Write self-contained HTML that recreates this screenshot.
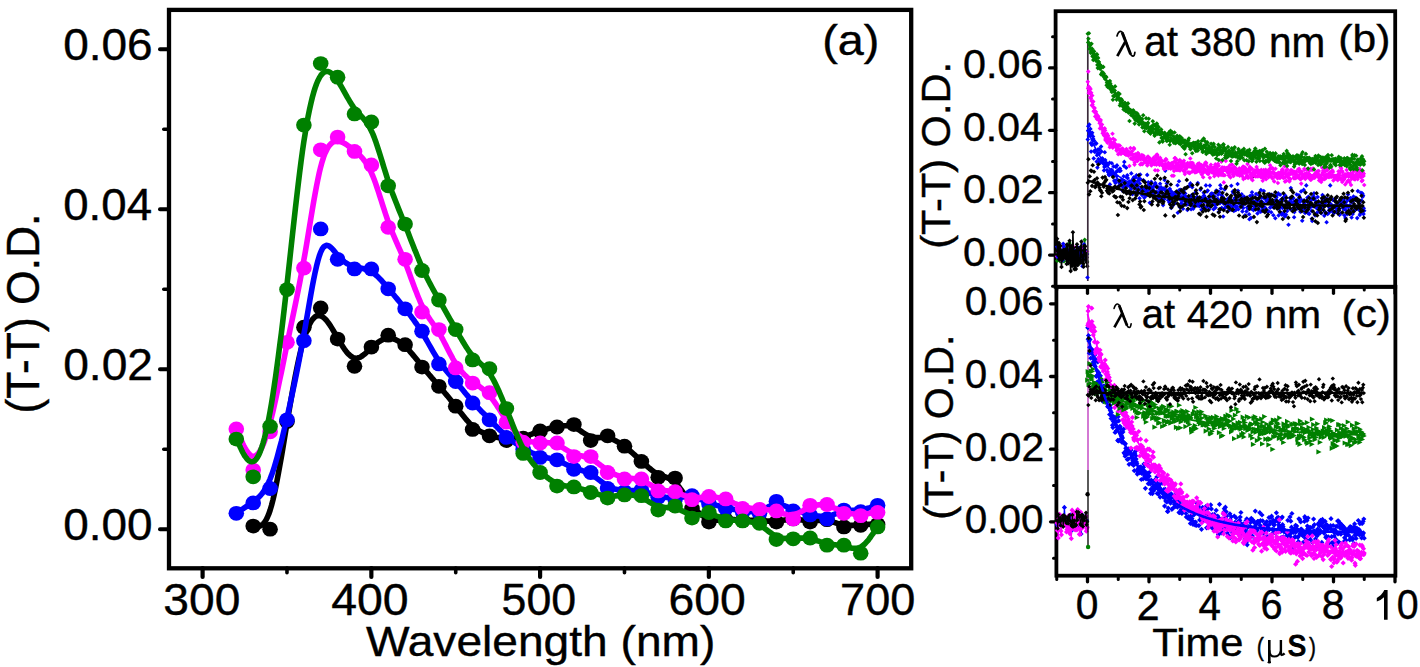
<!DOCTYPE html>
<html><head><meta charset="utf-8"><style>
html,body{margin:0;padding:0;background:#fff;overflow:hidden;width:1420px;height:667px;}
svg{display:block;}
</style></head><body>
<svg width="1420" height="667" viewBox="0 0 1420 667" font-family="Liberation Sans">
<defs><marker id="bk" markerUnits="userSpaceOnUse" viewBox="-5 -5 10 10" markerWidth="10" markerHeight="10" refX="0" refY="0" overflow="visible"><path d="M0 -2.30 L2.30 0 0 2.30 -2.30 0Z" fill="#000000"/></marker>
<marker id="bb" markerUnits="userSpaceOnUse" viewBox="-5 -5 10 10" markerWidth="10" markerHeight="10" refX="0" refY="0" overflow="visible"><path d="M0 -2.30 L2.30 0 0 2.30 -2.30 0Z" fill="#0000ff"/></marker>
<marker id="bm" markerUnits="userSpaceOnUse" viewBox="-5 -5 10 10" markerWidth="10" markerHeight="10" refX="0" refY="0" overflow="visible"><path d="M0 -2.30 L2.30 0 0 2.30 -2.30 0Z" fill="#ff00ff"/></marker>
<marker id="bg" markerUnits="userSpaceOnUse" viewBox="-5 -5 10 10" markerWidth="10" markerHeight="10" refX="0" refY="0" overflow="visible"><path d="M0 -2.30 L2.30 0 0 2.30 -2.30 0Z" fill="#008000"/></marker>
<marker id="ck" markerUnits="userSpaceOnUse" viewBox="-5 -5 10 10" markerWidth="10" markerHeight="10" refX="0" refY="0" overflow="visible"><path d="M0 -2.20 L2.20 0 0 2.20 -2.20 0Z" fill="#000000"/></marker>
<marker id="cb" markerUnits="userSpaceOnUse" viewBox="-5 -5 10 10" markerWidth="10" markerHeight="10" refX="0" refY="0" overflow="visible"><path d="M0 -2.60 L2.60 0 0 2.60 -2.60 0Z" fill="#0000ff"/></marker>
<marker id="cm" markerUnits="userSpaceOnUse" viewBox="-5 -5 10 10" markerWidth="10" markerHeight="10" refX="0" refY="0" overflow="visible"><path d="M0 -2.60 L2.60 0 0 2.60 -2.60 0Z" fill="#ff00ff"/></marker>
<marker id="cg" markerUnits="userSpaceOnUse" viewBox="-5 -5 10 10" markerWidth="10" markerHeight="10" refX="0" refY="0" overflow="visible"><path d="M-2.60 -2.60 L2.60 0 -2.60 2.60Z" fill="#008000"/></marker>
<marker id="dotk" markerUnits="userSpaceOnUse" viewBox="-5 -5 10 10" markerWidth="10" markerHeight="10" refX="0" refY="0" overflow="visible"><path d="M-2.20 0 A2.20 2.20 0 1 0 2.20 0 A2.20 2.20 0 1 0 -2.20 0Z" fill="#000000"/></marker>
<marker id="dotg" markerUnits="userSpaceOnUse" viewBox="-5 -5 10 10" markerWidth="10" markerHeight="10" refX="0" refY="0" overflow="visible"><path d="M-2.20 0 A2.20 2.20 0 1 0 2.20 0 A2.20 2.20 0 1 0 -2.20 0Z" fill="#008000"/></marker></defs>
<rect width="1420" height="667" fill="#fff"/>
<rect x="169" y="9.9" width="742.2" height="558.4" fill="none" stroke="#000" stroke-width="4.3"/>
<line x1="160.00" y1="529.20" x2="169.00" y2="529.20" stroke="#000" stroke-width="4.00" stroke-linecap="round"/>
<line x1="160.00" y1="369.20" x2="169.00" y2="369.20" stroke="#000" stroke-width="4.00" stroke-linecap="round"/>
<line x1="160.00" y1="209.20" x2="169.00" y2="209.20" stroke="#000" stroke-width="4.00" stroke-linecap="round"/>
<line x1="160.00" y1="49.20" x2="169.00" y2="49.20" stroke="#000" stroke-width="4.00" stroke-linecap="round"/>
<line x1="163.80" y1="449.20" x2="169.00" y2="449.20" stroke="#000" stroke-width="3.60" stroke-linecap="round"/>
<line x1="163.80" y1="289.20" x2="169.00" y2="289.20" stroke="#000" stroke-width="3.60" stroke-linecap="round"/>
<line x1="163.80" y1="129.20" x2="169.00" y2="129.20" stroke="#000" stroke-width="3.60" stroke-linecap="round"/>
<line x1="202.60" y1="568.00" x2="202.60" y2="576.90" stroke="#000" stroke-width="4.20" stroke-linecap="round"/>
<line x1="371.35" y1="568.00" x2="371.35" y2="576.90" stroke="#000" stroke-width="4.20" stroke-linecap="round"/>
<line x1="540.10" y1="568.00" x2="540.10" y2="576.90" stroke="#000" stroke-width="4.20" stroke-linecap="round"/>
<line x1="708.85" y1="568.00" x2="708.85" y2="576.90" stroke="#000" stroke-width="4.20" stroke-linecap="round"/>
<line x1="877.60" y1="568.00" x2="877.60" y2="576.90" stroke="#000" stroke-width="4.20" stroke-linecap="round"/>
<line x1="286.98" y1="568.00" x2="286.98" y2="572.70" stroke="#000" stroke-width="3.60" stroke-linecap="round"/>
<line x1="455.73" y1="568.00" x2="455.73" y2="572.70" stroke="#000" stroke-width="3.60" stroke-linecap="round"/>
<line x1="624.48" y1="568.00" x2="624.48" y2="572.70" stroke="#000" stroke-width="3.60" stroke-linecap="round"/>
<line x1="793.23" y1="568.00" x2="793.23" y2="572.70" stroke="#000" stroke-width="3.60" stroke-linecap="round"/>
<text transform="matrix(0.458739 0.000000 0.000000 0.446323 63.208050 540.464138)" font-family="Liberation Sans" font-size="100" fill="#000" stroke="#000" stroke-width="0.40" vector-effect="non-scaling-stroke">0.00</text>
<text transform="matrix(0.461514 0.000000 0.000000 0.446323 63.197213 380.464138)" font-family="Liberation Sans" font-size="100" fill="#000" stroke="#000" stroke-width="0.40" vector-effect="non-scaling-stroke">0.02</text>
<text transform="matrix(0.456354 0.000000 0.000000 0.446323 63.217369 220.464138)" font-family="Liberation Sans" font-size="100" fill="#000" stroke="#000" stroke-width="0.40" vector-effect="non-scaling-stroke">0.04</text>
<text transform="matrix(0.459941 0.000000 0.000000 0.446323 63.203354 60.464138)" font-family="Liberation Sans" font-size="100" fill="#000" stroke="#000" stroke-width="0.40" vector-effect="non-scaling-stroke">0.06</text>
<text transform="matrix(0.461256 0.000000 0.000000 0.435023 163.343265 615.475172)" font-family="Liberation Sans" font-size="100" fill="#000" stroke="#000" stroke-width="0.40" vector-effect="non-scaling-stroke">300</text>
<text transform="matrix(0.464379 0.000000 0.000000 0.435023 331.134286 615.475172)" font-family="Liberation Sans" font-size="100" fill="#000" stroke="#000" stroke-width="0.40" vector-effect="non-scaling-stroke">400</text>
<text transform="matrix(0.447351 0.000000 0.000000 0.435023 501.608848 615.475172)" font-family="Liberation Sans" font-size="100" fill="#000" stroke="#000" stroke-width="0.40" vector-effect="non-scaling-stroke">500</text>
<text transform="matrix(0.463065 0.000000 0.000000 0.435023 668.548500 615.475172)" font-family="Liberation Sans" font-size="100" fill="#000" stroke="#000" stroke-width="0.40" vector-effect="non-scaling-stroke">600</text>
<text transform="matrix(0.450535 0.000000 0.000000 0.435023 840.090130 615.475172)" font-family="Liberation Sans" font-size="100" fill="#000" stroke="#000" stroke-width="0.40" vector-effect="non-scaling-stroke">700</text>
<text transform="matrix(0.461221 0.000000 0.000000 0.419470 365.897315 655.595181)" font-family="Liberation Sans" font-size="100" fill="#000" stroke="#000" stroke-width="0.40" vector-effect="non-scaling-stroke">Wavelength (nm)</text>
<text transform="matrix(0.000000 -0.444684 0.470138 0.000000 38.566667 413.557561)" font-family="Liberation Sans" font-size="100" fill="#000" stroke="#000" stroke-width="0.40" vector-effect="non-scaling-stroke">(T-T) O.D.</text>
<text transform="matrix(0.467607 0.000000 0.000000 0.428277 822.150289 55.233333)" font-family="Liberation Sans" font-size="100" fill="#000" stroke="#000" stroke-width="0.40" vector-effect="non-scaling-stroke">(a)</text>
<g>
<path d="M253.2 525.6 L253.2 525.6 L253.2 525.6 L253.3 525.6 L253.3 525.6 L253.4 525.6 L253.6 525.6 L253.8 525.7 L254.1 525.7 L254.4 525.8 L254.9 525.9 L255.4 526.0 L256.0 526.1 L256.8 526.2 L257.7 526.3 L258.6 526.3 L259.7 526.1 L260.8 525.7 L262.0 524.9 L263.3 523.8 L264.6 522.2 L265.9 520.2 L267.3 517.5 L268.7 514.2 L270.1 510.2 L271.5 505.5 L272.9 500.1 L274.3 494.0 L275.7 487.4 L277.1 480.3 L278.5 472.8 L279.9 465.0 L281.4 456.8 L282.8 448.5 L284.2 440.1 L285.6 431.6 L287.0 423.2 L288.4 414.8 L289.8 406.6 L291.2 398.5 L292.6 390.6 L294.0 383.0 L295.4 375.6 L296.8 368.6 L298.2 361.9 L299.6 355.5 L301.0 349.6 L302.4 344.2 L303.8 339.2 L305.3 334.7 L306.7 330.8 L308.1 327.3 L309.5 324.3 L310.9 321.8 L312.3 319.7 L313.7 318.1 L315.1 316.8 L316.5 316.0 L317.9 315.6 L319.3 315.6 L320.7 315.9 L322.1 316.6 L323.5 317.5 L324.9 318.8 L326.4 320.3 L327.8 322.1 L329.2 324.0 L330.6 326.1 L332.0 328.4 L333.4 330.7 L334.8 333.1 L336.2 335.5 L337.6 338.0 L339.0 340.4 L340.4 342.8 L341.8 345.0 L343.2 347.2 L344.6 349.3 L346.0 351.2 L347.4 352.9 L348.9 354.4 L350.3 355.7 L351.7 356.8 L353.1 357.6 L354.5 358.1 L355.9 358.3 L357.3 358.1 L358.7 357.8 L360.1 357.2 L361.5 356.4 L362.9 355.4 L364.3 354.3 L365.7 353.1 L367.1 351.8 L368.5 350.5 L369.9 349.2 L371.3 347.8 L372.8 346.6 L374.2 345.3 L375.6 344.2 L377.0 343.1 L378.4 342.1 L379.8 341.2 L381.2 340.4 L382.6 339.8 L384.0 339.2 L385.4 338.7 L386.8 338.4 L388.2 338.2 L389.6 338.2 L391.0 338.3 L392.4 338.6 L393.9 339.0 L395.3 339.5 L396.7 340.2 L398.1 340.9 L399.5 341.8 L400.9 342.8 L402.3 343.9 L403.7 345.1 L405.1 346.4 L406.5 347.7 L407.9 349.2 L409.3 350.7 L410.7 352.3 L412.1 353.9 L413.5 355.6 L414.9 357.3 L416.4 359.1 L417.8 360.8 L419.2 362.6 L420.6 364.3 L422.0 366.1 L423.4 367.8 L424.8 369.5 L426.2 371.2 L427.6 372.8 L429.0 374.5 L430.4 376.1 L431.8 377.8 L433.2 379.4 L434.6 381.0 L436.0 382.7 L437.4 384.3 L438.8 385.9 L440.3 387.5 L441.7 389.2 L443.1 390.8 L444.5 392.5 L445.9 394.2 L447.3 395.8 L448.7 397.5 L450.1 399.2 L451.5 401.0 L452.9 402.7 L454.3 404.5 L455.7 406.3 L457.1 408.1 L458.5 409.9 L459.9 411.7 L461.4 413.5 L462.8 415.3 L464.2 417.0 L465.6 418.7 L467.0 420.4 L468.4 421.9 L469.8 423.4 L471.2 424.8 L472.6 426.1 L474.0 427.3 L475.4 428.4 L476.8 429.3 L478.2 430.2 L479.6 431.0 L481.0 431.7 L482.4 432.4 L483.9 433.0 L485.3 433.5 L486.7 434.1 L488.1 434.6 L489.5 435.0 L490.9 435.5 L492.3 435.9 L493.7 436.4 L495.1 436.8 L496.5 437.2 L497.9 437.5 L499.3 437.8 L500.7 438.1 L502.1 438.4 L503.5 438.6 L504.9 438.8 L506.3 438.9 L507.8 439.0 L509.2 439.0 L510.6 439.0 L512.0 438.9 L513.4 438.8 L514.8 438.6 L516.2 438.4 L517.6 438.2 L519.0 437.9 L520.4 437.6 L521.8 437.3 L523.2 436.9 L524.6 436.5 L526.0 436.0 L527.4 435.6 L528.9 435.1 L530.3 434.6 L531.7 434.1 L533.1 433.5 L534.5 433.0 L535.9 432.5 L537.3 432.0 L538.7 431.5 L540.1 431.0 L541.5 430.6 L542.9 430.1 L544.3 429.7 L545.7 429.3 L547.1 429.0 L548.5 428.6 L549.9 428.3 L551.4 427.9 L552.8 427.6 L554.2 427.3 L555.6 427.0 L557.0 426.8 L558.4 426.5 L559.8 426.3 L561.2 426.1 L562.6 425.9 L564.0 425.8 L565.4 425.7 L566.8 425.7 L568.2 425.8 L569.6 426.0 L571.0 426.3 L572.4 426.7 L573.9 427.2 L575.3 427.8 L576.7 428.5 L578.1 429.3 L579.5 430.2 L580.9 431.1 L582.3 432.1 L583.7 433.0 L585.1 433.9 L586.5 434.7 L587.9 435.4 L589.3 436.1 L590.7 436.6 L592.1 437.0 L593.5 437.3 L594.9 437.5 L596.4 437.6 L597.8 437.6 L599.2 437.6 L600.6 437.5 L602.0 437.5 L603.4 437.5 L604.8 437.5 L606.2 437.6 L607.6 437.8 L609.0 438.1 L610.4 438.5 L611.8 439.0 L613.2 439.5 L614.6 440.2 L616.0 440.9 L617.4 441.7 L618.9 442.5 L620.3 443.5 L621.7 444.4 L623.1 445.4 L624.5 446.5 L625.9 447.6 L627.3 448.7 L628.7 449.8 L630.1 451.0 L631.5 452.2 L632.9 453.4 L634.3 454.6 L635.7 455.9 L637.1 457.1 L638.5 458.4 L639.9 459.7 L641.4 461.0 L642.8 462.3 L644.2 463.6 L645.6 464.9 L647.0 466.1 L648.4 467.4 L649.8 468.5 L651.2 469.7 L652.6 470.8 L654.0 471.8 L655.4 472.7 L656.8 473.6 L658.2 474.3 L659.6 475.0 L661.0 475.5 L662.4 476.0 L663.9 476.5 L665.3 477.0 L666.7 477.5 L668.1 478.1 L669.5 478.7 L670.9 479.5 L672.3 480.3 L673.7 481.4 L675.1 482.6 L676.5 484.0 L677.9 485.5 L679.3 487.3 L680.7 489.1 L682.1 491.1 L683.5 493.1 L684.9 495.1 L686.4 497.2 L687.8 499.3 L689.2 501.3 L690.6 503.3 L692.0 505.2 L693.4 507.0 L694.8 508.6 L696.2 510.2 L697.6 511.6 L699.0 512.9 L700.4 514.1 L701.8 515.2 L703.2 516.1 L704.6 517.0 L706.0 517.7 L707.4 518.4 L708.9 518.9 L710.3 519.3 L711.7 519.6 L713.1 519.8 L714.5 520.0 L715.9 520.1 L717.3 520.1 L718.7 520.1 L720.1 520.0 L721.5 519.9 L722.9 519.9 L724.3 519.8 L725.7 519.7 L727.1 519.6 L728.5 519.6 L729.9 519.6 L731.4 519.6 L732.8 519.6 L734.2 519.6 L735.6 519.7 L737.0 519.7 L738.4 519.8 L739.8 519.8 L741.2 519.9 L742.6 520.0 L744.0 520.0 L745.4 520.1 L746.8 520.2 L748.2 520.2 L749.6 520.3 L751.0 520.4 L752.4 520.4 L753.9 520.5 L755.3 520.6 L756.7 520.6 L758.1 520.7 L759.5 520.8 L760.9 520.8 L762.3 520.9 L763.7 521.0 L765.1 521.0 L766.5 521.0 L767.9 521.1 L769.3 521.1 L770.7 521.1 L772.1 521.1 L773.5 521.0 L774.9 521.0 L776.3 520.9 L777.8 520.8 L779.2 520.6 L780.6 520.5 L782.0 520.3 L783.4 520.2 L784.8 520.0 L786.2 519.9 L787.6 519.7 L789.0 519.6 L790.4 519.5 L791.8 519.5 L793.2 519.4 L794.6 519.5 L796.0 519.5 L797.4 519.6 L798.9 519.7 L800.3 519.8 L801.7 520.0 L803.1 520.1 L804.5 520.3 L805.9 520.4 L807.3 520.5 L808.7 520.6 L810.1 520.6 L811.5 520.6 L812.9 520.6 L814.3 520.6 L815.7 520.5 L817.1 520.5 L818.5 520.4 L819.9 520.4 L821.4 520.4 L822.8 520.4 L824.2 520.5 L825.6 520.6 L827.0 520.8 L828.4 521.0 L829.8 521.3 L831.2 521.6 L832.6 522.0 L834.0 522.4 L835.4 522.8 L836.8 523.2 L838.2 523.6 L839.6 524.0 L841.0 524.3 L842.4 524.6 L843.8 524.9 L845.3 525.1 L846.7 525.2 L848.1 525.3 L849.5 525.4 L850.9 525.4 L852.3 525.4 L853.7 525.3 L855.1 525.3 L856.5 525.2 L857.9 525.1 L859.3 525.0 L860.7 524.9 L862.1 524.8 L863.5 524.7 L864.9 524.6 L866.2 524.5 L867.6 524.5 L868.8 524.4 L870.0 524.3 L871.1 524.3 L872.2 524.2 L873.2 524.2 L874.0 524.1 L874.8 524.1 L875.4 524.1 L876.0 524.0 L876.4 524.0 L876.8 524.0 L877.0 524.0 L877.2 524.0 L877.4 524.0 L877.5 524.0 L877.6 524.0 L877.6 524.0 L877.6 524.0 L877.6 524.0" fill="none" stroke="#000000" stroke-width="5.6" stroke-linejoin="round" stroke-linecap="round"/>
<ellipse cx="253.2" cy="526.1" rx="7.8" ry="7.4" fill="#000000"/>
<ellipse cx="270.1" cy="529.2" rx="7.8" ry="7.4" fill="#000000"/>
<ellipse cx="287.0" cy="421.4" rx="7.8" ry="7.4" fill="#000000"/>
<ellipse cx="303.9" cy="327.2" rx="7.8" ry="7.4" fill="#000000"/>
<ellipse cx="320.7" cy="308.0" rx="7.8" ry="7.4" fill="#000000"/>
<ellipse cx="337.6" cy="339.1" rx="7.8" ry="7.4" fill="#000000"/>
<ellipse cx="354.5" cy="366.3" rx="7.8" ry="7.4" fill="#000000"/>
<ellipse cx="371.4" cy="347.1" rx="7.8" ry="7.4" fill="#000000"/>
<ellipse cx="388.2" cy="335.2" rx="7.8" ry="7.4" fill="#000000"/>
<ellipse cx="405.1" cy="344.7" rx="7.8" ry="7.4" fill="#000000"/>
<ellipse cx="422.0" cy="367.1" rx="7.8" ry="7.4" fill="#000000"/>
<ellipse cx="438.9" cy="386.3" rx="7.8" ry="7.4" fill="#000000"/>
<ellipse cx="455.7" cy="406.2" rx="7.8" ry="7.4" fill="#000000"/>
<ellipse cx="472.6" cy="429.4" rx="7.8" ry="7.4" fill="#000000"/>
<ellipse cx="489.5" cy="435.8" rx="7.8" ry="7.4" fill="#000000"/>
<ellipse cx="506.4" cy="440.6" rx="7.8" ry="7.4" fill="#000000"/>
<ellipse cx="523.2" cy="438.2" rx="7.8" ry="7.4" fill="#000000"/>
<ellipse cx="540.1" cy="431.0" rx="7.8" ry="7.4" fill="#000000"/>
<ellipse cx="557.0" cy="427.0" rx="7.8" ry="7.4" fill="#000000"/>
<ellipse cx="573.9" cy="424.6" rx="7.8" ry="7.4" fill="#000000"/>
<ellipse cx="590.7" cy="440.6" rx="7.8" ry="7.4" fill="#000000"/>
<ellipse cx="607.6" cy="435.8" rx="7.8" ry="7.4" fill="#000000"/>
<ellipse cx="624.5" cy="446.2" rx="7.8" ry="7.4" fill="#000000"/>
<ellipse cx="641.4" cy="461.4" rx="7.8" ry="7.4" fill="#000000"/>
<ellipse cx="658.2" cy="477.3" rx="7.8" ry="7.4" fill="#000000"/>
<ellipse cx="675.1" cy="478.1" rx="7.8" ry="7.4" fill="#000000"/>
<ellipse cx="692.0" cy="508.5" rx="7.8" ry="7.4" fill="#000000"/>
<ellipse cx="708.9" cy="522.1" rx="7.8" ry="7.4" fill="#000000"/>
<ellipse cx="725.7" cy="519.7" rx="7.8" ry="7.4" fill="#000000"/>
<ellipse cx="742.6" cy="520.5" rx="7.8" ry="7.4" fill="#000000"/>
<ellipse cx="759.5" cy="521.3" rx="7.8" ry="7.4" fill="#000000"/>
<ellipse cx="776.4" cy="522.1" rx="7.8" ry="7.4" fill="#000000"/>
<ellipse cx="793.2" cy="518.9" rx="7.8" ry="7.4" fill="#000000"/>
<ellipse cx="810.1" cy="522.1" rx="7.8" ry="7.4" fill="#000000"/>
<ellipse cx="827.0" cy="519.7" rx="7.8" ry="7.4" fill="#000000"/>
<ellipse cx="843.9" cy="526.9" rx="7.8" ry="7.4" fill="#000000"/>
<ellipse cx="860.7" cy="525.3" rx="7.8" ry="7.4" fill="#000000"/>
<ellipse cx="877.6" cy="524.5" rx="7.8" ry="7.4" fill="#000000"/>
<path d="M236.3 512.8 L236.4 512.8 L236.4 512.8 L236.4 512.7 L236.5 512.7 L236.6 512.6 L236.7 512.6 L236.9 512.4 L237.2 512.3 L237.5 512.0 L238.0 511.8 L238.5 511.4 L239.2 511.0 L239.9 510.6 L240.8 510.0 L241.8 509.4 L242.8 508.8 L243.9 508.1 L245.1 507.3 L246.4 506.5 L247.7 505.6 L249.1 504.7 L250.4 503.7 L251.8 502.7 L253.2 501.7 L254.6 500.7 L256.0 499.6 L257.4 498.4 L258.9 497.1 L260.3 495.6 L261.7 494.0 L263.1 492.2 L264.5 490.1 L265.9 487.8 L267.3 485.2 L268.7 482.2 L270.1 479.0 L271.5 475.3 L272.9 471.3 L274.3 467.0 L275.7 462.4 L277.1 457.5 L278.5 452.3 L279.9 446.9 L281.4 441.4 L282.8 435.6 L284.2 429.7 L285.6 423.7 L287.0 417.6 L288.4 411.4 L289.8 405.1 L291.2 398.7 L292.6 392.2 L294.0 385.6 L295.4 378.9 L296.8 372.0 L298.2 364.9 L299.6 357.7 L301.0 350.3 L302.4 342.6 L303.8 334.8 L305.3 326.7 L306.7 318.6 L308.1 310.4 L309.5 302.2 L310.9 294.3 L312.3 286.6 L313.7 279.3 L315.1 272.5 L316.5 266.3 L317.9 260.7 L319.3 256.0 L320.7 252.1 L322.1 249.2 L323.5 247.2 L324.9 246.0 L326.4 245.4 L327.8 245.5 L329.2 246.1 L330.6 247.2 L332.0 248.5 L333.4 250.1 L334.8 251.8 L336.2 253.6 L337.6 255.3 L339.0 256.9 L340.4 258.4 L341.8 259.7 L343.2 260.9 L344.6 262.0 L346.0 262.9 L347.4 263.8 L348.9 264.6 L350.3 265.2 L351.7 265.8 L353.1 266.3 L354.5 266.8 L355.9 267.1 L357.3 267.4 L358.7 267.7 L360.1 268.0 L361.5 268.3 L362.9 268.6 L364.3 268.9 L365.7 269.3 L367.1 269.7 L368.5 270.3 L369.9 270.9 L371.3 271.7 L372.8 272.6 L374.2 273.6 L375.6 274.8 L377.0 276.0 L378.4 277.3 L379.8 278.8 L381.2 280.2 L382.6 281.8 L384.0 283.4 L385.4 285.0 L386.8 286.7 L388.2 288.3 L389.6 290.0 L391.0 291.7 L392.4 293.3 L393.9 295.0 L395.3 296.7 L396.7 298.4 L398.1 300.1 L399.5 301.8 L400.9 303.5 L402.3 305.2 L403.7 306.9 L405.1 308.7 L406.5 310.5 L407.9 312.3 L409.3 314.1 L410.7 315.9 L412.1 317.8 L413.5 319.7 L414.9 321.7 L416.4 323.7 L417.8 325.8 L419.2 327.9 L420.6 330.1 L422.0 332.4 L423.4 334.7 L424.8 337.1 L426.2 339.5 L427.6 342.0 L429.0 344.5 L430.4 346.9 L431.8 349.4 L433.2 351.8 L434.6 354.2 L436.0 356.5 L437.4 358.7 L438.8 360.9 L440.3 362.9 L441.7 364.9 L443.1 366.7 L444.5 368.5 L445.9 370.3 L447.3 372.0 L448.7 373.6 L450.1 375.2 L451.5 376.8 L452.9 378.4 L454.3 380.0 L455.7 381.6 L457.1 383.3 L458.5 385.0 L459.9 386.6 L461.4 388.3 L462.8 390.0 L464.2 391.7 L465.6 393.5 L467.0 395.1 L468.4 396.8 L469.8 398.5 L471.2 400.1 L472.6 401.7 L474.0 403.3 L475.4 404.9 L476.8 406.4 L478.2 407.9 L479.6 409.4 L481.0 410.9 L482.4 412.3 L483.9 413.7 L485.3 415.2 L486.7 416.6 L488.1 418.0 L489.5 419.5 L490.9 420.9 L492.3 422.3 L493.7 423.8 L495.1 425.2 L496.5 426.6 L497.9 428.0 L499.3 429.4 L500.7 430.8 L502.1 432.1 L503.5 433.4 L504.9 434.7 L506.3 436.0 L507.8 437.2 L509.2 438.3 L510.6 439.5 L512.0 440.6 L513.4 441.7 L514.8 442.7 L516.2 443.7 L517.6 444.6 L519.0 445.6 L520.4 446.5 L521.8 447.4 L523.2 448.2 L524.6 449.0 L526.0 449.8 L527.4 450.6 L528.9 451.3 L530.3 452.0 L531.7 452.7 L533.1 453.3 L534.5 453.9 L535.9 454.5 L537.3 455.0 L538.7 455.5 L540.1 455.9 L541.5 456.3 L542.9 456.7 L544.3 457.1 L545.7 457.4 L547.1 457.8 L548.5 458.1 L549.9 458.4 L551.4 458.8 L552.8 459.2 L554.2 459.5 L555.6 460.0 L557.0 460.5 L558.4 461.0 L559.8 461.5 L561.2 462.1 L562.6 462.8 L564.0 463.4 L565.4 464.1 L566.8 464.7 L568.2 465.4 L569.6 466.0 L571.0 466.6 L572.4 467.2 L573.9 467.8 L575.3 468.3 L576.7 468.8 L578.1 469.2 L579.5 469.7 L580.9 470.1 L582.3 470.6 L583.7 471.1 L585.1 471.6 L586.5 472.1 L587.9 472.7 L589.3 473.4 L590.7 474.2 L592.1 475.0 L593.5 475.9 L594.9 476.9 L596.4 477.9 L597.8 479.0 L599.2 480.0 L600.6 481.1 L602.0 482.1 L603.4 483.2 L604.8 484.1 L606.2 485.0 L607.6 485.9 L609.0 486.6 L610.4 487.3 L611.8 487.9 L613.2 488.4 L614.6 488.9 L616.0 489.2 L617.4 489.6 L618.9 489.8 L620.3 490.0 L621.7 490.2 L623.1 490.3 L624.5 490.4 L625.9 490.5 L627.3 490.5 L628.7 490.5 L630.1 490.5 L631.5 490.5 L632.9 490.5 L634.3 490.5 L635.7 490.5 L637.1 490.6 L638.5 490.7 L639.9 490.9 L641.4 491.1 L642.8 491.3 L644.2 491.7 L645.6 492.0 L647.0 492.4 L648.4 492.8 L649.8 493.3 L651.2 493.7 L652.6 494.2 L654.0 494.6 L655.4 495.1 L656.8 495.5 L658.2 495.9 L659.6 496.2 L661.0 496.5 L662.4 496.8 L663.9 497.0 L665.3 497.2 L666.7 497.4 L668.1 497.5 L669.5 497.6 L670.9 497.6 L672.3 497.7 L673.7 497.6 L675.1 497.6 L676.5 497.5 L677.9 497.4 L679.3 497.3 L680.7 497.2 L682.1 497.0 L683.5 496.9 L684.9 496.8 L686.4 496.8 L687.8 496.8 L689.2 496.8 L690.6 496.9 L692.0 497.1 L693.4 497.3 L694.8 497.6 L696.2 498.0 L697.6 498.4 L699.0 498.9 L700.4 499.4 L701.8 499.9 L703.2 500.4 L704.6 501.0 L706.0 501.6 L707.4 502.1 L708.9 502.7 L710.3 503.2 L711.7 503.7 L713.1 504.2 L714.5 504.6 L715.9 505.1 L717.3 505.5 L718.7 505.9 L720.1 506.3 L721.5 506.7 L722.9 507.0 L724.3 507.4 L725.7 507.7 L727.1 508.0 L728.5 508.4 L729.9 508.7 L731.4 509.0 L732.8 509.2 L734.2 509.5 L735.6 509.8 L737.0 510.0 L738.4 510.3 L739.8 510.5 L741.2 510.7 L742.6 510.9 L744.0 511.1 L745.4 511.3 L746.8 511.4 L748.2 511.5 L749.6 511.6 L751.0 511.7 L752.4 511.6 L753.9 511.6 L755.3 511.4 L756.7 511.2 L758.1 510.9 L759.5 510.5 L760.9 510.0 L762.3 509.5 L763.7 508.9 L765.1 508.2 L766.5 507.6 L767.9 507.0 L769.3 506.3 L770.7 505.8 L772.1 505.3 L773.5 504.9 L774.9 504.6 L776.3 504.4 L777.8 504.4 L779.2 504.5 L780.6 504.7 L782.0 505.0 L783.4 505.4 L784.8 505.9 L786.2 506.5 L787.6 507.0 L789.0 507.6 L790.4 508.3 L791.8 508.9 L793.2 509.4 L794.6 510.0 L796.0 510.5 L797.4 511.0 L798.9 511.4 L800.3 511.9 L801.7 512.3 L803.1 512.6 L804.5 513.0 L805.9 513.4 L807.3 513.7 L808.7 514.0 L810.1 514.4 L811.5 514.7 L812.9 515.0 L814.3 515.3 L815.7 515.6 L817.1 515.9 L818.5 516.1 L819.9 516.3 L821.4 516.4 L822.8 516.5 L824.2 516.5 L825.6 516.4 L827.0 516.2 L828.4 516.0 L829.8 515.7 L831.2 515.3 L832.6 514.9 L834.0 514.4 L835.4 513.9 L836.8 513.4 L838.2 512.9 L839.6 512.5 L841.0 512.0 L842.4 511.6 L843.8 511.3 L845.3 511.0 L846.7 510.8 L848.1 510.7 L849.5 510.6 L850.9 510.5 L852.3 510.4 L853.7 510.4 L855.1 510.3 L856.5 510.2 L857.9 510.1 L859.3 510.0 L860.7 509.8 L862.1 509.6 L863.5 509.3 L864.9 509.0 L866.2 508.7 L867.6 508.3 L868.8 507.9 L870.0 507.6 L871.1 507.2 L872.2 506.8 L873.2 506.5 L874.0 506.1 L874.8 505.9 L875.4 505.6 L876.0 505.4 L876.4 505.2 L876.8 505.1 L877.0 505.0 L877.2 504.9 L877.4 504.9 L877.5 504.8 L877.6 504.8 L877.6 504.8 L877.6 504.8 L877.6 504.8" fill="none" stroke="#0000ff" stroke-width="5.6" stroke-linejoin="round" stroke-linecap="round"/>
<ellipse cx="236.3" cy="513.3" rx="7.8" ry="7.4" fill="#0000ff"/>
<ellipse cx="253.2" cy="502.9" rx="7.8" ry="7.4" fill="#0000ff"/>
<ellipse cx="270.1" cy="488.5" rx="7.8" ry="7.4" fill="#0000ff"/>
<ellipse cx="287.0" cy="419.8" rx="7.8" ry="7.4" fill="#0000ff"/>
<ellipse cx="303.9" cy="340.7" rx="7.8" ry="7.4" fill="#0000ff"/>
<ellipse cx="320.7" cy="228.9" rx="7.8" ry="7.4" fill="#0000ff"/>
<ellipse cx="337.6" cy="259.3" rx="7.8" ry="7.4" fill="#0000ff"/>
<ellipse cx="354.5" cy="268.9" rx="7.8" ry="7.4" fill="#0000ff"/>
<ellipse cx="371.4" cy="268.9" rx="7.8" ry="7.4" fill="#0000ff"/>
<ellipse cx="388.2" cy="288.8" rx="7.8" ry="7.4" fill="#0000ff"/>
<ellipse cx="405.1" cy="308.8" rx="7.8" ry="7.4" fill="#0000ff"/>
<ellipse cx="422.0" cy="331.2" rx="7.8" ry="7.4" fill="#0000ff"/>
<ellipse cx="438.9" cy="363.9" rx="7.8" ry="7.4" fill="#0000ff"/>
<ellipse cx="455.7" cy="381.5" rx="7.8" ry="7.4" fill="#0000ff"/>
<ellipse cx="472.6" cy="403.0" rx="7.8" ry="7.4" fill="#0000ff"/>
<ellipse cx="489.5" cy="419.8" rx="7.8" ry="7.4" fill="#0000ff"/>
<ellipse cx="506.4" cy="437.4" rx="7.8" ry="7.4" fill="#0000ff"/>
<ellipse cx="523.2" cy="449.4" rx="7.8" ry="7.4" fill="#0000ff"/>
<ellipse cx="540.1" cy="457.4" rx="7.8" ry="7.4" fill="#0000ff"/>
<ellipse cx="557.0" cy="459.8" rx="7.8" ry="7.4" fill="#0000ff"/>
<ellipse cx="573.9" cy="469.3" rx="7.8" ry="7.4" fill="#0000ff"/>
<ellipse cx="590.7" cy="472.5" rx="7.8" ry="7.4" fill="#0000ff"/>
<ellipse cx="607.6" cy="488.5" rx="7.8" ry="7.4" fill="#0000ff"/>
<ellipse cx="624.5" cy="491.7" rx="7.8" ry="7.4" fill="#0000ff"/>
<ellipse cx="641.4" cy="490.1" rx="7.8" ry="7.4" fill="#0000ff"/>
<ellipse cx="658.2" cy="497.3" rx="7.8" ry="7.4" fill="#0000ff"/>
<ellipse cx="675.1" cy="498.9" rx="7.8" ry="7.4" fill="#0000ff"/>
<ellipse cx="692.0" cy="495.7" rx="7.8" ry="7.4" fill="#0000ff"/>
<ellipse cx="708.9" cy="503.7" rx="7.8" ry="7.4" fill="#0000ff"/>
<ellipse cx="725.7" cy="508.5" rx="7.8" ry="7.4" fill="#0000ff"/>
<ellipse cx="742.6" cy="511.7" rx="7.8" ry="7.4" fill="#0000ff"/>
<ellipse cx="759.5" cy="513.3" rx="7.8" ry="7.4" fill="#0000ff"/>
<ellipse cx="776.4" cy="501.3" rx="7.8" ry="7.4" fill="#0000ff"/>
<ellipse cx="793.2" cy="510.9" rx="7.8" ry="7.4" fill="#0000ff"/>
<ellipse cx="810.1" cy="514.9" rx="7.8" ry="7.4" fill="#0000ff"/>
<ellipse cx="827.0" cy="518.9" rx="7.8" ry="7.4" fill="#0000ff"/>
<ellipse cx="843.9" cy="510.1" rx="7.8" ry="7.4" fill="#0000ff"/>
<ellipse cx="860.7" cy="511.7" rx="7.8" ry="7.4" fill="#0000ff"/>
<ellipse cx="877.6" cy="505.3" rx="7.8" ry="7.4" fill="#0000ff"/>
<path d="M236.3 428.4 L236.4 428.4 L236.4 428.5 L236.4 428.5 L236.5 428.7 L236.6 428.9 L236.7 429.3 L236.9 429.8 L237.2 430.5 L237.5 431.3 L238.0 432.4 L238.5 433.7 L239.2 435.3 L239.9 437.1 L240.8 439.2 L241.8 441.4 L242.8 443.7 L243.9 446.0 L245.1 448.2 L246.4 450.3 L247.7 452.2 L249.1 453.9 L250.4 455.1 L251.8 456.0 L253.2 456.4 L254.6 456.2 L256.0 455.5 L257.4 454.3 L258.9 452.6 L260.3 450.4 L261.7 447.8 L263.1 444.6 L264.5 441.1 L265.9 437.1 L267.3 432.7 L268.7 427.9 L270.1 422.8 L271.5 417.3 L272.9 411.5 L274.3 405.4 L275.7 399.1 L277.1 392.5 L278.5 385.8 L279.9 379.0 L281.4 372.1 L282.8 365.1 L284.2 358.2 L285.6 351.2 L287.0 344.4 L288.4 337.6 L289.8 330.9 L291.2 324.2 L292.6 317.6 L294.0 310.9 L295.4 304.1 L296.8 297.2 L298.2 290.2 L299.6 283.1 L301.0 275.7 L302.4 268.1 L303.8 260.2 L305.3 252.1 L306.7 243.7 L308.1 235.2 L309.5 226.6 L310.9 218.1 L312.3 209.7 L313.7 201.6 L315.1 193.7 L316.5 186.2 L317.9 179.2 L319.3 172.7 L320.7 166.9 L322.1 161.8 L323.5 157.4 L324.9 153.6 L326.4 150.5 L327.8 147.8 L329.2 145.7 L330.6 144.1 L332.0 142.8 L333.4 141.9 L334.8 141.4 L336.2 141.1 L337.6 141.1 L339.0 141.2 L340.4 141.6 L341.8 142.1 L343.2 142.7 L344.6 143.4 L346.0 144.3 L347.4 145.3 L348.9 146.3 L350.3 147.4 L351.7 148.5 L353.1 149.6 L354.5 150.8 L355.9 152.0 L357.3 153.2 L358.7 154.4 L360.1 155.7 L361.5 157.2 L362.9 158.7 L364.3 160.5 L365.7 162.4 L367.1 164.5 L368.5 167.0 L369.9 169.6 L371.3 172.6 L372.8 176.0 L374.2 179.6 L375.6 183.4 L377.0 187.5 L378.4 191.7 L379.8 196.1 L381.2 200.4 L382.6 204.9 L384.0 209.2 L385.4 213.5 L386.8 217.7 L388.2 221.8 L389.6 225.6 L391.0 229.2 L392.4 232.7 L393.9 236.1 L395.3 239.4 L396.7 242.6 L398.1 245.8 L399.5 249.0 L400.9 252.2 L402.3 255.4 L403.7 258.8 L405.1 262.2 L406.5 265.8 L407.9 269.5 L409.3 273.3 L410.7 277.2 L412.1 281.0 L413.5 284.8 L414.9 288.6 L416.4 292.3 L417.8 295.9 L419.2 299.3 L420.6 302.6 L422.0 305.6 L423.4 308.4 L424.8 311.0 L426.2 313.5 L427.6 315.7 L429.0 317.9 L430.4 320.0 L431.8 322.0 L433.2 324.0 L434.6 326.0 L436.0 328.1 L437.4 330.3 L438.8 332.5 L440.3 334.9 L441.7 337.4 L443.1 340.0 L444.5 342.7 L445.9 345.4 L447.3 348.2 L448.7 350.9 L450.1 353.6 L451.5 356.2 L452.9 358.8 L454.3 361.2 L455.7 363.5 L457.1 365.7 L458.5 367.7 L459.9 369.6 L461.4 371.3 L462.8 372.9 L464.2 374.4 L465.6 375.8 L467.0 377.1 L468.4 378.3 L469.8 379.5 L471.2 380.6 L472.6 381.6 L474.0 382.7 L475.4 383.7 L476.8 384.6 L478.2 385.6 L479.6 386.6 L481.0 387.7 L482.4 388.8 L483.9 389.9 L485.3 391.2 L486.7 392.5 L488.1 393.9 L489.5 395.5 L490.9 397.2 L492.3 399.0 L493.7 400.9 L495.1 402.9 L496.5 405.0 L497.9 407.2 L499.3 409.3 L500.7 411.5 L502.1 413.7 L503.5 415.9 L504.9 418.0 L506.3 420.1 L507.8 422.1 L509.2 424.1 L510.6 426.0 L512.0 427.8 L513.4 429.5 L514.8 431.1 L516.2 432.6 L517.6 434.0 L519.0 435.3 L520.4 436.5 L521.8 437.6 L523.2 438.5 L524.6 439.3 L526.0 440.0 L527.4 440.5 L528.9 441.0 L530.3 441.4 L531.7 441.7 L533.1 441.9 L534.5 442.1 L535.9 442.2 L537.3 442.3 L538.7 442.3 L540.1 442.4 L541.5 442.4 L542.9 442.4 L544.3 442.5 L545.7 442.5 L547.1 442.6 L548.5 442.8 L549.9 442.9 L551.4 443.2 L552.8 443.4 L554.2 443.8 L555.6 444.2 L557.0 444.7 L558.4 445.4 L559.8 446.0 L561.2 446.8 L562.6 447.6 L564.0 448.4 L565.4 449.3 L566.8 450.1 L568.2 451.0 L569.6 451.7 L571.0 452.5 L572.4 453.2 L573.9 453.8 L575.3 454.3 L576.7 454.8 L578.1 455.2 L579.5 455.5 L580.9 455.8 L582.3 456.1 L583.7 456.4 L585.1 456.8 L586.5 457.2 L587.9 457.6 L589.3 458.1 L590.7 458.7 L592.1 459.4 L593.5 460.3 L594.9 461.2 L596.4 462.1 L597.8 463.1 L599.2 464.2 L600.6 465.3 L602.0 466.3 L603.4 467.4 L604.8 468.5 L606.2 469.5 L607.6 470.4 L609.0 471.3 L610.4 472.2 L611.8 472.9 L613.2 473.7 L614.6 474.3 L616.0 474.9 L617.4 475.4 L618.9 475.9 L620.3 476.4 L621.7 476.7 L623.1 477.1 L624.5 477.4 L625.9 477.6 L627.3 477.8 L628.7 478.0 L630.1 478.2 L631.5 478.4 L632.9 478.5 L634.3 478.7 L635.7 479.0 L637.1 479.3 L638.5 479.6 L639.9 480.0 L641.4 480.4 L642.8 481.0 L644.2 481.6 L645.6 482.2 L647.0 482.9 L648.4 483.7 L649.8 484.4 L651.2 485.2 L652.6 485.9 L654.0 486.7 L655.4 487.3 L656.8 488.0 L658.2 488.5 L659.6 489.0 L661.0 489.5 L662.4 489.8 L663.9 490.2 L665.3 490.5 L666.7 490.7 L668.1 491.0 L669.5 491.2 L670.9 491.5 L672.3 491.8 L673.7 492.1 L675.1 492.4 L676.5 492.8 L677.9 493.2 L679.3 493.7 L680.7 494.2 L682.1 494.6 L683.5 495.1 L684.9 495.6 L686.4 496.0 L687.8 496.4 L689.2 496.8 L690.6 497.1 L692.0 497.3 L693.4 497.5 L694.8 497.6 L696.2 497.6 L697.6 497.6 L699.0 497.6 L700.4 497.5 L701.8 497.4 L703.2 497.3 L704.6 497.2 L706.0 497.1 L707.4 497.0 L708.9 496.9 L710.3 496.9 L711.7 496.9 L713.1 497.0 L714.5 497.1 L715.9 497.3 L717.3 497.5 L718.7 497.7 L720.1 498.0 L721.5 498.3 L722.9 498.7 L724.3 499.1 L725.7 499.6 L727.1 500.1 L728.5 500.7 L729.9 501.3 L731.4 501.9 L732.8 502.5 L734.2 503.2 L735.6 503.8 L737.0 504.4 L738.4 505.0 L739.8 505.5 L741.2 506.1 L742.6 506.5 L744.0 506.9 L745.4 507.3 L746.8 507.6 L748.2 507.8 L749.6 508.0 L751.0 508.2 L752.4 508.4 L753.9 508.5 L755.3 508.6 L756.7 508.7 L758.1 508.8 L759.5 508.9 L760.9 509.0 L762.3 509.1 L763.7 509.3 L765.1 509.4 L766.5 509.6 L767.9 509.7 L769.3 509.9 L770.7 510.2 L772.1 510.4 L773.5 510.7 L774.9 511.1 L776.3 511.4 L777.8 511.9 L779.2 512.3 L780.6 512.8 L782.0 513.2 L783.4 513.7 L784.8 514.1 L786.2 514.4 L787.6 514.7 L789.0 514.9 L790.4 515.0 L791.8 514.9 L793.2 514.8 L794.6 514.5 L796.0 514.0 L797.4 513.5 L798.9 512.9 L800.3 512.1 L801.7 511.4 L803.1 510.6 L804.5 509.8 L805.9 509.0 L807.3 508.3 L808.7 507.6 L810.1 506.9 L811.5 506.4 L812.9 505.9 L814.3 505.5 L815.7 505.2 L817.1 505.0 L818.5 504.9 L819.9 504.8 L821.4 504.8 L822.8 504.9 L824.2 505.1 L825.6 505.3 L827.0 505.6 L828.4 506.0 L829.8 506.4 L831.2 506.8 L832.6 507.4 L834.0 507.9 L835.4 508.4 L836.8 509.0 L838.2 509.6 L839.6 510.2 L841.0 510.7 L842.4 511.2 L843.8 511.7 L845.3 512.2 L846.7 512.6 L848.1 512.9 L849.5 513.2 L850.9 513.5 L852.3 513.7 L853.7 513.9 L855.1 514.1 L856.5 514.2 L857.9 514.2 L859.3 514.3 L860.7 514.2 L862.1 514.2 L863.5 514.1 L864.9 514.0 L866.2 513.8 L867.6 513.7 L868.8 513.5 L870.0 513.3 L871.1 513.2 L872.2 513.0 L873.2 512.8 L874.0 512.7 L874.8 512.5 L875.4 512.4 L876.0 512.3 L876.4 512.2 L876.8 512.1 L877.0 512.1 L877.2 512.0 L877.4 512.0 L877.5 512.0 L877.6 512.0 L877.6 512.0 L877.6 512.0 L877.6 512.0" fill="none" stroke="#ff00ff" stroke-width="5.6" stroke-linejoin="round" stroke-linecap="round"/>
<ellipse cx="236.3" cy="428.9" rx="7.8" ry="7.4" fill="#ff00ff"/>
<ellipse cx="253.2" cy="470.1" rx="7.8" ry="7.4" fill="#ff00ff"/>
<ellipse cx="270.1" cy="431.8" rx="7.8" ry="7.4" fill="#ff00ff"/>
<ellipse cx="287.0" cy="342.3" rx="7.8" ry="7.4" fill="#ff00ff"/>
<ellipse cx="303.9" cy="268.1" rx="7.8" ry="7.4" fill="#ff00ff"/>
<ellipse cx="320.7" cy="149.8" rx="7.8" ry="7.4" fill="#ff00ff"/>
<ellipse cx="337.6" cy="137.1" rx="7.8" ry="7.4" fill="#ff00ff"/>
<ellipse cx="354.5" cy="151.4" rx="7.8" ry="7.4" fill="#ff00ff"/>
<ellipse cx="371.4" cy="165.0" rx="7.8" ry="7.4" fill="#ff00ff"/>
<ellipse cx="388.2" cy="227.3" rx="7.8" ry="7.4" fill="#ff00ff"/>
<ellipse cx="405.1" cy="259.3" rx="7.8" ry="7.4" fill="#ff00ff"/>
<ellipse cx="422.0" cy="312.0" rx="7.8" ry="7.4" fill="#ff00ff"/>
<ellipse cx="438.9" cy="329.6" rx="7.8" ry="7.4" fill="#ff00ff"/>
<ellipse cx="455.7" cy="367.9" rx="7.8" ry="7.4" fill="#ff00ff"/>
<ellipse cx="472.6" cy="383.1" rx="7.8" ry="7.4" fill="#ff00ff"/>
<ellipse cx="489.5" cy="392.7" rx="7.8" ry="7.4" fill="#ff00ff"/>
<ellipse cx="506.4" cy="422.2" rx="7.8" ry="7.4" fill="#ff00ff"/>
<ellipse cx="523.2" cy="442.2" rx="7.8" ry="7.4" fill="#ff00ff"/>
<ellipse cx="540.1" cy="443.0" rx="7.8" ry="7.4" fill="#ff00ff"/>
<ellipse cx="557.0" cy="443.0" rx="7.8" ry="7.4" fill="#ff00ff"/>
<ellipse cx="573.9" cy="456.6" rx="7.8" ry="7.4" fill="#ff00ff"/>
<ellipse cx="590.7" cy="456.6" rx="7.8" ry="7.4" fill="#ff00ff"/>
<ellipse cx="607.6" cy="472.5" rx="7.8" ry="7.4" fill="#ff00ff"/>
<ellipse cx="624.5" cy="478.9" rx="7.8" ry="7.4" fill="#ff00ff"/>
<ellipse cx="641.4" cy="478.9" rx="7.8" ry="7.4" fill="#ff00ff"/>
<ellipse cx="658.2" cy="490.9" rx="7.8" ry="7.4" fill="#ff00ff"/>
<ellipse cx="675.1" cy="491.7" rx="7.8" ry="7.4" fill="#ff00ff"/>
<ellipse cx="692.0" cy="499.7" rx="7.8" ry="7.4" fill="#ff00ff"/>
<ellipse cx="708.9" cy="496.5" rx="7.8" ry="7.4" fill="#ff00ff"/>
<ellipse cx="725.7" cy="498.9" rx="7.8" ry="7.4" fill="#ff00ff"/>
<ellipse cx="742.6" cy="508.5" rx="7.8" ry="7.4" fill="#ff00ff"/>
<ellipse cx="759.5" cy="509.3" rx="7.8" ry="7.4" fill="#ff00ff"/>
<ellipse cx="776.4" cy="510.9" rx="7.8" ry="7.4" fill="#ff00ff"/>
<ellipse cx="793.2" cy="518.9" rx="7.8" ry="7.4" fill="#ff00ff"/>
<ellipse cx="810.1" cy="505.3" rx="7.8" ry="7.4" fill="#ff00ff"/>
<ellipse cx="827.0" cy="504.5" rx="7.8" ry="7.4" fill="#ff00ff"/>
<ellipse cx="843.9" cy="513.3" rx="7.8" ry="7.4" fill="#ff00ff"/>
<ellipse cx="860.7" cy="515.7" rx="7.8" ry="7.4" fill="#ff00ff"/>
<ellipse cx="877.6" cy="512.5" rx="7.8" ry="7.4" fill="#ff00ff"/>
<path d="M236.3 438.6 L236.4 438.6 L236.4 438.6 L236.4 438.7 L236.5 438.8 L236.6 439.0 L236.7 439.4 L236.9 439.8 L237.2 440.4 L237.5 441.2 L238.0 442.2 L238.5 443.4 L239.2 444.9 L239.9 446.5 L240.8 448.4 L241.8 450.4 L242.8 452.5 L243.9 454.5 L245.1 456.4 L246.4 458.1 L247.7 459.6 L249.1 460.8 L250.4 461.5 L251.8 461.8 L253.2 461.6 L254.6 460.8 L256.0 459.3 L257.4 457.3 L258.9 454.6 L260.3 451.3 L261.7 447.4 L263.1 443.0 L264.5 437.9 L265.9 432.2 L267.3 425.9 L268.7 419.0 L270.1 411.5 L271.5 403.4 L272.9 394.7 L274.3 385.5 L275.7 375.9 L277.1 365.7 L278.5 355.1 L279.9 344.1 L281.4 332.8 L282.8 321.1 L284.2 309.2 L285.6 296.9 L287.0 284.5 L288.4 271.9 L289.8 259.1 L291.2 246.3 L292.6 233.5 L294.0 220.9 L295.4 208.4 L296.8 196.2 L298.2 184.3 L299.6 172.9 L301.0 161.9 L302.4 151.5 L303.8 141.8 L305.3 132.7 L306.7 124.3 L308.1 116.6 L309.5 109.6 L310.9 103.3 L312.3 97.5 L313.7 92.4 L315.1 87.9 L316.5 84.0 L317.9 80.7 L319.3 77.9 L320.7 75.6 L322.1 73.9 L323.5 72.6 L324.9 71.8 L326.4 71.5 L327.8 71.5 L329.2 71.9 L330.6 72.7 L332.0 73.7 L333.4 75.1 L334.8 76.7 L336.2 78.5 L337.6 80.5 L339.0 82.7 L340.4 85.0 L341.8 87.4 L343.2 89.9 L344.6 92.4 L346.0 94.9 L347.4 97.4 L348.9 99.9 L350.3 102.3 L351.7 104.5 L353.1 106.6 L354.5 108.6 L355.9 110.4 L357.3 112.0 L358.7 113.5 L360.1 115.0 L361.5 116.5 L362.9 118.0 L364.3 119.6 L365.7 121.3 L367.1 123.2 L368.5 125.4 L369.9 127.9 L371.3 130.7 L372.8 133.9 L374.2 137.4 L375.6 141.2 L377.0 145.3 L378.4 149.6 L379.8 154.0 L381.2 158.5 L382.6 163.1 L384.0 167.7 L385.4 172.2 L386.8 176.7 L388.2 181.0 L389.6 185.2 L391.0 189.2 L392.4 193.1 L393.9 196.9 L395.3 200.5 L396.7 204.1 L398.1 207.6 L399.5 211.1 L400.9 214.5 L402.3 218.0 L403.7 221.5 L405.1 225.0 L406.5 228.5 L407.9 232.1 L409.3 235.7 L410.7 239.4 L412.1 243.0 L413.5 246.6 L414.9 250.2 L416.4 253.7 L417.8 257.2 L419.2 260.6 L420.6 263.9 L422.0 267.2 L423.4 270.3 L424.8 273.3 L426.2 276.2 L427.6 279.0 L429.0 281.7 L430.4 284.4 L431.8 287.0 L433.2 289.6 L434.6 292.1 L436.0 294.6 L437.4 297.0 L438.8 299.5 L440.3 302.0 L441.7 304.4 L443.1 306.9 L444.5 309.4 L445.9 311.8 L447.3 314.3 L448.7 316.8 L450.1 319.3 L451.5 321.7 L452.9 324.2 L454.3 326.7 L455.7 329.2 L457.1 331.7 L458.5 334.2 L459.9 336.7 L461.4 339.1 L462.8 341.5 L464.2 343.8 L465.6 346.1 L467.0 348.2 L468.4 350.3 L469.8 352.3 L471.2 354.1 L472.6 355.8 L474.0 357.4 L475.4 358.8 L476.8 360.2 L478.2 361.5 L479.6 362.7 L481.0 364.0 L482.4 365.3 L483.9 366.7 L485.3 368.1 L486.7 369.7 L488.1 371.5 L489.5 373.4 L490.9 375.5 L492.3 377.9 L493.7 380.4 L495.1 383.1 L496.5 385.9 L497.9 388.9 L499.3 392.0 L500.7 395.3 L502.1 398.6 L503.5 402.0 L504.9 405.4 L506.3 408.9 L507.8 412.5 L509.2 416.0 L510.6 419.6 L512.0 423.1 L513.4 426.6 L514.8 430.1 L516.2 433.4 L517.6 436.7 L519.0 439.9 L520.4 443.0 L521.8 445.9 L523.2 448.6 L524.6 451.2 L526.0 453.6 L527.4 455.8 L528.9 458.0 L530.3 459.9 L531.7 461.8 L533.1 463.6 L534.5 465.2 L535.9 466.8 L537.3 468.3 L538.7 469.7 L540.1 471.1 L541.5 472.5 L542.9 473.8 L544.3 475.0 L545.7 476.2 L547.1 477.4 L548.5 478.4 L549.9 479.5 L551.4 480.4 L552.8 481.3 L554.2 482.1 L555.6 482.8 L557.0 483.5 L558.4 484.0 L559.8 484.5 L561.2 484.9 L562.6 485.3 L564.0 485.6 L565.4 485.9 L566.8 486.1 L568.2 486.3 L569.6 486.5 L571.0 486.7 L572.4 487.0 L573.9 487.2 L575.3 487.5 L576.7 487.8 L578.1 488.2 L579.5 488.5 L580.9 488.9 L582.3 489.3 L583.7 489.7 L585.1 490.2 L586.5 490.6 L587.9 491.1 L589.3 491.5 L590.7 492.0 L592.1 492.5 L593.5 492.9 L594.9 493.4 L596.4 493.8 L597.8 494.2 L599.2 494.6 L600.6 495.0 L602.0 495.3 L603.4 495.6 L604.8 495.8 L606.2 496.0 L607.6 496.1 L609.0 496.2 L610.4 496.2 L611.8 496.2 L613.2 496.1 L614.6 496.0 L616.0 495.9 L617.4 495.8 L618.9 495.6 L620.3 495.5 L621.7 495.3 L623.1 495.2 L624.5 495.1 L625.9 495.0 L627.3 494.9 L628.7 494.9 L630.1 495.0 L631.5 495.0 L632.9 495.2 L634.3 495.4 L635.7 495.6 L637.1 496.0 L638.5 496.4 L639.9 496.9 L641.4 497.5 L642.8 498.1 L644.2 498.9 L645.6 499.7 L647.0 500.6 L648.4 501.4 L649.8 502.3 L651.2 503.1 L652.6 504.0 L654.0 504.7 L655.4 505.4 L656.8 506.0 L658.2 506.5 L659.6 506.9 L661.0 507.2 L662.4 507.3 L663.9 507.4 L665.3 507.5 L666.7 507.5 L668.1 507.6 L669.5 507.6 L670.9 507.7 L672.3 507.8 L673.7 508.0 L675.1 508.2 L676.5 508.6 L677.9 509.1 L679.3 509.7 L680.7 510.3 L682.1 510.9 L683.5 511.5 L684.9 512.2 L686.4 512.8 L687.8 513.4 L689.2 513.9 L690.6 514.3 L692.0 514.6 L693.4 514.8 L694.8 515.0 L696.2 515.0 L697.6 514.9 L699.0 514.8 L700.4 514.7 L701.8 514.6 L703.2 514.4 L704.6 514.3 L706.0 514.2 L707.4 514.2 L708.9 514.3 L710.3 514.5 L711.7 514.7 L713.1 515.0 L714.5 515.4 L715.9 515.8 L717.3 516.3 L718.7 516.8 L720.1 517.2 L721.5 517.7 L722.9 518.2 L724.3 518.6 L725.7 519.0 L727.1 519.3 L728.5 519.6 L729.9 519.8 L731.4 520.0 L732.8 520.1 L734.2 520.2 L735.6 520.3 L737.0 520.4 L738.4 520.5 L739.8 520.6 L741.2 520.7 L742.6 520.8 L744.0 520.9 L745.4 521.0 L746.8 521.2 L748.2 521.4 L749.6 521.6 L751.0 521.9 L752.4 522.3 L753.9 522.7 L755.3 523.1 L756.7 523.7 L758.1 524.4 L759.5 525.1 L760.9 525.9 L762.3 526.8 L763.7 527.8 L765.1 528.8 L766.5 529.8 L767.9 530.9 L769.3 531.9 L770.7 532.9 L772.1 533.9 L773.5 534.8 L774.9 535.6 L776.3 536.3 L777.8 536.9 L779.2 537.3 L780.6 537.7 L782.0 538.0 L783.4 538.2 L784.8 538.4 L786.2 538.5 L787.6 538.5 L789.0 538.5 L790.4 538.5 L791.8 538.4 L793.2 538.3 L794.6 538.3 L796.0 538.2 L797.4 538.2 L798.9 538.1 L800.3 538.1 L801.7 538.1 L803.1 538.1 L804.5 538.2 L805.9 538.3 L807.3 538.4 L808.7 538.6 L810.1 538.9 L811.5 539.2 L812.9 539.5 L814.3 539.9 L815.7 540.3 L817.1 540.7 L818.5 541.1 L819.9 541.6 L821.4 542.0 L822.8 542.4 L824.2 542.8 L825.6 543.2 L827.0 543.5 L828.4 543.8 L829.8 544.0 L831.2 544.2 L832.6 544.4 L834.0 544.6 L835.4 544.7 L836.8 544.9 L838.2 545.1 L839.6 545.3 L841.0 545.5 L842.4 545.7 L843.8 546.1 L845.3 546.4 L846.7 546.8 L848.1 547.2 L849.5 547.6 L850.9 547.9 L852.3 548.2 L853.7 548.3 L855.1 548.4 L856.5 548.3 L857.9 548.1 L859.3 547.6 L860.7 547.0 L862.1 546.1 L863.5 545.0 L864.9 543.8 L866.2 542.4 L867.6 540.9 L868.8 539.4 L870.0 537.8 L871.1 536.2 L872.2 534.7 L873.2 533.3 L874.0 531.9 L874.8 530.7 L875.4 529.7 L876.0 528.9 L876.4 528.2 L876.8 527.7 L877.0 527.2 L877.2 526.9 L877.4 526.7 L877.5 526.5 L877.6 526.4 L877.6 526.4 L877.6 526.4 L877.6 526.4" fill="none" stroke="#008000" stroke-width="5.6" stroke-linejoin="round" stroke-linecap="round"/>
<ellipse cx="236.3" cy="439.1" rx="7.8" ry="7.4" fill="#008000"/>
<ellipse cx="253.2" cy="476.8" rx="7.8" ry="7.4" fill="#008000"/>
<ellipse cx="270.1" cy="426.4" rx="7.8" ry="7.4" fill="#008000"/>
<ellipse cx="287.0" cy="289.6" rx="7.8" ry="7.4" fill="#008000"/>
<ellipse cx="303.9" cy="125.1" rx="7.8" ry="7.4" fill="#008000"/>
<ellipse cx="320.7" cy="63.6" rx="7.8" ry="7.4" fill="#008000"/>
<ellipse cx="337.6" cy="77.2" rx="7.8" ry="7.4" fill="#008000"/>
<ellipse cx="354.5" cy="113.9" rx="7.8" ry="7.4" fill="#008000"/>
<ellipse cx="371.4" cy="121.9" rx="7.8" ry="7.4" fill="#008000"/>
<ellipse cx="388.2" cy="185.8" rx="7.8" ry="7.4" fill="#008000"/>
<ellipse cx="405.1" cy="224.1" rx="7.8" ry="7.4" fill="#008000"/>
<ellipse cx="422.0" cy="270.5" rx="7.8" ry="7.4" fill="#008000"/>
<ellipse cx="438.9" cy="300.0" rx="7.8" ry="7.4" fill="#008000"/>
<ellipse cx="455.7" cy="329.6" rx="7.8" ry="7.4" fill="#008000"/>
<ellipse cx="472.6" cy="359.9" rx="7.8" ry="7.4" fill="#008000"/>
<ellipse cx="489.5" cy="368.7" rx="7.8" ry="7.4" fill="#008000"/>
<ellipse cx="506.4" cy="408.6" rx="7.8" ry="7.4" fill="#008000"/>
<ellipse cx="523.2" cy="453.4" rx="7.8" ry="7.4" fill="#008000"/>
<ellipse cx="540.1" cy="472.5" rx="7.8" ry="7.4" fill="#008000"/>
<ellipse cx="557.0" cy="486.1" rx="7.8" ry="7.4" fill="#008000"/>
<ellipse cx="573.9" cy="486.9" rx="7.8" ry="7.4" fill="#008000"/>
<ellipse cx="590.7" cy="492.5" rx="7.8" ry="7.4" fill="#008000"/>
<ellipse cx="607.6" cy="498.1" rx="7.8" ry="7.4" fill="#008000"/>
<ellipse cx="624.5" cy="494.9" rx="7.8" ry="7.4" fill="#008000"/>
<ellipse cx="641.4" cy="495.7" rx="7.8" ry="7.4" fill="#008000"/>
<ellipse cx="658.2" cy="510.1" rx="7.8" ry="7.4" fill="#008000"/>
<ellipse cx="675.1" cy="506.1" rx="7.8" ry="7.4" fill="#008000"/>
<ellipse cx="692.0" cy="518.1" rx="7.8" ry="7.4" fill="#008000"/>
<ellipse cx="708.9" cy="512.5" rx="7.8" ry="7.4" fill="#008000"/>
<ellipse cx="725.7" cy="520.9" rx="7.8" ry="7.4" fill="#008000"/>
<ellipse cx="742.6" cy="520.9" rx="7.8" ry="7.4" fill="#008000"/>
<ellipse cx="759.5" cy="523.3" rx="7.8" ry="7.4" fill="#008000"/>
<ellipse cx="776.4" cy="539.6" rx="7.8" ry="7.4" fill="#008000"/>
<ellipse cx="793.2" cy="538.8" rx="7.8" ry="7.4" fill="#008000"/>
<ellipse cx="810.1" cy="538.0" rx="7.8" ry="7.4" fill="#008000"/>
<ellipse cx="827.0" cy="545.2" rx="7.8" ry="7.4" fill="#008000"/>
<ellipse cx="843.9" cy="545.2" rx="7.8" ry="7.4" fill="#008000"/>
<ellipse cx="860.7" cy="553.2" rx="7.8" ry="7.4" fill="#008000"/>
<ellipse cx="877.6" cy="526.9" rx="7.8" ry="7.4" fill="#008000"/>
</g>
<rect x="1055.6" y="11.2" width="339.6" height="275.6" fill="none" stroke="#000" stroke-width="3.8"/>
<rect x="1056.4" y="286.8" width="339.0" height="288.9" fill="none" stroke="#000" stroke-width="3.8"/>
<line x1="1049.60" y1="255.10" x2="1055.60" y2="255.10" stroke="#000" stroke-width="3.30" stroke-linecap="round"/>
<line x1="1049.60" y1="192.70" x2="1055.60" y2="192.70" stroke="#000" stroke-width="3.30" stroke-linecap="round"/>
<line x1="1049.60" y1="130.30" x2="1055.60" y2="130.30" stroke="#000" stroke-width="3.30" stroke-linecap="round"/>
<line x1="1049.60" y1="67.90" x2="1055.60" y2="67.90" stroke="#000" stroke-width="3.30" stroke-linecap="round"/>
<line x1="1052.50" y1="286.30" x2="1055.60" y2="286.30" stroke="#000" stroke-width="3.00" stroke-linecap="round"/>
<line x1="1052.50" y1="223.90" x2="1055.60" y2="223.90" stroke="#000" stroke-width="3.00" stroke-linecap="round"/>
<line x1="1052.50" y1="161.50" x2="1055.60" y2="161.50" stroke="#000" stroke-width="3.00" stroke-linecap="round"/>
<line x1="1052.50" y1="99.10" x2="1055.60" y2="99.10" stroke="#000" stroke-width="3.00" stroke-linecap="round"/>
<line x1="1052.50" y1="36.70" x2="1055.60" y2="36.70" stroke="#000" stroke-width="3.00" stroke-linecap="round"/>
<line x1="1050.60" y1="521.80" x2="1056.40" y2="521.80" stroke="#000" stroke-width="3.30" stroke-linecap="round"/>
<line x1="1050.60" y1="449.14" x2="1056.40" y2="449.14" stroke="#000" stroke-width="3.30" stroke-linecap="round"/>
<line x1="1050.60" y1="376.48" x2="1056.40" y2="376.48" stroke="#000" stroke-width="3.30" stroke-linecap="round"/>
<line x1="1050.60" y1="303.82" x2="1056.40" y2="303.82" stroke="#000" stroke-width="3.30" stroke-linecap="round"/>
<line x1="1053.50" y1="558.13" x2="1056.40" y2="558.13" stroke="#000" stroke-width="3.00" stroke-linecap="round"/>
<line x1="1053.50" y1="485.47" x2="1056.40" y2="485.47" stroke="#000" stroke-width="3.00" stroke-linecap="round"/>
<line x1="1053.50" y1="412.81" x2="1056.40" y2="412.81" stroke="#000" stroke-width="3.00" stroke-linecap="round"/>
<line x1="1053.50" y1="340.15" x2="1056.40" y2="340.15" stroke="#000" stroke-width="3.00" stroke-linecap="round"/>
<line x1="1056.75" y1="288.00" x2="1056.75" y2="290.00" stroke="#000" stroke-width="3.00" stroke-linecap="round"/>
<line x1="1056.75" y1="577.00" x2="1056.75" y2="579.50" stroke="#000" stroke-width="3.00" stroke-linecap="round"/>
<line x1="1087.50" y1="288.00" x2="1087.50" y2="293.30" stroke="#000" stroke-width="3.30" stroke-linecap="round"/>
<line x1="1087.50" y1="577.00" x2="1087.50" y2="581.80" stroke="#000" stroke-width="3.30" stroke-linecap="round"/>
<line x1="1118.25" y1="288.00" x2="1118.25" y2="290.00" stroke="#000" stroke-width="3.00" stroke-linecap="round"/>
<line x1="1118.25" y1="577.00" x2="1118.25" y2="579.50" stroke="#000" stroke-width="3.00" stroke-linecap="round"/>
<line x1="1149.00" y1="288.00" x2="1149.00" y2="293.30" stroke="#000" stroke-width="3.30" stroke-linecap="round"/>
<line x1="1149.00" y1="577.00" x2="1149.00" y2="581.80" stroke="#000" stroke-width="3.30" stroke-linecap="round"/>
<line x1="1179.75" y1="288.00" x2="1179.75" y2="290.00" stroke="#000" stroke-width="3.00" stroke-linecap="round"/>
<line x1="1179.75" y1="577.00" x2="1179.75" y2="579.50" stroke="#000" stroke-width="3.00" stroke-linecap="round"/>
<line x1="1210.50" y1="288.00" x2="1210.50" y2="293.30" stroke="#000" stroke-width="3.30" stroke-linecap="round"/>
<line x1="1210.50" y1="577.00" x2="1210.50" y2="581.80" stroke="#000" stroke-width="3.30" stroke-linecap="round"/>
<line x1="1241.25" y1="288.00" x2="1241.25" y2="290.00" stroke="#000" stroke-width="3.00" stroke-linecap="round"/>
<line x1="1241.25" y1="577.00" x2="1241.25" y2="579.50" stroke="#000" stroke-width="3.00" stroke-linecap="round"/>
<line x1="1272.00" y1="288.00" x2="1272.00" y2="293.30" stroke="#000" stroke-width="3.30" stroke-linecap="round"/>
<line x1="1272.00" y1="577.00" x2="1272.00" y2="581.80" stroke="#000" stroke-width="3.30" stroke-linecap="round"/>
<line x1="1302.75" y1="288.00" x2="1302.75" y2="290.00" stroke="#000" stroke-width="3.00" stroke-linecap="round"/>
<line x1="1302.75" y1="577.00" x2="1302.75" y2="579.50" stroke="#000" stroke-width="3.00" stroke-linecap="round"/>
<line x1="1333.50" y1="288.00" x2="1333.50" y2="293.30" stroke="#000" stroke-width="3.30" stroke-linecap="round"/>
<line x1="1333.50" y1="577.00" x2="1333.50" y2="581.80" stroke="#000" stroke-width="3.30" stroke-linecap="round"/>
<line x1="1364.25" y1="288.00" x2="1364.25" y2="290.00" stroke="#000" stroke-width="3.00" stroke-linecap="round"/>
<line x1="1364.25" y1="577.00" x2="1364.25" y2="579.50" stroke="#000" stroke-width="3.00" stroke-linecap="round"/>
<line x1="1395.00" y1="288.00" x2="1395.00" y2="293.30" stroke="#000" stroke-width="3.30" stroke-linecap="round"/>
<line x1="1395.00" y1="577.00" x2="1395.00" y2="581.80" stroke="#000" stroke-width="3.30" stroke-linecap="round"/>
<text transform="matrix(0.411634 0.000000 0.000000 0.413837 962.992054 265.695862)" font-family="Liberation Sans" font-size="100" fill="#000" stroke="#000" stroke-width="0.40" vector-effect="non-scaling-stroke">0.00</text>
<text transform="matrix(0.404675 0.000000 0.000000 0.413837 964.819237 533.395862)" font-family="Liberation Sans" font-size="100" fill="#000" stroke="#000" stroke-width="0.40" vector-effect="non-scaling-stroke">0.00</text>
<text transform="matrix(0.414124 0.000000 0.000000 0.413837 962.982330 203.295862)" font-family="Liberation Sans" font-size="100" fill="#000" stroke="#000" stroke-width="0.40" vector-effect="non-scaling-stroke">0.02</text>
<text transform="matrix(0.407123 0.000000 0.000000 0.413837 964.809677 460.735862)" font-family="Liberation Sans" font-size="100" fill="#000" stroke="#000" stroke-width="0.40" vector-effect="non-scaling-stroke">0.02</text>
<text transform="matrix(0.409493 0.000000 0.000000 0.413837 963.000416 140.895862)" font-family="Liberation Sans" font-size="100" fill="#000" stroke="#000" stroke-width="0.40" vector-effect="non-scaling-stroke">0.04</text>
<text transform="matrix(0.402571 0.000000 0.000000 0.413837 964.827457 388.075862)" font-family="Liberation Sans" font-size="100" fill="#000" stroke="#000" stroke-width="0.40" vector-effect="non-scaling-stroke">0.04</text>
<text transform="matrix(0.412713 0.000000 0.000000 0.413837 962.987841 78.495862)" font-family="Liberation Sans" font-size="100" fill="#000" stroke="#000" stroke-width="0.40" vector-effect="non-scaling-stroke">0.06</text>
<text transform="matrix(0.405736 0.000000 0.000000 0.413837 964.815094 315.415862)" font-family="Liberation Sans" font-size="100" fill="#000" stroke="#000" stroke-width="0.40" vector-effect="non-scaling-stroke">0.06</text>
<text transform="matrix(0.000000 -0.415144 0.405736 0.000000 949.600000 248.774381)" font-family="Liberation Sans" font-size="100" fill="#000" stroke="#000" stroke-width="0.40" vector-effect="non-scaling-stroke">(T-T) O.D.</text>
<text transform="matrix(0.000000 -0.412190 0.405736 0.000000 953.400000 519.856063)" font-family="Liberation Sans" font-size="100" fill="#000" stroke="#000" stroke-width="0.40" vector-effect="non-scaling-stroke">(T-T) O.D.</text>
<g transform="matrix(1.0000 0 0 1.0000 0.000 0.000)"><path d="M1117.0 36.0 Q1118.3 31.2 1120.8 31.3 Q1122.3 31.4 1123.3 34.3 L1130.2 53.0 Q1131.3 56.2 1133.0 56.2 Q1134.4 56.2 1134.9 52.4" fill="none" stroke="#000" stroke-width="1.7" stroke-linecap="round"/><path d="M1122.2 32.6 L1130.6 54.2" stroke="#000" stroke-width="2.9"/><path d="M1125.2 41.8 L1117.3 56.2" stroke="#000" stroke-width="2.7"/></g>
<text transform="matrix(0.403606 0.000000 0.000000 0.423619 1144.235461 56.386310)" font-family="Liberation Sans" font-size="100" fill="#000" stroke="#000" stroke-width="0.40" vector-effect="non-scaling-stroke">at</text>
<text transform="matrix(0.396529 0.000000 0.000000 0.405363 1189.989782 56.204138)" font-family="Liberation Sans" font-size="100" fill="#000" stroke="#000" stroke-width="0.40" vector-effect="non-scaling-stroke">380</text>
<text transform="matrix(0.404985 0.000000 0.000000 0.425583 1268.910645 56.800000)" font-family="Liberation Sans" font-size="100" fill="#000" stroke="#000" stroke-width="0.40" vector-effect="non-scaling-stroke">nm</text>
<text transform="matrix(0.425263 0.000000 0.000000 0.393929 1338.362872 51.944444)" font-family="Liberation Sans" font-size="100" fill="#000" stroke="#000" stroke-width="0.40" vector-effect="non-scaling-stroke">(b)</text>
<g transform="matrix(0.9524 0 0 0.9423 50.248 274.477)"><path d="M1117.0 36.0 Q1118.3 31.2 1120.8 31.3 Q1122.3 31.4 1123.3 34.3 L1130.2 53.0 Q1131.3 56.2 1133.0 56.2 Q1134.4 56.2 1134.9 52.4" fill="none" stroke="#000" stroke-width="1.7" stroke-linecap="round"/><path d="M1122.2 32.6 L1130.6 54.2" stroke="#000" stroke-width="2.9"/><path d="M1125.2 41.8 L1117.3 56.2" stroke="#000" stroke-width="2.7"/></g>
<text transform="matrix(0.399143 0.000000 0.000000 0.403810 1141.704421 327.605655)" font-family="Liberation Sans" font-size="100" fill="#000" stroke="#000" stroke-width="0.40" vector-effect="non-scaling-stroke">at</text>
<text transform="matrix(0.395283 0.000000 0.000000 0.394063 1186.692857 327.715172)" font-family="Liberation Sans" font-size="100" fill="#000" stroke="#000" stroke-width="0.40" vector-effect="non-scaling-stroke">420</text>
<text transform="matrix(0.408963 0.000000 0.000000 0.384697 1264.384227 327.800000)" font-family="Liberation Sans" font-size="100" fill="#000" stroke="#000" stroke-width="0.40" vector-effect="non-scaling-stroke">nm</text>
<text transform="matrix(0.422268 0.000000 0.000000 0.391782 1341.581443 327.088889)" font-family="Liberation Sans" font-size="100" fill="#000" stroke="#000" stroke-width="0.40" vector-effect="non-scaling-stroke">(c)</text>
<text transform="matrix(0.407926 0.000000 0.000000 0.423724 1075.706537 619.486207)" font-family="Liberation Sans" font-size="100" fill="#000" stroke="#000" stroke-width="0.40" vector-effect="non-scaling-stroke">0</text>
<text transform="matrix(0.410478 0.000000 0.000000 0.422490 1136.735584 619.600000)" font-family="Liberation Sans" font-size="100" fill="#000" stroke="#000" stroke-width="0.40" vector-effect="non-scaling-stroke">2</text>
<text transform="matrix(0.402853 0.000000 0.000000 0.422972 1198.475484 619.600000)" font-family="Liberation Sans" font-size="100" fill="#000" stroke="#000" stroke-width="0.40" vector-effect="non-scaling-stroke">4</text>
<text transform="matrix(0.396597 0.000000 0.000000 0.423724 1260.486032 619.486207)" font-family="Liberation Sans" font-size="100" fill="#000" stroke="#000" stroke-width="0.40" vector-effect="non-scaling-stroke">6</text>
<text transform="matrix(0.411305 0.000000 0.000000 0.423724 1321.812591 619.486207)" font-family="Liberation Sans" font-size="100" fill="#000" stroke="#000" stroke-width="0.40" vector-effect="non-scaling-stroke">8</text>
<text transform="matrix(0.393283 0.000000 0.000000 0.423724 1396.863739 619.486207)" font-family="Liberation Sans" font-size="100" fill="#000" stroke="#000" stroke-width="0.40" vector-effect="non-scaling-stroke">0</text>
<path d="M1384.3 590.1 L1387.6 590.1 L1387.6 619.8 L1384.0 619.8 L1384.0 597.2 Q1381.2 600.0 1376.8 601.6 L1376.8 598.0 Q1382.0 595.2 1384.3 590.1 Z" fill="#000"/>
<text transform="matrix(0.416652 0.000000 0.000000 0.388085 1152.364159 656.021011)" font-family="Liberation Sans" font-size="100" fill="#000" stroke="#000" stroke-width="0.40" vector-effect="non-scaling-stroke">Time</text>
<text transform="matrix(0.214983 0.000000 0.000000 0.264050 1256.666851 656.233333)" font-family="Liberation Sans" font-size="100" fill="#000" stroke="#000" stroke-width="0.40" vector-effect="non-scaling-stroke">(</text>
<path d="M1269.3 640 L1269.3 662.6" stroke="#000" stroke-width="2.6"/><path d="M1269.3 650 Q1269.6 656.6 1274.4 656.6 Q1279.2 656.6 1280.9 651" fill="none" stroke="#000" stroke-width="2.0"/><path d="M1280.9 640 L1280.9 653.5 Q1281.3 656.4 1284.6 653.4" fill="none" stroke="#000" stroke-width="2.4"/><ellipse cx="1269.3" cy="662.3" rx="1.7" ry="1.3" fill="#000"/>
<text transform="matrix(0.371530 0.000000 0.000000 0.388004 1287.765957 655.521090)" font-family="Liberation Sans" font-size="100" fill="#000" stroke="#000" stroke-width="1.00" vector-effect="non-scaling-stroke">s</text>
<text transform="matrix(0.207440 0.000000 0.000000 0.264050 1309.078453 656.233333)" font-family="Liberation Sans" font-size="100" fill="#000" stroke="#000" stroke-width="0.40" vector-effect="non-scaling-stroke">)</text>
<path d="M1057.1 260.8 L1057.8 253.3 L1058.6 250.4 L1059.4 257.5 L1060.1 261.3 L1060.9 255.4 L1061.7 252.9 L1062.4 250.0 L1063.2 260.8 L1064.0 261.2 L1064.7 251.8 L1065.5 252.9 L1066.3 247.9 L1067.1 250.5 L1067.8 255.6 L1068.6 256.4 L1069.4 243.1 L1070.1 256.5 L1070.9 258.8 L1071.7 260.4 L1072.4 254.7 L1073.2 254.4 L1074.0 256.7 L1074.7 255.4 L1075.5 253.8 L1076.3 251.9 L1077.0 250.0 L1077.8 254.1 L1078.6 263.5 L1079.4 251.8 L1080.1 261.7 L1080.9 255.9 L1081.7 262.0 L1082.4 255.1 L1083.2 258.7 L1084.0 254.1 L1084.7 239.7 L1085.5 255.3 L1086.3 251.2 L1087.0 261.3" fill="none" stroke="#008000" stroke-width="1.4" stroke-linejoin="round"/>
<path d="M1057.1 260.8 1057.8 253.3 1058.6 250.4 1059.4 257.5 1060.1 261.3 1060.9 255.4 1061.7 252.9 1062.4 250.0 1063.2 260.8 1064.0 261.2 1064.7 251.8 1065.5 252.9 1066.3 247.9 1067.1 250.5 1067.8 255.6 1068.6 256.4 1069.4 243.1 1070.1 256.5 1070.9 258.8 1071.7 260.4 1072.4 254.7 1073.2 254.4 1074.0 256.7 1074.7 255.4 1075.5 253.8 1076.3 251.9 1077.0 250.0 1077.8 254.1 1078.6 263.5 1079.4 251.8 1080.1 261.7 1080.9 255.9 1081.7 262.0 1082.4 255.1 1083.2 258.7 1084.0 254.1 1084.7 239.7 1085.5 255.3 1086.3 251.2 1087.0 261.3" fill="none" stroke="none" marker-start="url(#bg)" marker-mid="url(#bg)" marker-end="url(#bg)"/>
<path d="M1057.1 256.4 L1057.8 252.0 L1058.6 255.5 L1059.4 253.4 L1060.1 254.6 L1060.9 259.8 L1061.7 252.5 L1062.4 258.9 L1063.2 246.3 L1064.0 257.5 L1064.7 251.9 L1065.5 255.1 L1066.3 250.6 L1067.1 257.9 L1067.8 250.4 L1068.6 255.7 L1069.4 249.2 L1070.1 252.2 L1070.9 254.4 L1071.7 258.8 L1072.4 251.5 L1073.2 252.9 L1074.0 247.4 L1074.7 256.9 L1075.5 252.5 L1076.3 252.7 L1077.0 253.8 L1077.8 254.1 L1078.6 254.2 L1079.4 257.9 L1080.1 259.8 L1080.9 257.0 L1081.7 252.3 L1082.4 248.0 L1083.2 250.5 L1084.0 250.2 L1084.7 251.5 L1085.5 251.8 L1086.3 254.2 L1087.0 251.5" fill="none" stroke="#ff00ff" stroke-width="1.4" stroke-linejoin="round"/>
<path d="M1057.1 256.4 1057.8 252.0 1058.6 255.5 1059.4 253.4 1060.1 254.6 1060.9 259.8 1061.7 252.5 1062.4 258.9 1063.2 246.3 1064.0 257.5 1064.7 251.9 1065.5 255.1 1066.3 250.6 1067.1 257.9 1067.8 250.4 1068.6 255.7 1069.4 249.2 1070.1 252.2 1070.9 254.4 1071.7 258.8 1072.4 251.5 1073.2 252.9 1074.0 247.4 1074.7 256.9 1075.5 252.5 1076.3 252.7 1077.0 253.8 1077.8 254.1 1078.6 254.2 1079.4 257.9 1080.1 259.8 1080.9 257.0 1081.7 252.3 1082.4 248.0 1083.2 250.5 1084.0 250.2 1084.7 251.5 1085.5 251.8 1086.3 254.2 1087.0 251.5" fill="none" stroke="none" marker-start="url(#bm)" marker-mid="url(#bm)" marker-end="url(#bm)"/>
<path d="M1057.1 246.8 L1057.8 256.6 L1058.6 258.3 L1059.4 245.9 L1060.1 254.0 L1060.9 250.6 L1061.7 251.0 L1062.4 260.4 L1063.2 243.7 L1064.0 246.8 L1064.7 254.3 L1065.5 251.6 L1066.3 254.5 L1067.1 259.2 L1067.8 255.6 L1068.6 253.3 L1069.4 249.9 L1070.1 251.8 L1070.9 254.8 L1071.7 248.8 L1072.4 258.7 L1073.2 251.4 L1074.0 249.9 L1074.7 256.5 L1075.5 263.5 L1076.3 259.3 L1077.0 254.0 L1077.8 252.6 L1078.6 247.9 L1079.4 259.8 L1080.1 255.1 L1080.9 252.1 L1081.7 255.8 L1082.4 266.2 L1083.2 251.3 L1084.0 244.3 L1084.7 250.4 L1085.5 259.4 L1086.3 257.0 L1087.0 254.1" fill="none" stroke="#0000ff" stroke-width="1.4" stroke-linejoin="round"/>
<path d="M1057.1 246.8 1057.8 256.6 1058.6 258.3 1059.4 245.9 1060.1 254.0 1060.9 250.6 1061.7 251.0 1062.4 260.4 1063.2 243.7 1064.0 246.8 1064.7 254.3 1065.5 251.6 1066.3 254.5 1067.1 259.2 1067.8 255.6 1068.6 253.3 1069.4 249.9 1070.1 251.8 1070.9 254.8 1071.7 248.8 1072.4 258.7 1073.2 251.4 1074.0 249.9 1074.7 256.5 1075.5 263.5 1076.3 259.3 1077.0 254.0 1077.8 252.6 1078.6 247.9 1079.4 259.8 1080.1 255.1 1080.9 252.1 1081.7 255.8 1082.4 266.2 1083.2 251.3 1084.0 244.3 1084.7 250.4 1085.5 259.4 1086.3 257.0 1087.0 254.1" fill="none" stroke="none" marker-start="url(#bb)" marker-mid="url(#bb)" marker-end="url(#bb)"/>
<path d="M1057.1 238.8 L1057.4 251.1 L1057.8 254.4 L1058.2 244.9 L1058.5 255.6 L1058.9 242.9 L1059.3 259.6 L1059.6 258.2 L1060.0 250.4 L1060.4 245.8 L1060.7 250.8 L1061.1 253.1 L1061.5 267.0 L1061.9 259.8 L1062.2 259.1 L1062.6 258.6 L1063.0 251.3 L1063.3 257.3 L1063.7 249.9 L1064.1 254.6 L1064.4 257.3 L1064.8 254.3 L1065.2 252.3 L1065.5 249.5 L1065.9 258.2 L1066.3 256.6 L1066.7 264.0 L1067.0 244.6 L1067.4 245.6 L1067.8 256.3 L1068.1 258.2 L1068.5 263.2 L1068.9 254.0 L1069.2 253.7 L1069.6 240.8 L1070.0 253.5 L1070.3 260.2 L1070.7 271.1 L1071.1 245.9 L1071.4 253.9 L1071.8 265.6 L1072.2 253.9 L1072.6 265.6 L1072.9 232.3 L1073.3 247.8 L1073.7 251.3 L1074.0 256.2 L1074.4 269.1 L1074.8 255.9 L1075.1 265.3 L1075.5 251.2 L1075.9 269.1 L1076.2 261.0 L1076.6 247.1 L1077.0 244.3 L1077.4 262.8 L1077.7 265.2 L1078.1 249.3 L1078.5 249.5 L1078.8 261.6 L1079.2 259.6 L1079.6 259.6 L1079.9 262.9 L1080.3 259.6 L1080.7 246.9 L1081.0 250.6 L1081.4 241.6 L1081.8 255.7 L1082.1 256.0 L1082.5 261.5 L1082.9 255.9 L1083.3 263.7 L1083.6 266.7 L1084.0 250.5 L1084.4 245.7 L1084.7 249.6 L1085.1 246.4 L1085.5 253.4 L1085.8 259.8 L1086.2 254.5 L1086.6 257.6 L1086.9 262.4 L1087.3 266.2" fill="none" stroke="#000000" stroke-width="1.6" stroke-linejoin="round"/>
<path d="M1057.1 238.8 1057.4 251.1 1057.8 254.4 1058.2 244.9 1058.5 255.6 1058.9 242.9 1059.3 259.6 1059.6 258.2 1060.0 250.4 1060.4 245.8 1060.7 250.8 1061.1 253.1 1061.5 267.0 1061.9 259.8 1062.2 259.1 1062.6 258.6 1063.0 251.3 1063.3 257.3 1063.7 249.9 1064.1 254.6 1064.4 257.3 1064.8 254.3 1065.2 252.3 1065.5 249.5 1065.9 258.2 1066.3 256.6 1066.7 264.0 1067.0 244.6 1067.4 245.6 1067.8 256.3 1068.1 258.2 1068.5 263.2 1068.9 254.0 1069.2 253.7 1069.6 240.8 1070.0 253.5 1070.3 260.2 1070.7 271.1 1071.1 245.9 1071.4 253.9 1071.8 265.6 1072.2 253.9 1072.6 265.6 1072.9 232.3 1073.3 247.8 1073.7 251.3 1074.0 256.2 1074.4 269.1 1074.8 255.9 1075.1 265.3 1075.5 251.2 1075.9 269.1 1076.2 261.0 1076.6 247.1 1077.0 244.3 1077.4 262.8 1077.7 265.2 1078.1 249.3 1078.5 249.5 1078.8 261.6 1079.2 259.6 1079.6 259.6 1079.9 262.9 1080.3 259.6 1080.7 246.9 1081.0 250.6 1081.4 241.6 1081.8 255.7 1082.1 256.0 1082.5 261.5 1082.9 255.9 1083.3 263.7 1083.6 266.7 1084.0 250.5 1084.4 245.7 1084.7 249.6 1085.1 246.4 1085.5 253.4 1085.8 259.8 1086.2 254.5 1086.6 257.6 1086.9 262.4 1087.3 266.2" fill="none" stroke="none" marker-start="url(#bk)" marker-mid="url(#bk)" marker-end="url(#bk)"/>
<line x1="1087.8" y1="36.5" x2="1087.8" y2="281" stroke="#3a2a3a" stroke-width="1.7"/>
<path d="M1087.5 128.7 L1088.1 130.6 L1088.7 132.3 L1089.3 134.1 L1090.0 135.7 L1090.6 137.3 L1091.2 138.9 L1091.8 140.4 L1092.4 141.8 L1093.0 143.2 L1093.7 144.6 L1094.3 145.9 L1094.9 147.2 L1095.5 148.4 L1096.1 149.6 L1096.7 150.8 L1097.3 151.9 L1098.0 153.0 L1098.6 154.1 L1099.2 155.1 L1099.8 156.1 L1100.4 157.1 L1101.0 158.0 L1101.6 158.9 L1102.3 159.8 L1102.9 160.7 L1103.5 161.5 L1104.1 162.3 L1104.7 163.1 L1105.3 163.8 L1106.0 164.6 L1106.6 165.3 L1107.2 166.0 L1107.8 166.7 L1108.4 167.4 L1109.0 168.0 L1109.6 168.6 L1110.3 169.2 L1110.9 169.8 L1111.5 170.4 L1112.1 171.0 L1112.7 171.5 L1113.3 172.1 L1113.9 172.6 L1114.6 173.1 L1115.2 173.6 L1115.8 174.1 L1116.4 174.6 L1117.0 175.0 L1117.6 175.5 L1118.2 175.9 L1118.9 176.4 L1119.5 176.8 L1120.1 177.2 L1120.7 177.6 L1121.3 178.0 L1121.9 178.4 L1122.6 178.8 L1123.2 179.1 L1123.8 179.5 L1124.4 179.8 L1125.0 180.2 L1125.6 180.5 L1126.2 180.9 L1126.9 181.2 L1127.5 181.5 L1128.1 181.8 L1128.7 182.1 L1129.3 182.4 L1129.9 182.7 L1130.5 183.0 L1131.2 183.3 L1131.8 183.6 L1132.4 183.8 L1133.0 184.1 L1133.6 184.4 L1134.2 184.6 L1134.9 184.9 L1135.5 185.1 L1136.1 185.4 L1136.7 185.6 L1137.3 185.9 L1137.9 186.1 L1138.5 186.3 L1139.2 186.5 L1139.8 186.8 L1140.4 187.0 L1141.0 187.2 L1141.6 187.4 L1142.2 187.6 L1142.8 187.8 L1143.5 188.0 L1144.1 188.2 L1144.7 188.4 L1145.3 188.6 L1145.9 188.8 L1146.5 189.0 L1147.2 189.2 L1147.8 189.4 L1148.4 189.5 L1149.0 189.7 L1149.6 189.9 L1150.2 190.1 L1150.8 190.2 L1151.5 190.4 L1152.1 190.6 L1152.7 190.7 L1153.3 190.9 L1153.9 191.0 L1154.5 191.2 L1155.2 191.4 L1155.8 191.5 L1156.4 191.7 L1157.0 191.8 L1157.6 192.0 L1158.2 192.1 L1158.8 192.2 L1159.5 192.4 L1160.1 192.5 L1160.7 192.7 L1161.3 192.8 L1161.9 192.9 L1162.5 193.1 L1163.1 193.2 L1163.8 193.3 L1164.4 193.5 L1165.0 193.6 L1165.6 193.7 L1166.2 193.8 L1166.8 194.0 L1167.5 194.1 L1168.1 194.2 L1168.7 194.3 L1169.3 194.5 L1169.9 194.6 L1170.5 194.7 L1171.1 194.8 L1171.8 194.9 L1172.4 195.0 L1173.0 195.1 L1173.6 195.2 L1174.2 195.4 L1174.8 195.5 L1175.4 195.6 L1176.1 195.7 L1176.7 195.8 L1177.3 195.9 L1177.9 196.0 L1178.5 196.1 L1179.1 196.2 L1179.8 196.3 L1180.4 196.4 L1181.0 196.5 L1181.6 196.6 L1182.2 196.7 L1182.8 196.8 L1183.4 196.8 L1184.1 196.9 L1184.7 197.0 L1185.3 197.1 L1185.9 197.2 L1186.5 197.3 L1187.1 197.4 L1187.7 197.5 L1188.4 197.6 L1189.0 197.6 L1189.6 197.7 L1190.2 197.8 L1190.8 197.9 L1191.4 198.0 L1192.0 198.1 L1192.7 198.1 L1193.3 198.2 L1193.9 198.3 L1194.5 198.4 L1195.1 198.4 L1195.7 198.5 L1196.4 198.6 L1197.0 198.7 L1197.6 198.7 L1198.2 198.8 L1198.8 198.9 L1199.4 199.0 L1200.0 199.0 L1200.7 199.1 L1201.3 199.2 L1201.9 199.2 L1202.5 199.3 L1203.1 199.4 L1203.7 199.4 L1204.3 199.5 L1205.0 199.6 L1205.6 199.6 L1206.2 199.7 L1206.8 199.8 L1207.4 199.8 L1208.0 199.9 L1208.7 200.0 L1209.3 200.0 L1209.9 200.1 L1210.5 200.1 L1211.1 200.2 L1211.7 200.3 L1212.3 200.3 L1213.0 200.4 L1213.6 200.4 L1214.2 200.5 L1214.8 200.6 L1215.4 200.6 L1216.0 200.7 L1216.7 200.7 L1217.3 200.8 L1217.9 200.8 L1218.5 200.9 L1219.1 200.9 L1219.7 201.0 L1220.3 201.0 L1221.0 201.1 L1221.6 201.1 L1222.2 201.2 L1222.8 201.2 L1223.4 201.3 L1224.0 201.3 L1224.6 201.4 L1225.3 201.4 L1225.9 201.5 L1226.5 201.5 L1227.1 201.6 L1227.7 201.6 L1228.3 201.7 L1229.0 201.7 L1229.6 201.8 L1230.2 201.8 L1230.8 201.9 L1231.4 201.9 L1232.0 201.9 L1232.6 202.0 L1233.3 202.0 L1233.9 202.1 L1234.5 202.1 L1235.1 202.2 L1235.7 202.2 L1236.3 202.2 L1236.9 202.3 L1237.6 202.3 L1238.2 202.4 L1238.8 202.4 L1239.4 202.4 L1240.0 202.5 L1240.6 202.5 L1241.2 202.6 L1241.9 202.6 L1242.5 202.6 L1243.1 202.7 L1243.7 202.7 L1244.3 202.7 L1244.9 202.8 L1245.6 202.8 L1246.2 202.9 L1246.8 202.9 L1247.4 202.9 L1248.0 203.0 L1248.6 203.0 L1249.2 203.0 L1249.9 203.1 L1250.5 203.1 L1251.1 203.1 L1251.7 203.2 L1252.3 203.2 L1252.9 203.2 L1253.5 203.3 L1254.2 203.3 L1254.8 203.3 L1255.4 203.3 L1256.0 203.4 L1256.6 203.4 L1257.2 203.4 L1257.9 203.5 L1258.5 203.5 L1259.1 203.5 L1259.7 203.6 L1260.3 203.6 L1260.9 203.6 L1261.5 203.6 L1262.2 203.7 L1262.8 203.7 L1263.4 203.7 L1264.0 203.8 L1264.6 203.8 L1265.2 203.8 L1265.8 203.8 L1266.5 203.9 L1267.1 203.9 L1267.7 203.9 L1268.3 203.9 L1268.9 204.0 L1269.5 204.0 L1270.2 204.0 L1270.8 204.0 L1271.4 204.1 L1272.0 204.1 L1272.6 204.1 L1273.2 204.1 L1273.8 204.2 L1274.5 204.2 L1275.1 204.2 L1275.7 204.2 L1276.3 204.3 L1276.9 204.3 L1277.5 204.3 L1278.2 204.3 L1278.8 204.3 L1279.4 204.4 L1280.0 204.4 L1280.6 204.4 L1281.2 204.4 L1281.8 204.4 L1282.5 204.5 L1283.1 204.5 L1283.7 204.5 L1284.3 204.5 L1284.9 204.5 L1285.5 204.6 L1286.1 204.6 L1286.8 204.6 L1287.4 204.6 L1288.0 204.6 L1288.6 204.7 L1289.2 204.7 L1289.8 204.7 L1290.5 204.7 L1291.1 204.7 L1291.7 204.8 L1292.3 204.8 L1292.9 204.8 L1293.5 204.8 L1294.1 204.8 L1294.8 204.8 L1295.4 204.9 L1296.0 204.9 L1296.6 204.9 L1297.2 204.9 L1297.8 204.9 L1298.4 204.9 L1299.1 205.0 L1299.7 205.0 L1300.3 205.0 L1300.9 205.0 L1301.5 205.0 L1302.1 205.0 L1302.8 205.1 L1303.4 205.1 L1304.0 205.1 L1304.6 205.1 L1305.2 205.1 L1305.8 205.1 L1306.4 205.1 L1307.1 205.2 L1307.7 205.2 L1308.3 205.2 L1308.9 205.2 L1309.5 205.2 L1310.1 205.2 L1310.7 205.2 L1311.4 205.3 L1312.0 205.3 L1312.6 205.3 L1313.2 205.3 L1313.8 205.3 L1314.4 205.3 L1315.0 205.3 L1315.7 205.3 L1316.3 205.4 L1316.9 205.4 L1317.5 205.4 L1318.1 205.4 L1318.7 205.4 L1319.4 205.4 L1320.0 205.4 L1320.6 205.4 L1321.2 205.5 L1321.8 205.5 L1322.4 205.5 L1323.0 205.5 L1323.7 205.5 L1324.3 205.5 L1324.9 205.5 L1325.5 205.5 L1326.1 205.5 L1326.7 205.6 L1327.3 205.6 L1328.0 205.6 L1328.6 205.6 L1329.2 205.6 L1329.8 205.6 L1330.4 205.6 L1331.0 205.6 L1331.7 205.6 L1332.3 205.7 L1332.9 205.7 L1333.5 205.7 L1334.1 205.7 L1334.7 205.7 L1335.3 205.7 L1336.0 205.7 L1336.6 205.7 L1337.2 205.7 L1337.8 205.7 L1338.4 205.7 L1339.0 205.8 L1339.7 205.8 L1340.3 205.8 L1340.9 205.8 L1341.5 205.8 L1342.1 205.8 L1342.7 205.8 L1343.3 205.8 L1344.0 205.8 L1344.6 205.8 L1345.2 205.8 L1345.8 205.8 L1346.4 205.9 L1347.0 205.9 L1347.6 205.9 L1348.3 205.9 L1348.9 205.9 L1349.5 205.9 L1350.1 205.9 L1350.7 205.9 L1351.3 205.9 L1352.0 205.9 L1352.6 205.9 L1353.2 205.9 L1353.8 205.9 L1354.4 206.0 L1355.0 206.0 L1355.6 206.0 L1356.3 206.0 L1356.9 206.0 L1357.5 206.0 L1358.1 206.0 L1358.7 206.0 L1359.3 206.0 L1359.9 206.0 L1360.6 206.0 L1361.2 206.0 L1361.8 206.0 L1362.4 206.0 L1363.0 206.0 L1363.6 206.1 L1364.2 206.1" fill="none" stroke="#0000ff" stroke-width="1.6"/>
<path d="M1087.8 139.4 1088.2 130.8 1088.5 130.8 1088.9 136.0 1089.3 124.5 1089.7 133.7 1090.0 132.1 1090.4 128.9 1090.8 143.2 1091.1 151.6 1091.5 134.7 1091.9 145.0 1092.2 132.8 1092.6 140.1 1093.0 136.5 1093.3 138.9 1093.7 158.4 1094.1 140.8 1094.4 150.7 1094.8 152.0 1095.2 150.7 1095.6 143.5 1095.9 143.5 1096.3 143.4 1096.7 161.6 1097.0 155.2 1097.4 167.6 1097.8 153.4 1098.1 149.4 1098.5 159.0 1098.9 153.0 1099.2 153.7 1099.6 149.2 1100.0 161.8 1100.4 162.4 1100.7 162.5 1101.1 146.6 1101.5 151.5 1101.8 160.0 1102.2 158.2 1102.6 159.5 1102.9 159.4 1103.3 162.6 1103.7 163.9 1104.0 170.4 1104.4 166.9 1104.8 152.3 1105.2 160.1 1105.5 163.6 1105.9 165.9 1106.3 164.5 1106.6 163.1 1107.0 170.0 1107.4 164.9 1107.7 165.1 1108.1 171.9 1108.5 172.6 1108.8 174.4 1109.2 175.2 1109.6 162.7 1109.9 184.4 1110.3 171.1 1110.7 173.7 1111.1 174.1 1111.4 169.7 1111.8 163.3 1112.2 170.5 1112.5 172.3 1112.9 175.7 1113.3 172.9 1113.6 166.4 1114.0 175.2 1114.4 180.5 1114.7 181.5 1115.1 180.8 1115.5 183.0 1115.9 166.9 1116.2 172.1 1116.6 176.3 1117.0 165.4 1117.3 179.6 1117.7 170.6 1118.1 170.5 1118.4 186.2 1118.8 186.5 1119.2 182.6 1119.5 170.9 1119.9 168.6 1120.3 185.4 1120.6 170.7 1121.0 180.3 1121.4 180.6 1121.8 181.9 1122.1 180.6 1122.5 190.6 1122.9 185.5 1123.2 187.3 1123.6 176.2 1124.0 165.9 1124.3 161.9 1124.7 182.2 1125.1 191.5 1125.4 183.1 1125.8 186.8 1126.2 167.8 1126.6 177.3 1126.9 186.0 1127.3 175.3 1127.7 178.1 1128.0 192.4 1128.4 185.4 1128.8 183.7 1129.1 182.2 1129.5 181.6 1129.9 184.9 1130.2 181.6 1130.6 186.9 1131.0 189.1 1131.3 173.4 1131.7 181.2 1132.1 180.8 1132.5 194.3 1132.8 185.1 1133.2 178.8 1133.6 192.8 1133.9 177.3 1134.3 187.2 1134.7 182.2 1135.0 185.8 1135.4 183.7 1135.8 177.4 1136.1 188.0 1136.5 175.3 1136.9 190.8 1137.3 191.9 1137.6 181.3 1138.0 193.1 1138.4 188.7 1138.7 180.4 1139.1 178.6 1139.5 198.3 1139.8 183.5 1140.2 174.6 1140.6 179.2 1140.9 188.7 1141.3 191.2 1141.7 189.4 1142.1 195.1 1142.4 189.4 1142.8 189.0 1143.2 188.9 1143.5 180.3 1143.9 189.7 1144.3 197.8 1144.6 181.5 1145.0 195.5 1145.4 191.6 1145.7 189.6 1146.1 191.1 1146.5 195.5 1146.8 190.7 1147.2 174.9 1147.6 193.3 1148.0 190.3 1148.3 182.2 1148.7 184.7 1149.1 184.7 1149.4 184.2 1149.8 202.8 1150.2 195.7 1150.5 189.3 1150.9 187.0 1151.3 181.9 1151.6 187.4 1152.0 192.1 1152.4 190.4 1152.8 192.1 1153.1 189.2 1153.5 186.5 1153.9 193.3 1154.2 196.5 1154.6 196.8 1155.0 184.1 1155.3 183.0 1155.7 185.0 1156.1 186.0 1156.4 186.2 1156.8 191.8 1157.2 187.5 1157.5 198.8 1157.9 193.4 1158.3 196.9 1158.7 187.4 1159.0 196.1 1159.4 193.1 1159.8 189.8 1160.1 183.7 1160.5 197.8 1160.9 198.9 1161.2 187.4 1161.6 200.1 1162.0 190.0 1162.3 196.8 1162.7 193.8 1163.1 205.1 1163.5 188.6 1163.8 196.6 1164.2 199.3 1164.6 179.9 1164.9 188.9 1165.3 170.7 1165.7 191.1 1166.0 196.1 1166.4 193.2 1166.8 183.4 1167.1 194.2 1167.5 191.2 1167.9 190.8 1168.2 200.2 1168.6 193.5 1169.0 197.7 1169.4 202.6 1169.7 188.8 1170.1 190.2 1170.5 194.2 1170.8 200.7 1171.2 208.0 1171.6 191.7 1171.9 195.6 1172.3 206.0 1172.7 195.5 1173.0 205.1 1173.4 195.4 1173.8 194.3 1174.2 193.0 1174.5 194.0 1174.9 194.3 1175.3 203.0 1175.6 198.1 1176.0 199.0 1176.4 197.3 1176.7 194.0 1177.1 191.8 1177.5 185.2 1177.8 212.8 1178.2 193.4 1178.6 197.4 1179.0 181.2 1179.3 190.1 1179.7 207.1 1180.1 193.7 1180.4 199.8 1180.8 189.9 1181.2 203.4 1181.5 197.2 1181.9 197.5 1182.3 197.3 1182.6 200.6 1183.0 208.8 1183.4 193.8 1183.7 190.3 1184.1 197.4 1184.5 203.7 1184.9 195.7 1185.2 193.4 1185.6 198.3 1186.0 197.3 1186.3 188.0 1186.7 204.7 1187.1 201.0 1187.4 209.9 1187.8 202.1 1188.2 202.4 1188.5 203.9 1188.9 202.2 1189.3 185.9 1189.7 199.0 1190.0 198.5 1190.4 183.4 1190.8 198.3 1191.1 209.3 1191.5 195.3 1191.9 204.2 1192.2 187.3 1192.6 206.3 1193.0 202.0 1193.3 208.7 1193.7 197.6 1194.1 205.0 1194.4 198.8 1194.8 200.9 1195.2 202.5 1195.6 192.3 1195.9 192.4 1196.3 198.2 1196.7 204.5 1197.0 205.7 1197.4 197.0 1197.8 183.1 1198.1 201.8 1198.5 204.0 1198.9 203.5 1199.2 206.1 1199.6 205.4 1200.0 200.4 1200.4 189.7 1200.7 199.1 1201.1 202.5 1201.5 209.8 1201.8 197.8 1202.2 199.5 1202.6 207.4 1202.9 206.5 1203.3 199.7 1203.7 192.8 1204.0 195.4 1204.4 198.2 1204.8 201.7 1205.1 197.5 1205.5 199.7 1205.9 185.4 1206.3 207.1 1206.6 202.2 1207.0 191.5 1207.4 201.6 1207.7 190.5 1208.1 200.2 1208.5 199.0 1208.8 202.4 1209.2 209.1 1209.6 206.4 1209.9 185.6 1210.3 195.9 1210.7 196.2 1211.1 193.9 1211.4 196.5 1211.8 193.6 1212.2 202.0 1212.5 201.8 1212.9 193.9 1213.3 202.7 1213.6 209.2 1214.0 202.0 1214.4 204.1 1214.7 196.5 1215.1 205.3 1215.5 207.6 1215.9 202.8 1216.2 190.5 1216.6 201.0 1217.0 199.7 1217.3 200.7 1217.7 198.9 1218.1 194.8 1218.4 191.7 1218.8 211.7 1219.2 192.0 1219.5 201.0 1219.9 203.1 1220.3 185.3 1220.6 202.2 1221.0 188.4 1221.4 194.8 1221.8 207.9 1222.1 198.0 1222.5 196.4 1222.9 202.1 1223.2 216.5 1223.6 203.6 1224.0 202.6 1224.3 208.6 1224.7 189.4 1225.1 203.0 1225.4 204.0 1225.8 203.4 1226.2 206.6 1226.6 206.6 1226.9 201.0 1227.3 199.5 1227.7 205.0 1228.0 202.2 1228.4 210.8 1228.8 198.3 1229.1 206.6 1229.5 200.4 1229.9 207.7 1230.2 205.2 1230.6 200.4 1231.0 209.8 1231.3 185.7 1231.7 202.2 1232.1 202.4 1232.5 206.8 1232.8 191.6 1233.2 192.9 1233.6 200.1 1233.9 211.0 1234.3 205.4 1234.7 198.1 1235.0 205.5 1235.4 209.9 1235.8 210.0 1236.1 207.3 1236.5 202.2 1236.9 206.5 1237.3 202.2 1237.6 184.0 1238.0 190.7 1238.4 209.2 1238.7 200.2 1239.1 201.9 1239.5 203.4 1239.8 195.6 1240.2 204.7 1240.6 204.6 1240.9 205.0 1241.3 203.2 1241.7 194.2 1242.0 197.5 1242.4 211.4 1242.8 205.5 1243.2 207.9 1243.5 197.4 1243.9 201.2 1244.3 196.9 1244.6 203.2 1245.0 215.3 1245.4 199.9 1245.7 201.3 1246.1 199.5 1246.5 211.4 1246.8 202.4 1247.2 207.4 1247.6 207.4 1248.0 200.6 1248.3 200.7 1248.7 208.8 1249.1 214.2 1249.4 219.2 1249.8 206.8 1250.2 195.7 1250.5 203.5 1250.9 217.9 1251.3 208.8 1251.6 200.4 1252.0 192.2 1252.4 195.5 1252.8 200.8 1253.1 201.9 1253.5 210.2 1253.9 206.2 1254.2 205.5 1254.6 208.4 1255.0 202.9 1255.3 205.9 1255.7 201.2 1256.1 194.0 1256.4 198.5 1256.8 200.7 1257.2 205.0 1257.5 213.4 1257.9 204.2 1258.3 199.9 1258.7 210.1 1259.0 195.3 1259.4 205.7 1259.8 201.1 1260.1 205.7 1260.5 211.8 1260.9 190.1 1261.2 211.2 1261.6 197.6 1262.0 207.3 1262.3 201.9 1262.7 209.0 1263.1 206.4 1263.5 197.7 1263.8 191.0 1264.2 209.3 1264.6 203.7 1264.9 197.6 1265.3 207.9 1265.7 199.2 1266.0 209.0 1266.4 199.9 1266.8 201.0 1267.1 195.9 1267.5 201.5 1267.9 211.7 1268.2 199.6 1268.6 211.2 1269.0 199.0 1269.4 194.1 1269.7 200.1 1270.1 207.6 1270.5 196.2 1270.8 202.9 1271.2 212.2 1271.6 206.4 1271.9 194.8 1272.3 206.1 1272.7 203.3 1273.0 206.4 1273.4 215.2 1273.8 207.5 1274.2 201.8 1274.5 202.8 1274.9 205.3 1275.3 218.2 1275.6 196.2 1276.0 199.5 1276.4 197.5 1276.7 195.7 1277.1 207.2 1277.5 208.3 1277.8 202.2 1278.2 193.4 1278.6 215.4 1278.9 205.9 1279.3 209.0 1279.7 200.7 1280.1 194.8 1280.4 206.3 1280.8 212.5 1281.2 204.1 1281.5 206.3 1281.9 214.6 1282.3 198.7 1282.6 207.9 1283.0 200.0 1283.4 213.1 1283.7 197.3 1284.1 214.0 1284.5 197.6 1284.9 216.4 1285.2 195.5 1285.6 207.0 1286.0 214.8 1286.3 206.1 1286.7 202.4 1287.1 211.1 1287.4 207.9 1287.8 202.9 1288.2 205.8 1288.5 224.7 1288.9 207.5 1289.3 201.9 1289.7 202.7 1290.0 198.1 1290.4 209.2 1290.8 188.0 1291.1 199.5 1291.5 202.7 1291.9 197.7 1292.2 198.5 1292.6 204.1 1293.0 208.9 1293.3 198.1 1293.7 202.0 1294.1 217.2 1294.4 212.1 1294.8 201.8 1295.2 204.1 1295.6 203.0 1295.9 200.7 1296.3 203.9 1296.7 194.5 1297.0 208.8 1297.4 207.5 1297.8 202.8 1298.1 200.1 1298.5 199.8 1298.9 195.2 1299.2 208.1 1299.6 197.3 1300.0 201.9 1300.4 211.8 1300.7 205.9 1301.1 191.4 1301.5 199.9 1301.8 208.1 1302.2 220.8 1302.6 209.9 1302.9 209.7 1303.3 204.6 1303.7 189.9 1304.0 200.2 1304.4 203.0 1304.8 211.2 1305.1 212.9 1305.5 206.5 1305.9 208.2 1306.3 185.4 1306.6 207.8 1307.0 209.2 1307.4 197.8 1307.7 204.7 1308.1 213.3 1308.5 196.7 1308.8 207.2 1309.2 213.9 1309.6 203.1 1309.9 202.0 1310.3 207.4 1310.7 200.7 1311.1 199.9 1311.4 211.0 1311.8 218.7 1312.2 221.0 1312.5 206.1 1312.9 197.2 1313.3 198.7 1313.6 196.2 1314.0 193.2 1314.4 205.2 1314.7 198.4 1315.1 215.4 1315.5 200.8 1315.8 202.8 1316.2 206.0 1316.6 208.3 1317.0 212.7 1317.3 204.5 1317.7 197.0 1318.1 207.8 1318.4 201.9 1318.8 209.8 1319.2 203.8 1319.5 212.0 1319.9 203.0 1320.3 206.9 1320.6 203.4 1321.0 209.4 1321.4 213.2 1321.8 207.6 1322.1 198.7 1322.5 195.1 1322.9 207.6 1323.2 200.3 1323.6 200.5 1324.0 202.9 1324.3 215.7 1324.7 203.4 1325.1 211.9 1325.4 197.8 1325.8 200.4 1326.2 201.5 1326.6 222.2 1326.9 201.5 1327.3 201.0 1327.7 213.9 1328.0 199.2 1328.4 205.1 1328.8 206.8 1329.1 210.3 1329.5 212.3 1329.9 208.5 1330.2 185.4 1330.6 204.3 1331.0 204.3 1331.3 209.9 1331.7 209.7 1332.1 209.3 1332.5 211.5 1332.8 199.9 1333.2 207.4 1333.6 200.0 1333.9 213.2 1334.3 199.6 1334.7 205.9 1335.0 201.3 1335.4 206.4 1335.8 211.5 1336.1 197.8 1336.5 208.6 1336.9 206.7 1337.3 211.5 1337.6 204.4 1338.0 208.3 1338.4 203.9 1338.7 203.5 1339.1 210.3 1339.5 215.0 1339.8 202.9 1340.2 199.8 1340.6 201.2 1340.9 213.3 1341.3 201.8 1341.7 203.3 1342.0 203.9 1342.4 203.0 1342.8 207.9 1343.2 204.4 1343.5 199.7 1343.9 209.1 1344.3 215.3 1344.6 206.5 1345.0 204.6 1345.4 217.9 1345.7 210.3 1346.1 202.0 1346.5 206.8 1346.8 205.3 1347.2 214.1 1347.6 199.9 1348.0 194.4 1348.3 207.2 1348.7 210.7 1349.1 213.5 1349.4 200.1 1349.8 205.2 1350.2 211.1 1350.5 198.0 1350.9 200.9 1351.3 202.0 1351.6 217.5 1352.0 206.6 1352.4 201.8 1352.7 214.0 1353.1 199.9 1353.5 196.6 1353.9 199.2 1354.2 210.7 1354.6 210.6 1355.0 199.8 1355.3 199.5 1355.7 197.9 1356.1 198.1 1356.4 206.6 1356.8 208.7 1357.2 218.1 1357.5 200.9 1357.9 191.1 1358.3 209.0 1358.7 209.1 1359.0 201.8 1359.4 203.6 1359.8 215.0 1360.1 210.7 1360.5 213.2 1360.9 192.8 1361.2 210.7 1361.6 200.4 1362.0 193.5 1362.3 193.6 1362.7 196.7 1363.1 195.4 1363.5 214.1 1363.8 208.3 1364.2 210.8" fill="none" stroke="none" marker-start="url(#bb)" marker-mid="url(#bb)" marker-end="url(#bb)"/>
<path d="M1087.8 182.7 1088.4 159.3 1089.0 194.4 1089.7 176.4 1090.3 191.2 1090.9 170.5 1091.5 171.0 1092.1 185.9 1092.7 165.2 1093.3 181.6 1094.0 171.8 1094.6 180.0 1095.2 187.3 1095.8 186.0 1096.4 184.1 1097.0 178.3 1097.6 182.5 1098.3 164.5 1098.9 185.4 1099.5 187.8 1100.1 190.1 1100.7 190.7 1101.3 196.3 1102.0 192.8 1102.6 177.6 1103.2 184.6 1103.8 186.7 1104.4 182.6 1105.0 177.0 1105.6 180.8 1106.3 179.7 1106.9 190.7 1107.5 188.4 1108.1 192.8 1108.7 187.4 1109.3 193.4 1109.9 190.0 1110.6 188.5 1111.2 189.0 1111.8 189.6 1112.4 191.5 1113.0 177.1 1113.6 190.6 1114.3 196.2 1114.9 186.6 1115.5 197.1 1116.1 197.2 1116.7 187.9 1117.3 202.3 1117.9 215.0 1118.6 186.7 1119.2 180.8 1119.8 202.9 1120.4 196.7 1121.0 184.9 1121.6 205.8 1122.2 197.0 1122.9 199.8 1123.5 191.7 1124.1 206.3 1124.7 183.1 1125.3 191.7 1125.9 188.2 1126.6 193.4 1127.2 208.1 1127.8 192.3 1128.4 202.0 1129.0 191.2 1129.6 198.3 1130.2 194.1 1130.9 193.4 1131.5 185.5 1132.1 185.7 1132.7 200.2 1133.3 192.3 1133.9 180.4 1134.5 188.4 1135.2 198.4 1135.8 193.6 1136.4 195.5 1137.0 185.2 1137.6 192.7 1138.2 190.0 1138.9 175.2 1139.5 204.4 1140.1 201.6 1140.7 207.5 1141.3 206.5 1141.9 186.7 1142.5 191.4 1143.2 180.7 1143.8 210.0 1144.4 201.2 1145.0 182.5 1145.6 185.9 1146.2 187.2 1146.8 187.4 1147.5 194.3 1148.1 194.8 1148.7 194.5 1149.3 188.0 1149.9 196.3 1150.5 192.5 1151.2 183.4 1151.8 204.4 1152.4 201.4 1153.0 190.8 1153.6 197.7 1154.2 196.9 1154.8 178.7 1155.5 192.4 1156.1 199.3 1156.7 187.1 1157.3 175.6 1157.9 205.1 1158.5 201.6 1159.1 195.4 1159.8 201.5 1160.4 178.8 1161.0 192.3 1161.6 199.9 1162.2 192.7 1162.8 203.2 1163.5 201.8 1164.1 196.1 1164.7 177.7 1165.3 215.4 1165.9 193.8 1166.5 186.3 1167.1 191.3 1167.8 181.8 1168.4 193.8 1169.0 196.4 1169.6 198.7 1170.2 204.6 1170.8 184.5 1171.4 207.4 1172.1 198.9 1172.7 202.2 1173.3 204.4 1173.9 216.1 1174.5 201.3 1175.1 197.1 1175.8 197.2 1176.4 191.5 1177.0 199.8 1177.6 203.7 1178.2 196.1 1178.8 193.3 1179.4 206.1 1180.1 211.1 1180.7 207.2 1181.3 190.3 1181.9 190.9 1182.5 206.2 1183.1 198.2 1183.7 192.4 1184.4 188.4 1185.0 204.6 1185.6 201.3 1186.2 188.0 1186.8 179.9 1187.4 187.1 1188.1 208.8 1188.7 196.0 1189.3 202.1 1189.9 200.2 1190.5 205.2 1191.1 203.7 1191.7 200.0 1192.4 185.3 1193.0 194.3 1193.6 196.6 1194.2 199.9 1194.8 206.3 1195.4 202.1 1196.0 190.2 1196.7 193.6 1197.3 184.4 1197.9 198.3 1198.5 200.6 1199.1 213.7 1199.7 197.4 1200.4 214.6 1201.0 188.3 1201.6 205.8 1202.2 200.8 1202.8 211.8 1203.4 204.9 1204.0 208.5 1204.7 191.8 1205.3 199.0 1205.9 210.6 1206.5 216.8 1207.1 201.7 1207.7 205.1 1208.3 210.2 1209.0 196.5 1209.6 202.8 1210.2 200.5 1210.8 206.2 1211.4 206.1 1212.0 205.2 1212.7 214.5 1213.3 196.5 1213.9 198.3 1214.5 215.6 1215.1 200.9 1215.7 192.4 1216.3 199.9 1217.0 191.3 1217.6 204.0 1218.2 201.9 1218.8 212.5 1219.4 209.3 1220.0 216.8 1220.6 209.3 1221.3 200.1 1221.9 197.9 1222.5 192.7 1223.1 201.1 1223.7 210.3 1224.3 198.8 1225.0 203.5 1225.6 187.9 1226.2 186.5 1226.8 194.6 1227.4 211.7 1228.0 206.7 1228.6 201.0 1229.3 208.3 1229.9 198.3 1230.5 197.0 1231.1 195.8 1231.7 200.8 1232.3 209.9 1232.9 209.6 1233.6 203.8 1234.2 192.0 1234.8 190.1 1235.4 194.9 1236.0 200.0 1236.6 197.4 1237.3 196.3 1237.9 192.5 1238.5 196.1 1239.1 215.5 1239.7 195.3 1240.3 200.0 1240.9 206.9 1241.6 198.9 1242.2 200.9 1242.8 203.7 1243.4 217.0 1244.0 202.4 1244.6 198.8 1245.2 203.7 1245.9 216.2 1246.5 199.7 1247.1 197.6 1247.7 202.0 1248.3 200.0 1248.9 206.3 1249.6 208.9 1250.2 199.3 1250.8 206.4 1251.4 202.1 1252.0 177.2 1252.6 197.9 1253.2 202.6 1253.9 216.9 1254.5 202.9 1255.1 197.6 1255.7 209.5 1256.3 205.7 1256.9 222.1 1257.5 199.3 1258.2 208.7 1258.8 198.3 1259.4 192.8 1260.0 205.2 1260.6 196.0 1261.2 201.9 1261.9 205.7 1262.5 206.3 1263.1 210.9 1263.7 193.6 1264.3 196.9 1264.9 212.3 1265.5 197.3 1266.2 210.1 1266.8 216.4 1267.4 194.5 1268.0 214.6 1268.6 194.6 1269.2 202.6 1269.8 196.9 1270.5 200.1 1271.1 194.9 1271.7 201.5 1272.3 199.7 1272.9 202.3 1273.5 195.5 1274.2 207.6 1274.8 196.2 1275.4 192.2 1276.0 205.0 1276.6 200.9 1277.2 208.7 1277.8 206.8 1278.5 202.4 1279.1 207.3 1279.7 211.7 1280.3 204.8 1280.9 203.0 1281.5 202.0 1282.1 198.9 1282.8 219.0 1283.4 193.2 1284.0 206.1 1284.6 211.0 1285.2 207.7 1285.8 201.1 1286.5 197.7 1287.1 207.7 1287.7 203.5 1288.3 217.7 1288.9 203.4 1289.5 205.7 1290.1 208.3 1290.8 197.7 1291.4 190.3 1292.0 196.5 1292.6 211.2 1293.2 192.5 1293.8 207.6 1294.4 205.3 1295.1 209.7 1295.7 201.3 1296.3 200.5 1296.9 203.8 1297.5 206.7 1298.1 206.2 1298.8 208.3 1299.4 197.2 1300.0 209.3 1300.6 206.3 1301.2 206.8 1301.8 211.2 1302.4 207.0 1303.1 217.0 1303.7 201.8 1304.3 200.8 1304.9 207.6 1305.5 192.6 1306.1 211.8 1306.7 200.7 1307.4 201.4 1308.0 209.6 1308.6 207.2 1309.2 198.1 1309.8 204.8 1310.4 203.0 1311.1 194.0 1311.7 203.5 1312.3 218.8 1312.9 211.3 1313.5 198.6 1314.1 206.4 1314.7 214.1 1315.4 221.3 1316.0 202.8 1316.6 193.3 1317.2 215.5 1317.8 222.9 1318.4 201.4 1319.0 209.8 1319.7 207.8 1320.3 208.1 1320.9 212.7 1321.5 201.9 1322.1 198.1 1322.7 202.6 1323.4 210.0 1324.0 197.1 1324.6 206.4 1325.2 200.9 1325.8 213.1 1326.4 200.3 1327.0 199.6 1327.7 195.2 1328.3 205.4 1328.9 202.0 1329.5 210.2 1330.1 198.5 1330.7 199.4 1331.3 196.9 1332.0 208.7 1332.6 215.5 1333.2 206.2 1333.8 207.3 1334.4 211.7 1335.0 200.8 1335.7 198.1 1336.3 202.5 1336.9 196.8 1337.5 202.5 1338.1 213.6 1338.7 210.4 1339.3 208.6 1340.0 200.2 1340.6 198.3 1341.2 204.7 1341.8 197.6 1342.4 212.4 1343.0 206.7 1343.6 193.8 1344.3 202.2 1344.9 197.4 1345.5 220.9 1346.1 219.2 1346.7 212.7 1347.3 197.8 1348.0 192.8 1348.6 210.8 1349.2 213.7 1349.8 214.0 1350.4 213.0 1351.0 201.4 1351.6 208.4 1352.3 190.8 1352.9 200.1 1353.5 211.4 1354.1 204.0 1354.7 207.1 1355.3 199.6 1355.9 198.7 1356.6 208.7 1357.2 198.8 1357.8 201.4 1358.4 206.6 1359.0 203.9 1359.6 200.5 1360.3 208.5 1360.9 211.4 1361.5 195.8 1362.1 205.9 1362.7 210.7 1363.3 202.3 1363.9 217.8" fill="none" stroke="none" marker-start="url(#bk)" marker-mid="url(#bk)" marker-end="url(#bk)"/>
<path d="M1087.5 80.4 L1088.1 83.6 L1088.7 86.7 L1089.3 89.7 L1090.0 92.5 L1090.6 95.2 L1091.2 97.8 L1091.8 100.3 L1092.4 102.7 L1093.0 104.9 L1093.7 107.1 L1094.3 109.1 L1094.9 111.1 L1095.5 113.0 L1096.1 114.8 L1096.7 116.5 L1097.3 118.2 L1098.0 119.8 L1098.6 121.3 L1099.2 122.8 L1099.8 124.1 L1100.4 125.5 L1101.0 126.8 L1101.6 128.0 L1102.3 129.2 L1102.9 130.3 L1103.5 131.4 L1104.1 132.4 L1104.7 133.4 L1105.3 134.4 L1106.0 135.3 L1106.6 136.2 L1107.2 137.0 L1107.8 137.9 L1108.4 138.7 L1109.0 139.4 L1109.6 140.1 L1110.3 140.8 L1110.9 141.5 L1111.5 142.2 L1112.1 142.8 L1112.7 143.4 L1113.3 144.0 L1113.9 144.6 L1114.6 145.1 L1115.2 145.7 L1115.8 146.2 L1116.4 146.7 L1117.0 147.1 L1117.6 147.6 L1118.2 148.1 L1118.9 148.5 L1119.5 148.9 L1120.1 149.3 L1120.7 149.7 L1121.3 150.1 L1121.9 150.5 L1122.6 150.8 L1123.2 151.2 L1123.8 151.5 L1124.4 151.9 L1125.0 152.2 L1125.6 152.5 L1126.2 152.8 L1126.9 153.1 L1127.5 153.4 L1128.1 153.7 L1128.7 154.0 L1129.3 154.2 L1129.9 154.5 L1130.5 154.8 L1131.2 155.0 L1131.8 155.3 L1132.4 155.5 L1133.0 155.7 L1133.6 156.0 L1134.2 156.2 L1134.9 156.4 L1135.5 156.6 L1136.1 156.9 L1136.7 157.1 L1137.3 157.3 L1137.9 157.5 L1138.5 157.7 L1139.2 157.9 L1139.8 158.1 L1140.4 158.2 L1141.0 158.4 L1141.6 158.6 L1142.2 158.8 L1142.8 159.0 L1143.5 159.1 L1144.1 159.3 L1144.7 159.5 L1145.3 159.6 L1145.9 159.8 L1146.5 160.0 L1147.2 160.1 L1147.8 160.3 L1148.4 160.4 L1149.0 160.6 L1149.6 160.7 L1150.2 160.9 L1150.8 161.0 L1151.5 161.2 L1152.1 161.3 L1152.7 161.4 L1153.3 161.6 L1153.9 161.7 L1154.5 161.8 L1155.2 162.0 L1155.8 162.1 L1156.4 162.2 L1157.0 162.4 L1157.6 162.5 L1158.2 162.6 L1158.8 162.7 L1159.5 162.9 L1160.1 163.0 L1160.7 163.1 L1161.3 163.2 L1161.9 163.3 L1162.5 163.4 L1163.1 163.6 L1163.8 163.7 L1164.4 163.8 L1165.0 163.9 L1165.6 164.0 L1166.2 164.1 L1166.8 164.2 L1167.5 164.3 L1168.1 164.4 L1168.7 164.5 L1169.3 164.6 L1169.9 164.7 L1170.5 164.8 L1171.1 164.9 L1171.8 165.0 L1172.4 165.1 L1173.0 165.2 L1173.6 165.3 L1174.2 165.4 L1174.8 165.5 L1175.4 165.6 L1176.1 165.7 L1176.7 165.8 L1177.3 165.9 L1177.9 166.0 L1178.5 166.1 L1179.1 166.2 L1179.8 166.3 L1180.4 166.3 L1181.0 166.4 L1181.6 166.5 L1182.2 166.6 L1182.8 166.7 L1183.4 166.8 L1184.1 166.9 L1184.7 166.9 L1185.3 167.0 L1185.9 167.1 L1186.5 167.2 L1187.1 167.3 L1187.7 167.3 L1188.4 167.4 L1189.0 167.5 L1189.6 167.6 L1190.2 167.7 L1190.8 167.7 L1191.4 167.8 L1192.0 167.9 L1192.7 168.0 L1193.3 168.0 L1193.9 168.1 L1194.5 168.2 L1195.1 168.2 L1195.7 168.3 L1196.4 168.4 L1197.0 168.5 L1197.6 168.5 L1198.2 168.6 L1198.8 168.7 L1199.4 168.7 L1200.0 168.8 L1200.7 168.9 L1201.3 168.9 L1201.9 169.0 L1202.5 169.1 L1203.1 169.1 L1203.7 169.2 L1204.3 169.2 L1205.0 169.3 L1205.6 169.4 L1206.2 169.4 L1206.8 169.5 L1207.4 169.6 L1208.0 169.6 L1208.7 169.7 L1209.3 169.7 L1209.9 169.8 L1210.5 169.9 L1211.1 169.9 L1211.7 170.0 L1212.3 170.0 L1213.0 170.1 L1213.6 170.1 L1214.2 170.2 L1214.8 170.2 L1215.4 170.3 L1216.0 170.4 L1216.7 170.4 L1217.3 170.5 L1217.9 170.5 L1218.5 170.6 L1219.1 170.6 L1219.7 170.7 L1220.3 170.7 L1221.0 170.8 L1221.6 170.8 L1222.2 170.9 L1222.8 170.9 L1223.4 171.0 L1224.0 171.0 L1224.6 171.1 L1225.3 171.1 L1225.9 171.2 L1226.5 171.2 L1227.1 171.3 L1227.7 171.3 L1228.3 171.4 L1229.0 171.4 L1229.6 171.4 L1230.2 171.5 L1230.8 171.5 L1231.4 171.6 L1232.0 171.6 L1232.6 171.7 L1233.3 171.7 L1233.9 171.8 L1234.5 171.8 L1235.1 171.8 L1235.7 171.9 L1236.3 171.9 L1236.9 172.0 L1237.6 172.0 L1238.2 172.0 L1238.8 172.1 L1239.4 172.1 L1240.0 172.2 L1240.6 172.2 L1241.2 172.2 L1241.9 172.3 L1242.5 172.3 L1243.1 172.4 L1243.7 172.4 L1244.3 172.4 L1244.9 172.5 L1245.6 172.5 L1246.2 172.5 L1246.8 172.6 L1247.4 172.6 L1248.0 172.7 L1248.6 172.7 L1249.2 172.7 L1249.9 172.8 L1250.5 172.8 L1251.1 172.8 L1251.7 172.9 L1252.3 172.9 L1252.9 172.9 L1253.5 173.0 L1254.2 173.0 L1254.8 173.0 L1255.4 173.1 L1256.0 173.1 L1256.6 173.1 L1257.2 173.2 L1257.9 173.2 L1258.5 173.2 L1259.1 173.2 L1259.7 173.3 L1260.3 173.3 L1260.9 173.3 L1261.5 173.4 L1262.2 173.4 L1262.8 173.4 L1263.4 173.5 L1264.0 173.5 L1264.6 173.5 L1265.2 173.5 L1265.8 173.6 L1266.5 173.6 L1267.1 173.6 L1267.7 173.7 L1268.3 173.7 L1268.9 173.7 L1269.5 173.7 L1270.2 173.8 L1270.8 173.8 L1271.4 173.8 L1272.0 173.8 L1272.6 173.9 L1273.2 173.9 L1273.8 173.9 L1274.5 173.9 L1275.1 174.0 L1275.7 174.0 L1276.3 174.0 L1276.9 174.0 L1277.5 174.1 L1278.2 174.1 L1278.8 174.1 L1279.4 174.1 L1280.0 174.2 L1280.6 174.2 L1281.2 174.2 L1281.8 174.2 L1282.5 174.3 L1283.1 174.3 L1283.7 174.3 L1284.3 174.3 L1284.9 174.3 L1285.5 174.4 L1286.1 174.4 L1286.8 174.4 L1287.4 174.4 L1288.0 174.5 L1288.6 174.5 L1289.2 174.5 L1289.8 174.5 L1290.5 174.5 L1291.1 174.6 L1291.7 174.6 L1292.3 174.6 L1292.9 174.6 L1293.5 174.6 L1294.1 174.7 L1294.8 174.7 L1295.4 174.7 L1296.0 174.7 L1296.6 174.7 L1297.2 174.8 L1297.8 174.8 L1298.4 174.8 L1299.1 174.8 L1299.7 174.8 L1300.3 174.8 L1300.9 174.9 L1301.5 174.9 L1302.1 174.9 L1302.8 174.9 L1303.4 174.9 L1304.0 175.0 L1304.6 175.0 L1305.2 175.0 L1305.8 175.0 L1306.4 175.0 L1307.1 175.0 L1307.7 175.1 L1308.3 175.1 L1308.9 175.1 L1309.5 175.1 L1310.1 175.1 L1310.7 175.1 L1311.4 175.1 L1312.0 175.2 L1312.6 175.2 L1313.2 175.2 L1313.8 175.2 L1314.4 175.2 L1315.0 175.2 L1315.7 175.3 L1316.3 175.3 L1316.9 175.3 L1317.5 175.3 L1318.1 175.3 L1318.7 175.3 L1319.4 175.3 L1320.0 175.4 L1320.6 175.4 L1321.2 175.4 L1321.8 175.4 L1322.4 175.4 L1323.0 175.4 L1323.7 175.4 L1324.3 175.5 L1324.9 175.5 L1325.5 175.5 L1326.1 175.5 L1326.7 175.5 L1327.3 175.5 L1328.0 175.5 L1328.6 175.5 L1329.2 175.6 L1329.8 175.6 L1330.4 175.6 L1331.0 175.6 L1331.7 175.6 L1332.3 175.6 L1332.9 175.6 L1333.5 175.6 L1334.1 175.6 L1334.7 175.7 L1335.3 175.7 L1336.0 175.7 L1336.6 175.7 L1337.2 175.7 L1337.8 175.7 L1338.4 175.7 L1339.0 175.7 L1339.7 175.7 L1340.3 175.8 L1340.9 175.8 L1341.5 175.8 L1342.1 175.8 L1342.7 175.8 L1343.3 175.8 L1344.0 175.8 L1344.6 175.8 L1345.2 175.8 L1345.8 175.9 L1346.4 175.9 L1347.0 175.9 L1347.6 175.9 L1348.3 175.9 L1348.9 175.9 L1349.5 175.9 L1350.1 175.9 L1350.7 175.9 L1351.3 175.9 L1352.0 175.9 L1352.6 176.0 L1353.2 176.0 L1353.8 176.0 L1354.4 176.0 L1355.0 176.0 L1355.6 176.0 L1356.3 176.0 L1356.9 176.0 L1357.5 176.0 L1358.1 176.0 L1358.7 176.0 L1359.3 176.1 L1359.9 176.1 L1360.6 176.1 L1361.2 176.1 L1361.8 176.1 L1362.4 176.1 L1363.0 176.1 L1363.6 176.1 L1364.2 176.1" fill="none" stroke="#ff00ff" stroke-width="1.6"/>
<path d="M1087.8 81.8 1088.1 88.4 1088.5 86.9 1088.8 93.2 1089.2 91.2 1089.5 87.4 1089.8 92.6 1090.2 97.6 1090.5 89.1 1090.9 98.5 1091.2 92.8 1091.5 101.0 1091.9 105.5 1092.2 95.6 1092.5 104.6 1092.9 101.8 1093.2 101.5 1093.6 111.2 1093.9 107.7 1094.2 111.0 1094.6 108.1 1094.9 111.2 1095.2 116.5 1095.6 113.1 1095.9 111.7 1096.3 116.2 1096.6 114.3 1096.9 118.9 1097.3 118.2 1097.6 117.7 1098.0 119.3 1098.3 116.3 1098.6 118.2 1099.0 119.4 1099.3 120.6 1099.6 123.3 1100.0 128.4 1100.3 121.7 1100.7 120.1 1101.0 125.9 1101.3 128.2 1101.7 128.1 1102.0 124.6 1102.4 128.4 1102.7 133.2 1103.0 131.1 1103.4 133.7 1103.7 132.4 1104.0 135.3 1104.4 135.8 1104.7 128.4 1105.1 130.4 1105.4 139.9 1105.7 138.2 1106.1 137.0 1106.4 137.3 1106.7 141.1 1107.1 133.9 1107.4 142.8 1107.8 135.5 1108.1 135.9 1108.4 139.9 1108.8 141.3 1109.1 139.3 1109.5 139.4 1109.8 147.3 1110.1 144.9 1110.5 139.3 1110.8 141.8 1111.1 143.2 1111.5 145.5 1111.8 144.9 1112.2 145.4 1112.5 133.8 1112.8 147.7 1113.2 138.7 1113.5 142.5 1113.9 143.7 1114.2 144.1 1114.5 146.3 1114.9 140.0 1115.2 143.9 1115.5 146.0 1115.9 146.6 1116.2 145.8 1116.6 150.6 1116.9 148.1 1117.2 149.4 1117.6 145.5 1117.9 145.8 1118.2 154.3 1118.6 149.0 1118.9 145.2 1119.3 153.1 1119.6 152.9 1119.9 145.8 1120.3 149.8 1120.6 151.1 1121.0 153.9 1121.3 149.5 1121.6 152.1 1122.0 149.8 1122.3 149.2 1122.6 148.5 1123.0 152.1 1123.3 153.0 1123.7 151.3 1124.0 152.0 1124.3 151.2 1124.7 153.8 1125.0 153.0 1125.4 154.3 1125.7 154.5 1126.0 152.2 1126.4 149.0 1126.7 154.8 1127.0 151.2 1127.4 152.2 1127.7 153.1 1128.1 151.4 1128.4 155.7 1128.7 152.1 1129.1 153.1 1129.4 166.0 1129.8 153.2 1130.1 152.5 1130.4 148.1 1130.8 158.4 1131.1 154.6 1131.4 153.9 1131.8 158.5 1132.1 151.3 1132.5 154.0 1132.8 158.3 1133.1 159.8 1133.5 157.3 1133.8 148.0 1134.1 148.9 1134.5 164.6 1134.8 162.5 1135.2 154.3 1135.5 157.0 1135.8 158.9 1136.2 154.8 1136.5 156.7 1136.9 156.1 1137.2 156.3 1137.5 161.0 1137.9 153.0 1138.2 159.1 1138.5 153.8 1138.9 155.4 1139.2 157.7 1139.6 157.5 1139.9 158.2 1140.2 164.4 1140.6 159.4 1140.9 156.9 1141.3 163.9 1141.6 163.6 1141.9 155.0 1142.3 156.0 1142.6 164.1 1142.9 157.4 1143.3 159.2 1143.6 155.9 1144.0 160.3 1144.3 160.1 1144.6 162.0 1145.0 158.9 1145.3 160.0 1145.6 161.9 1146.0 161.0 1146.3 162.4 1146.7 157.9 1147.0 163.5 1147.3 165.4 1147.7 163.5 1148.0 156.6 1148.4 162.1 1148.7 158.3 1149.0 158.1 1149.4 162.4 1149.7 158.2 1150.0 159.1 1150.4 161.0 1150.7 163.3 1151.1 161.2 1151.4 165.4 1151.7 162.1 1152.1 163.2 1152.4 159.9 1152.8 160.3 1153.1 163.7 1153.4 158.7 1153.8 157.6 1154.1 161.5 1154.4 164.3 1154.8 160.2 1155.1 170.2 1155.5 164.0 1155.8 160.1 1156.1 155.4 1156.5 164.7 1156.8 157.1 1157.1 154.5 1157.5 156.1 1157.8 170.5 1158.2 158.9 1158.5 162.0 1158.8 159.3 1159.2 163.4 1159.5 164.9 1159.9 163.7 1160.2 157.9 1160.5 160.2 1160.9 164.1 1161.2 161.9 1161.5 160.3 1161.9 161.4 1162.2 163.5 1162.6 165.7 1162.9 166.0 1163.2 165.0 1163.6 165.5 1163.9 169.0 1164.3 168.5 1164.6 160.8 1164.9 167.7 1165.3 168.4 1165.6 164.1 1165.9 159.1 1166.3 159.8 1166.6 165.6 1167.0 167.7 1167.3 166.1 1167.6 167.4 1168.0 166.3 1168.3 162.8 1168.6 168.1 1169.0 167.2 1169.3 165.5 1169.7 164.8 1170.0 167.4 1170.3 167.5 1170.7 168.7 1171.0 167.5 1171.4 163.2 1171.7 165.9 1172.0 175.7 1172.4 163.0 1172.7 165.4 1173.0 168.2 1173.4 166.2 1173.7 175.7 1174.1 171.0 1174.4 161.5 1174.7 158.2 1175.1 158.1 1175.4 168.1 1175.8 165.5 1176.1 163.1 1176.4 170.0 1176.8 159.9 1177.1 168.3 1177.4 164.7 1177.8 169.9 1178.1 164.8 1178.5 166.1 1178.8 162.4 1179.1 170.1 1179.5 166.2 1179.8 160.0 1180.1 170.4 1180.5 165.2 1180.8 164.9 1181.2 168.2 1181.5 167.4 1181.8 161.7 1182.2 162.7 1182.5 164.7 1182.9 165.8 1183.2 170.6 1183.5 166.5 1183.9 160.7 1184.2 163.3 1184.5 171.6 1184.9 174.1 1185.2 169.3 1185.6 166.5 1185.9 169.0 1186.2 168.2 1186.6 166.0 1186.9 164.2 1187.3 166.6 1187.6 163.0 1187.9 172.2 1188.3 165.8 1188.6 166.0 1188.9 172.6 1189.3 163.2 1189.6 173.1 1190.0 172.6 1190.3 158.5 1190.6 163.3 1191.0 166.4 1191.3 163.1 1191.7 163.9 1192.0 171.7 1192.3 166.2 1192.7 163.1 1193.0 168.5 1193.3 167.8 1193.7 169.7 1194.0 165.6 1194.4 170.1 1194.7 170.2 1195.0 172.4 1195.4 171.5 1195.7 167.6 1196.0 166.7 1196.4 169.7 1196.7 172.0 1197.1 167.3 1197.4 167.3 1197.7 164.1 1198.1 170.3 1198.4 170.0 1198.8 166.9 1199.1 163.4 1199.4 168.9 1199.8 169.0 1200.1 172.0 1200.4 170.1 1200.8 165.6 1201.1 166.0 1201.5 165.1 1201.8 174.6 1202.1 166.1 1202.5 172.2 1202.8 167.0 1203.2 177.3 1203.5 169.5 1203.8 172.2 1204.2 164.8 1204.5 168.8 1204.8 164.8 1205.2 170.8 1205.5 162.6 1205.9 170.9 1206.2 162.9 1206.5 171.1 1206.9 172.9 1207.2 166.4 1207.5 170.9 1207.9 169.8 1208.2 174.3 1208.6 170.9 1208.9 169.3 1209.2 172.2 1209.6 168.4 1209.9 177.7 1210.3 166.7 1210.6 171.3 1210.9 164.8 1211.3 171.1 1211.6 172.2 1211.9 171.5 1212.3 169.1 1212.6 168.0 1213.0 171.7 1213.3 172.9 1213.6 168.6 1214.0 167.3 1214.3 176.2 1214.7 173.9 1215.0 172.6 1215.3 164.4 1215.7 166.0 1216.0 167.6 1216.3 168.7 1216.7 174.3 1217.0 166.5 1217.4 172.0 1217.7 173.3 1218.0 163.8 1218.4 175.6 1218.7 165.8 1219.0 169.9 1219.4 173.8 1219.7 170.0 1220.1 173.6 1220.4 170.1 1220.7 173.0 1221.1 174.9 1221.4 161.6 1221.8 172.6 1222.1 167.4 1222.4 171.1 1222.8 168.6 1223.1 175.3 1223.4 174.6 1223.8 182.4 1224.1 167.5 1224.5 169.5 1224.8 175.2 1225.1 168.2 1225.5 169.1 1225.8 161.0 1226.2 170.4 1226.5 168.0 1226.8 169.1 1227.2 168.6 1227.5 171.4 1227.8 172.7 1228.2 168.9 1228.5 167.1 1228.9 175.4 1229.2 175.4 1229.5 171.6 1229.9 165.2 1230.2 172.2 1230.5 177.4 1230.9 168.7 1231.2 168.9 1231.6 164.8 1231.9 170.9 1232.2 164.8 1232.6 174.2 1232.9 168.5 1233.3 171.2 1233.6 175.9 1233.9 172.7 1234.3 167.1 1234.6 167.9 1234.9 173.1 1235.3 168.0 1235.6 168.7 1236.0 168.8 1236.3 170.9 1236.6 170.9 1237.0 174.8 1237.3 172.2 1237.7 171.6 1238.0 174.6 1238.3 173.0 1238.7 171.5 1239.0 171.3 1239.3 168.4 1239.7 175.7 1240.0 173.5 1240.4 171.2 1240.7 173.5 1241.0 171.1 1241.4 173.9 1241.7 168.2 1242.0 173.1 1242.4 176.2 1242.7 169.7 1243.1 166.6 1243.4 179.1 1243.7 172.8 1244.1 172.2 1244.4 168.8 1244.8 167.2 1245.1 173.0 1245.4 177.9 1245.8 170.2 1246.1 169.0 1246.4 170.9 1246.8 172.3 1247.1 175.4 1247.5 164.1 1247.8 176.8 1248.1 177.9 1248.5 169.3 1248.8 171.7 1249.2 170.4 1249.5 171.5 1249.8 166.9 1250.2 167.8 1250.5 174.7 1250.8 169.3 1251.2 176.9 1251.5 178.8 1251.9 168.7 1252.2 174.4 1252.5 180.3 1252.9 173.0 1253.2 175.2 1253.6 171.2 1253.9 173.2 1254.2 175.6 1254.6 175.5 1254.9 170.4 1255.2 176.3 1255.6 172.6 1255.9 176.5 1256.3 171.5 1256.6 166.9 1256.9 171.1 1257.3 169.3 1257.6 171.6 1257.9 176.5 1258.3 174.2 1258.6 173.0 1259.0 171.7 1259.3 175.3 1259.6 171.1 1260.0 175.8 1260.3 173.1 1260.7 173.3 1261.0 177.3 1261.3 169.9 1261.7 173.2 1262.0 173.0 1262.3 173.5 1262.7 180.7 1263.0 178.3 1263.4 176.5 1263.7 170.0 1264.0 175.5 1264.4 171.4 1264.7 177.1 1265.1 176.4 1265.4 175.2 1265.7 169.9 1266.1 179.3 1266.4 174.2 1266.7 172.2 1267.1 173.1 1267.4 173.7 1267.8 170.9 1268.1 172.7 1268.4 177.2 1268.8 171.5 1269.1 176.4 1269.4 174.9 1269.8 168.7 1270.1 165.3 1270.5 168.7 1270.8 172.3 1271.1 176.5 1271.5 176.4 1271.8 168.0 1272.2 172.7 1272.5 178.6 1272.8 168.4 1273.2 171.9 1273.5 169.3 1273.8 172.5 1274.2 181.4 1274.5 176.5 1274.9 174.4 1275.2 174.5 1275.5 168.7 1275.9 176.3 1276.2 174.3 1276.6 174.2 1276.9 174.3 1277.2 177.6 1277.6 178.3 1277.9 183.0 1278.2 172.9 1278.6 174.8 1278.9 173.4 1279.3 177.8 1279.6 174.1 1279.9 177.5 1280.3 177.7 1280.6 173.0 1280.9 172.0 1281.3 172.2 1281.6 174.4 1282.0 175.6 1282.3 169.4 1282.6 169.9 1283.0 176.5 1283.3 178.0 1283.7 173.0 1284.0 173.2 1284.3 177.5 1284.7 166.4 1285.0 181.6 1285.3 177.2 1285.7 173.5 1286.0 170.9 1286.4 180.8 1286.7 175.9 1287.0 169.4 1287.4 169.5 1287.7 175.3 1288.1 174.3 1288.4 177.5 1288.7 173.1 1289.1 178.1 1289.4 181.5 1289.7 179.8 1290.1 174.3 1290.4 179.1 1290.8 170.7 1291.1 170.1 1291.4 171.1 1291.8 172.3 1292.1 170.7 1292.4 173.7 1292.8 171.6 1293.1 173.0 1293.5 171.9 1293.8 178.1 1294.1 176.9 1294.5 178.1 1294.8 171.8 1295.2 172.9 1295.5 177.4 1295.8 178.1 1296.2 176.7 1296.5 171.7 1296.8 175.1 1297.2 175.6 1297.5 177.1 1297.9 175.2 1298.2 169.2 1298.5 177.2 1298.9 176.0 1299.2 168.9 1299.6 172.3 1299.9 178.8 1300.2 171.1 1300.6 179.2 1300.9 172.9 1301.2 183.6 1301.6 178.3 1301.9 171.7 1302.3 176.9 1302.6 177.4 1302.9 174.7 1303.3 174.9 1303.6 176.5 1303.9 177.3 1304.3 168.7 1304.6 169.8 1305.0 173.8 1305.3 178.9 1305.6 176.8 1306.0 176.0 1306.3 173.3 1306.7 169.5 1307.0 176.8 1307.3 174.5 1307.7 176.5 1308.0 174.6 1308.3 177.4 1308.7 173.7 1309.0 171.1 1309.4 176.4 1309.7 176.2 1310.0 174.7 1310.4 179.6 1310.7 168.8 1311.1 179.7 1311.4 176.4 1311.7 178.2 1312.1 170.0 1312.4 176.8 1312.7 176.9 1313.1 168.6 1313.4 175.6 1313.8 177.9 1314.1 175.2 1314.4 174.5 1314.8 177.8 1315.1 175.9 1315.4 176.0 1315.8 172.7 1316.1 172.6 1316.5 172.4 1316.8 175.7 1317.1 172.5 1317.5 176.0 1317.8 171.3 1318.2 173.9 1318.5 176.8 1318.8 171.0 1319.2 180.5 1319.5 178.7 1319.8 178.1 1320.2 175.8 1320.5 179.6 1320.9 179.5 1321.2 181.9 1321.5 175.0 1321.9 178.0 1322.2 167.8 1322.6 172.7 1322.9 179.3 1323.2 170.8 1323.6 175.0 1323.9 171.7 1324.2 179.3 1324.6 171.4 1324.9 171.6 1325.3 176.9 1325.6 178.4 1325.9 176.8 1326.3 174.6 1326.6 167.2 1327.0 169.2 1327.3 170.3 1327.6 176.3 1328.0 176.6 1328.3 174.2 1328.6 176.5 1329.0 177.1 1329.3 176.2 1329.7 172.6 1330.0 175.8 1330.3 174.7 1330.7 176.5 1331.0 176.2 1331.3 176.7 1331.7 171.2 1332.0 174.8 1332.4 170.4 1332.7 176.2 1333.0 171.9 1333.4 180.4 1333.7 177.0 1334.1 175.8 1334.4 177.8 1334.7 176.0 1335.1 178.8 1335.4 176.2 1335.7 178.0 1336.1 175.7 1336.4 176.7 1336.8 179.1 1337.1 177.1 1337.4 175.6 1337.8 180.1 1338.1 175.4 1338.5 171.4 1338.8 176.5 1339.1 173.8 1339.5 173.6 1339.8 178.5 1340.1 171.2 1340.5 167.1 1340.8 179.3 1341.2 168.3 1341.5 178.2 1341.8 170.7 1342.2 182.0 1342.5 171.9 1342.8 175.3 1343.2 180.2 1343.5 178.6 1343.9 179.4 1344.2 178.9 1344.5 174.5 1344.9 176.4 1345.2 184.5 1345.6 176.9 1345.9 174.2 1346.2 175.5 1346.6 170.0 1346.9 182.2 1347.2 175.0 1347.6 175.8 1347.9 173.4 1348.3 180.5 1348.6 180.4 1348.9 176.5 1349.3 175.6 1349.6 182.1 1350.0 174.6 1350.3 175.9 1350.6 173.4 1351.0 184.9 1351.3 174.2 1351.6 179.0 1352.0 177.6 1352.3 173.2 1352.7 170.1 1353.0 175.4 1353.3 176.3 1353.7 171.4 1354.0 179.0 1354.3 176.5 1354.7 177.7 1355.0 179.4 1355.4 175.3 1355.7 168.9 1356.0 175.1 1356.4 174.3 1356.7 176.1 1357.1 172.1 1357.4 175.4 1357.7 179.1 1358.1 175.7 1358.4 171.1 1358.7 176.3 1359.1 171.9 1359.4 176.3 1359.8 169.0 1360.1 175.1 1360.4 173.8 1360.8 177.1 1361.1 173.2 1361.5 176.8 1361.8 181.2 1362.1 175.0 1362.5 180.2 1362.8 171.0 1363.1 173.3 1363.5 176.0 1363.8 173.7 1364.2 185.0" fill="none" stroke="none" marker-start="url(#bm)" marker-mid="url(#bm)" marker-end="url(#bm)"/>
<path d="M1087.5 38.3 L1088.1 40.0 L1088.7 41.7 L1089.3 43.4 L1090.0 45.0 L1090.6 46.6 L1091.2 48.2 L1091.8 49.8 L1092.4 51.3 L1093.0 52.9 L1093.7 54.3 L1094.3 55.8 L1094.9 57.3 L1095.5 58.7 L1096.1 60.1 L1096.7 61.5 L1097.3 62.8 L1098.0 64.2 L1098.6 65.5 L1099.2 66.8 L1099.8 68.0 L1100.4 69.3 L1101.0 70.5 L1101.6 71.7 L1102.3 72.9 L1102.9 74.1 L1103.5 75.3 L1104.1 76.4 L1104.7 77.5 L1105.3 78.6 L1106.0 79.7 L1106.6 80.8 L1107.2 81.9 L1107.8 82.9 L1108.4 83.9 L1109.0 84.9 L1109.6 85.9 L1110.3 86.9 L1110.9 87.9 L1111.5 88.8 L1112.1 89.7 L1112.7 90.7 L1113.3 91.6 L1113.9 92.5 L1114.6 93.3 L1115.2 94.2 L1115.8 95.0 L1116.4 95.9 L1117.0 96.7 L1117.6 97.5 L1118.2 98.3 L1118.9 99.1 L1119.5 99.9 L1120.1 100.7 L1120.7 101.4 L1121.3 102.2 L1121.9 102.9 L1122.6 103.6 L1123.2 104.3 L1123.8 105.0 L1124.4 105.7 L1125.0 106.4 L1125.6 107.1 L1126.2 107.7 L1126.9 108.4 L1127.5 109.0 L1128.1 109.7 L1128.7 110.3 L1129.3 110.9 L1129.9 111.5 L1130.5 112.1 L1131.2 112.7 L1131.8 113.3 L1132.4 113.8 L1133.0 114.4 L1133.6 114.9 L1134.2 115.5 L1134.9 116.0 L1135.5 116.6 L1136.1 117.1 L1136.7 117.6 L1137.3 118.1 L1137.9 118.6 L1138.5 119.1 L1139.2 119.6 L1139.8 120.1 L1140.4 120.6 L1141.0 121.0 L1141.6 121.5 L1142.2 122.0 L1142.8 122.4 L1143.5 122.8 L1144.1 123.3 L1144.7 123.7 L1145.3 124.1 L1145.9 124.6 L1146.5 125.0 L1147.2 125.4 L1147.8 125.8 L1148.4 126.2 L1149.0 126.6 L1149.6 127.0 L1150.2 127.4 L1150.8 127.7 L1151.5 128.1 L1152.1 128.5 L1152.7 128.8 L1153.3 129.2 L1153.9 129.5 L1154.5 129.9 L1155.2 130.2 L1155.8 130.6 L1156.4 130.9 L1157.0 131.2 L1157.6 131.6 L1158.2 131.9 L1158.8 132.2 L1159.5 132.5 L1160.1 132.8 L1160.7 133.1 L1161.3 133.5 L1161.9 133.8 L1162.5 134.0 L1163.1 134.3 L1163.8 134.6 L1164.4 134.9 L1165.0 135.2 L1165.6 135.5 L1166.2 135.7 L1166.8 136.0 L1167.5 136.3 L1168.1 136.5 L1168.7 136.8 L1169.3 137.1 L1169.9 137.3 L1170.5 137.6 L1171.1 137.8 L1171.8 138.1 L1172.4 138.3 L1173.0 138.6 L1173.6 138.8 L1174.2 139.0 L1174.8 139.3 L1175.4 139.5 L1176.1 139.7 L1176.7 139.9 L1177.3 140.2 L1177.9 140.4 L1178.5 140.6 L1179.1 140.8 L1179.8 141.0 L1180.4 141.2 L1181.0 141.4 L1181.6 141.6 L1182.2 141.8 L1182.8 142.0 L1183.4 142.2 L1184.1 142.4 L1184.7 142.6 L1185.3 142.8 L1185.9 143.0 L1186.5 143.2 L1187.1 143.4 L1187.7 143.6 L1188.4 143.7 L1189.0 143.9 L1189.6 144.1 L1190.2 144.3 L1190.8 144.4 L1191.4 144.6 L1192.0 144.8 L1192.7 144.9 L1193.3 145.1 L1193.9 145.3 L1194.5 145.4 L1195.1 145.6 L1195.7 145.8 L1196.4 145.9 L1197.0 146.1 L1197.6 146.2 L1198.2 146.4 L1198.8 146.5 L1199.4 146.7 L1200.0 146.8 L1200.7 147.0 L1201.3 147.1 L1201.9 147.3 L1202.5 147.4 L1203.1 147.5 L1203.7 147.7 L1204.3 147.8 L1205.0 148.0 L1205.6 148.1 L1206.2 148.2 L1206.8 148.4 L1207.4 148.5 L1208.0 148.6 L1208.7 148.7 L1209.3 148.9 L1209.9 149.0 L1210.5 149.1 L1211.1 149.2 L1211.7 149.4 L1212.3 149.5 L1213.0 149.6 L1213.6 149.7 L1214.2 149.8 L1214.8 150.0 L1215.4 150.1 L1216.0 150.2 L1216.7 150.3 L1217.3 150.4 L1217.9 150.5 L1218.5 150.6 L1219.1 150.7 L1219.7 150.9 L1220.3 151.0 L1221.0 151.1 L1221.6 151.2 L1222.2 151.3 L1222.8 151.4 L1223.4 151.5 L1224.0 151.6 L1224.6 151.7 L1225.3 151.8 L1225.9 151.9 L1226.5 152.0 L1227.1 152.1 L1227.7 152.2 L1228.3 152.3 L1229.0 152.4 L1229.6 152.5 L1230.2 152.6 L1230.8 152.6 L1231.4 152.7 L1232.0 152.8 L1232.6 152.9 L1233.3 153.0 L1233.9 153.1 L1234.5 153.2 L1235.1 153.3 L1235.7 153.4 L1236.3 153.4 L1236.9 153.5 L1237.6 153.6 L1238.2 153.7 L1238.8 153.8 L1239.4 153.9 L1240.0 153.9 L1240.6 154.0 L1241.2 154.1 L1241.9 154.2 L1242.5 154.3 L1243.1 154.3 L1243.7 154.4 L1244.3 154.5 L1244.9 154.6 L1245.6 154.6 L1246.2 154.7 L1246.8 154.8 L1247.4 154.9 L1248.0 154.9 L1248.6 155.0 L1249.2 155.1 L1249.9 155.2 L1250.5 155.2 L1251.1 155.3 L1251.7 155.4 L1252.3 155.4 L1252.9 155.5 L1253.5 155.6 L1254.2 155.6 L1254.8 155.7 L1255.4 155.8 L1256.0 155.8 L1256.6 155.9 L1257.2 156.0 L1257.9 156.0 L1258.5 156.1 L1259.1 156.2 L1259.7 156.2 L1260.3 156.3 L1260.9 156.4 L1261.5 156.4 L1262.2 156.5 L1262.8 156.5 L1263.4 156.6 L1264.0 156.7 L1264.6 156.7 L1265.2 156.8 L1265.8 156.8 L1266.5 156.9 L1267.1 157.0 L1267.7 157.0 L1268.3 157.1 L1268.9 157.1 L1269.5 157.2 L1270.2 157.2 L1270.8 157.3 L1271.4 157.4 L1272.0 157.4 L1272.6 157.5 L1273.2 157.5 L1273.8 157.6 L1274.5 157.6 L1275.1 157.7 L1275.7 157.7 L1276.3 157.8 L1276.9 157.8 L1277.5 157.9 L1278.2 157.9 L1278.8 158.0 L1279.4 158.0 L1280.0 158.1 L1280.6 158.1 L1281.2 158.2 L1281.8 158.2 L1282.5 158.3 L1283.1 158.3 L1283.7 158.4 L1284.3 158.4 L1284.9 158.5 L1285.5 158.5 L1286.1 158.6 L1286.8 158.6 L1287.4 158.7 L1288.0 158.7 L1288.6 158.7 L1289.2 158.8 L1289.8 158.8 L1290.5 158.9 L1291.1 158.9 L1291.7 159.0 L1292.3 159.0 L1292.9 159.1 L1293.5 159.1 L1294.1 159.1 L1294.8 159.2 L1295.4 159.2 L1296.0 159.3 L1296.6 159.3 L1297.2 159.3 L1297.8 159.4 L1298.4 159.4 L1299.1 159.5 L1299.7 159.5 L1300.3 159.5 L1300.9 159.6 L1301.5 159.6 L1302.1 159.7 L1302.8 159.7 L1303.4 159.7 L1304.0 159.8 L1304.6 159.8 L1305.2 159.9 L1305.8 159.9 L1306.4 159.9 L1307.1 160.0 L1307.7 160.0 L1308.3 160.0 L1308.9 160.1 L1309.5 160.1 L1310.1 160.2 L1310.7 160.2 L1311.4 160.2 L1312.0 160.3 L1312.6 160.3 L1313.2 160.3 L1313.8 160.4 L1314.4 160.4 L1315.0 160.4 L1315.7 160.5 L1316.3 160.5 L1316.9 160.5 L1317.5 160.6 L1318.1 160.6 L1318.7 160.6 L1319.4 160.7 L1320.0 160.7 L1320.6 160.7 L1321.2 160.8 L1321.8 160.8 L1322.4 160.8 L1323.0 160.9 L1323.7 160.9 L1324.3 160.9 L1324.9 161.0 L1325.5 161.0 L1326.1 161.0 L1326.7 161.0 L1327.3 161.1 L1328.0 161.1 L1328.6 161.1 L1329.2 161.2 L1329.8 161.2 L1330.4 161.2 L1331.0 161.2 L1331.7 161.3 L1332.3 161.3 L1332.9 161.3 L1333.5 161.4 L1334.1 161.4 L1334.7 161.4 L1335.3 161.4 L1336.0 161.5 L1336.6 161.5 L1337.2 161.5 L1337.8 161.6 L1338.4 161.6 L1339.0 161.6 L1339.7 161.6 L1340.3 161.7 L1340.9 161.7 L1341.5 161.7 L1342.1 161.7 L1342.7 161.8 L1343.3 161.8 L1344.0 161.8 L1344.6 161.8 L1345.2 161.9 L1345.8 161.9 L1346.4 161.9 L1347.0 161.9 L1347.6 162.0 L1348.3 162.0 L1348.9 162.0 L1349.5 162.0 L1350.1 162.1 L1350.7 162.1 L1351.3 162.1 L1352.0 162.1 L1352.6 162.2 L1353.2 162.2 L1353.8 162.2 L1354.4 162.2 L1355.0 162.3 L1355.6 162.3 L1356.3 162.3 L1356.9 162.3 L1357.5 162.3 L1358.1 162.4 L1358.7 162.4 L1359.3 162.4 L1359.9 162.4 L1360.6 162.5 L1361.2 162.5 L1361.8 162.5 L1362.4 162.5 L1363.0 162.5 L1363.6 162.6 L1364.2 162.6" fill="none" stroke="#008000" stroke-width="1.6"/>
<path d="M1087.8 33.8 1088.2 42.4 1088.5 38.8 1088.9 33.3 1089.3 48.7 1089.7 45.6 1090.0 44.0 1090.4 44.7 1090.8 52.9 1091.1 51.3 1091.5 43.8 1091.9 52.0 1092.2 48.9 1092.6 56.5 1093.0 55.8 1093.3 59.9 1093.7 53.5 1094.1 51.4 1094.4 55.9 1094.8 58.0 1095.2 57.1 1095.6 57.2 1095.9 60.6 1096.3 58.6 1096.7 54.6 1097.0 54.4 1097.4 64.9 1097.8 68.1 1098.1 57.9 1098.5 61.9 1098.9 61.9 1099.2 64.8 1099.6 68.4 1100.0 65.0 1100.4 65.3 1100.7 65.8 1101.1 74.4 1101.5 67.8 1101.8 73.3 1102.2 74.0 1102.6 72.3 1102.9 75.4 1103.3 66.9 1103.7 73.6 1104.0 75.4 1104.4 77.6 1104.8 76.8 1105.2 79.1 1105.5 76.9 1105.9 76.6 1106.3 77.3 1106.6 85.2 1107.0 82.7 1107.4 81.9 1107.7 87.0 1108.1 82.1 1108.5 84.5 1108.8 84.4 1109.2 83.9 1109.6 87.9 1109.9 81.0 1110.3 83.4 1110.7 89.4 1111.1 86.5 1111.4 86.1 1111.8 91.9 1112.2 91.0 1112.5 87.9 1112.9 99.8 1113.3 96.0 1113.6 90.8 1114.0 90.4 1114.4 96.2 1114.7 90.6 1115.1 86.4 1115.5 93.9 1115.9 95.2 1116.2 95.4 1116.6 99.6 1117.0 94.7 1117.3 96.5 1117.7 95.0 1118.1 93.1 1118.4 98.4 1118.8 98.4 1119.2 98.3 1119.5 93.9 1119.9 105.4 1120.3 100.9 1120.6 103.5 1121.0 101.3 1121.4 99.3 1121.8 102.4 1122.1 100.5 1122.5 102.9 1122.9 106.4 1123.2 106.6 1123.6 109.5 1124.0 104.4 1124.3 107.0 1124.7 103.1 1125.1 103.1 1125.4 109.9 1125.8 111.0 1126.2 105.5 1126.6 111.0 1126.9 107.7 1127.3 106.7 1127.7 110.5 1128.0 103.4 1128.4 112.6 1128.8 108.8 1129.1 112.1 1129.5 121.0 1129.9 112.0 1130.2 112.3 1130.6 110.1 1131.0 112.9 1131.3 115.3 1131.7 114.9 1132.1 114.6 1132.5 111.2 1132.8 115.1 1133.2 110.3 1133.6 111.9 1133.9 117.7 1134.3 111.9 1134.7 123.6 1135.0 116.1 1135.4 119.9 1135.8 117.1 1136.1 113.1 1136.5 117.4 1136.9 118.3 1137.3 113.6 1137.6 121.0 1138.0 121.5 1138.4 115.6 1138.7 117.1 1139.1 124.4 1139.5 119.3 1139.8 117.4 1140.2 120.9 1140.6 122.1 1140.9 120.5 1141.3 120.5 1141.7 123.9 1142.1 118.9 1142.4 127.5 1142.8 122.6 1143.2 115.2 1143.5 126.5 1143.9 123.2 1144.3 131.2 1144.6 126.5 1145.0 127.9 1145.4 123.9 1145.7 126.1 1146.1 118.3 1146.5 128.1 1146.8 125.2 1147.2 124.6 1147.6 123.4 1148.0 122.8 1148.3 131.5 1148.7 118.8 1149.1 127.6 1149.4 129.3 1149.8 132.7 1150.2 128.8 1150.5 133.6 1150.9 127.1 1151.3 130.0 1151.6 127.1 1152.0 131.1 1152.4 128.4 1152.8 121.2 1153.1 125.0 1153.5 128.7 1153.9 132.9 1154.2 124.7 1154.6 135.7 1155.0 135.0 1155.3 125.8 1155.7 132.6 1156.1 126.1 1156.4 128.9 1156.8 123.6 1157.2 125.2 1157.5 129.5 1157.9 133.9 1158.3 129.9 1158.7 127.3 1159.0 131.8 1159.4 142.4 1159.8 134.0 1160.1 134.1 1160.5 133.2 1160.9 134.4 1161.2 129.5 1161.6 137.9 1162.0 132.2 1162.3 140.8 1162.7 141.6 1163.1 137.8 1163.5 137.0 1163.8 137.7 1164.2 137.2 1164.6 132.9 1164.9 133.2 1165.3 135.0 1165.7 134.8 1166.0 138.0 1166.4 139.2 1166.8 140.9 1167.1 137.6 1167.5 140.2 1167.9 137.6 1168.2 134.1 1168.6 134.9 1169.0 132.4 1169.4 140.3 1169.7 144.8 1170.1 141.2 1170.5 130.7 1170.8 135.3 1171.2 139.3 1171.6 133.4 1171.9 139.6 1172.3 132.5 1172.7 139.8 1173.0 140.0 1173.4 136.3 1173.8 142.8 1174.2 139.6 1174.5 132.5 1174.9 137.8 1175.3 143.2 1175.6 140.4 1176.0 139.8 1176.4 142.4 1176.7 138.5 1177.1 135.8 1177.5 140.1 1177.8 137.3 1178.2 139.5 1178.6 140.1 1179.0 143.3 1179.3 137.6 1179.7 136.3 1180.1 142.7 1180.4 144.3 1180.8 139.6 1181.2 141.1 1181.5 137.7 1181.9 140.0 1182.3 142.3 1182.6 146.7 1183.0 140.0 1183.4 141.9 1183.7 146.7 1184.1 147.6 1184.5 148.8 1184.9 140.5 1185.2 144.3 1185.6 154.3 1186.0 146.0 1186.3 145.3 1186.7 143.6 1187.1 143.2 1187.4 144.6 1187.8 141.0 1188.2 140.2 1188.5 144.6 1188.9 138.5 1189.3 144.4 1189.7 147.1 1190.0 143.7 1190.4 149.2 1190.8 145.5 1191.1 148.2 1191.5 146.1 1191.9 144.1 1192.2 153.3 1192.6 143.6 1193.0 144.1 1193.3 145.9 1193.7 142.8 1194.1 144.1 1194.4 146.7 1194.8 149.0 1195.2 143.1 1195.6 143.1 1195.9 150.9 1196.3 148.4 1196.7 150.1 1197.0 143.2 1197.4 148.2 1197.8 150.6 1198.1 141.2 1198.5 144.9 1198.9 145.7 1199.2 145.8 1199.6 147.3 1200.0 146.7 1200.4 143.8 1200.7 145.5 1201.1 148.7 1201.5 146.8 1201.8 140.8 1202.2 149.2 1202.6 152.0 1202.9 147.1 1203.3 151.5 1203.7 138.6 1204.0 145.6 1204.4 145.8 1204.8 146.7 1205.1 141.2 1205.5 151.6 1205.9 148.3 1206.3 154.0 1206.6 144.1 1207.0 148.7 1207.4 142.4 1207.7 149.5 1208.1 152.2 1208.5 151.1 1208.8 146.0 1209.2 151.7 1209.6 148.1 1209.9 151.5 1210.3 151.6 1210.7 151.1 1211.1 143.7 1211.4 153.0 1211.8 148.3 1212.2 146.7 1212.5 152.1 1212.9 154.8 1213.3 144.5 1213.6 143.8 1214.0 150.7 1214.4 154.0 1214.7 147.0 1215.1 150.2 1215.5 153.0 1215.9 151.5 1216.2 158.5 1216.6 153.1 1217.0 154.6 1217.3 155.0 1217.7 148.5 1218.1 149.7 1218.4 144.8 1218.8 160.0 1219.2 153.1 1219.5 153.8 1219.9 146.3 1220.3 147.4 1220.6 150.6 1221.0 150.8 1221.4 153.8 1221.8 153.0 1222.1 152.9 1222.5 160.1 1222.9 144.9 1223.2 149.0 1223.6 144.4 1224.0 147.4 1224.3 150.0 1224.7 148.9 1225.1 157.7 1225.4 155.4 1225.8 149.0 1226.2 153.3 1226.6 157.6 1226.9 152.1 1227.3 156.6 1227.7 152.2 1228.0 146.9 1228.4 156.3 1228.8 154.0 1229.1 150.5 1229.5 152.6 1229.9 151.9 1230.2 155.5 1230.6 153.9 1231.0 161.0 1231.3 153.4 1231.7 148.4 1232.1 156.8 1232.5 153.6 1232.8 150.6 1233.2 148.8 1233.6 149.1 1233.9 156.2 1234.3 154.7 1234.7 147.2 1235.0 154.9 1235.4 152.4 1235.8 156.4 1236.1 155.8 1236.5 163.8 1236.9 155.5 1237.3 161.3 1237.6 157.2 1238.0 157.2 1238.4 149.1 1238.7 151.2 1239.1 152.5 1239.5 155.7 1239.8 158.8 1240.2 152.4 1240.6 157.0 1240.9 154.5 1241.3 150.9 1241.7 154.9 1242.0 154.4 1242.4 157.8 1242.8 150.7 1243.2 152.6 1243.5 152.0 1243.9 148.9 1244.3 160.2 1244.6 154.5 1245.0 152.4 1245.4 153.6 1245.7 153.7 1246.1 153.2 1246.5 160.2 1246.8 155.2 1247.2 150.9 1247.6 155.2 1248.0 155.7 1248.3 152.1 1248.7 161.2 1249.1 153.8 1249.4 149.9 1249.8 156.1 1250.2 158.1 1250.5 153.5 1250.9 156.9 1251.3 158.3 1251.6 154.9 1252.0 161.3 1252.4 153.2 1252.8 159.7 1253.1 157.5 1253.5 153.1 1253.9 155.8 1254.2 154.8 1254.6 151.0 1255.0 150.5 1255.3 148.6 1255.7 157.8 1256.1 152.7 1256.4 161.7 1256.8 153.2 1257.2 151.5 1257.5 158.6 1257.9 154.5 1258.3 153.3 1258.7 156.8 1259.0 158.5 1259.4 151.0 1259.8 160.9 1260.1 155.8 1260.5 153.1 1260.9 155.6 1261.2 151.0 1261.6 151.4 1262.0 154.9 1262.3 150.4 1262.7 154.0 1263.1 160.9 1263.5 157.8 1263.8 155.8 1264.2 156.1 1264.6 162.7 1264.9 148.8 1265.3 162.3 1265.7 160.8 1266.0 155.4 1266.4 156.3 1266.8 151.7 1267.1 156.3 1267.5 155.8 1267.9 154.6 1268.2 159.7 1268.6 161.7 1269.0 158.8 1269.4 153.7 1269.7 158.3 1270.1 153.0 1270.5 159.3 1270.8 154.7 1271.2 157.3 1271.6 154.5 1271.9 157.4 1272.3 156.8 1272.7 159.2 1273.0 153.2 1273.4 157.7 1273.8 155.9 1274.2 155.4 1274.5 160.8 1274.9 160.6 1275.3 157.9 1275.6 153.4 1276.0 161.5 1276.4 161.4 1276.7 161.3 1277.1 159.3 1277.5 161.7 1277.8 160.8 1278.2 156.2 1278.6 161.8 1278.9 158.1 1279.3 162.2 1279.7 158.8 1280.1 156.3 1280.4 165.2 1280.8 158.0 1281.2 157.5 1281.5 158.5 1281.9 157.4 1282.3 156.9 1282.6 162.9 1283.0 158.8 1283.4 156.2 1283.7 154.0 1284.1 163.2 1284.5 160.6 1284.9 163.3 1285.2 158.6 1285.6 162.3 1286.0 162.0 1286.3 156.0 1286.7 150.9 1287.1 165.9 1287.4 153.0 1287.8 161.9 1288.2 156.4 1288.5 157.6 1288.9 154.5 1289.3 159.6 1289.7 161.8 1290.0 159.1 1290.4 156.2 1290.8 162.1 1291.1 157.6 1291.5 159.0 1291.9 158.4 1292.2 159.0 1292.6 157.0 1293.0 156.3 1293.3 160.1 1293.7 160.4 1294.1 166.6 1294.4 162.3 1294.8 164.5 1295.2 156.9 1295.6 163.0 1295.9 161.7 1296.3 157.5 1296.7 155.9 1297.0 155.2 1297.4 162.4 1297.8 158.6 1298.1 155.8 1298.5 162.4 1298.9 160.3 1299.2 163.8 1299.6 161.8 1300.0 157.1 1300.4 159.3 1300.7 160.9 1301.1 161.6 1301.5 154.4 1301.8 157.1 1302.2 164.0 1302.6 152.2 1302.9 161.2 1303.3 160.3 1303.7 161.5 1304.0 161.8 1304.4 157.6 1304.8 164.9 1305.1 159.8 1305.5 161.1 1305.9 153.9 1306.3 158.6 1306.6 158.5 1307.0 158.2 1307.4 158.0 1307.7 159.6 1308.1 168.6 1308.5 158.6 1308.8 161.2 1309.2 157.7 1309.6 159.1 1309.9 162.1 1310.3 163.3 1310.7 163.7 1311.1 159.3 1311.4 160.6 1311.8 163.4 1312.2 161.6 1312.5 159.1 1312.9 162.7 1313.3 160.8 1313.6 162.5 1314.0 169.4 1314.4 160.1 1314.7 160.2 1315.1 157.7 1315.5 156.0 1315.8 163.0 1316.2 158.5 1316.6 159.6 1317.0 160.3 1317.3 157.7 1317.7 157.6 1318.1 165.0 1318.4 155.6 1318.8 161.3 1319.2 163.0 1319.5 163.1 1319.9 161.5 1320.3 164.6 1320.6 157.0 1321.0 159.3 1321.4 163.9 1321.8 158.0 1322.1 160.0 1322.5 160.6 1322.9 157.6 1323.2 161.2 1323.6 161.8 1324.0 159.2 1324.3 167.3 1324.7 165.1 1325.1 159.2 1325.4 157.3 1325.8 166.8 1326.2 161.0 1326.6 163.4 1326.9 162.1 1327.3 159.0 1327.7 156.0 1328.0 155.1 1328.4 157.9 1328.8 159.0 1329.1 160.7 1329.5 167.7 1329.9 159.9 1330.2 165.4 1330.6 165.1 1331.0 160.9 1331.3 166.7 1331.7 155.2 1332.1 159.3 1332.5 160.1 1332.8 159.7 1333.2 160.5 1333.6 161.2 1333.9 159.0 1334.3 163.7 1334.7 160.5 1335.0 160.9 1335.4 158.8 1335.8 165.3 1336.1 160.7 1336.5 162.0 1336.9 159.4 1337.3 159.7 1337.6 160.9 1338.0 160.0 1338.4 160.1 1338.7 156.9 1339.1 160.6 1339.5 159.8 1339.8 164.9 1340.2 162.4 1340.6 159.1 1340.9 158.1 1341.3 165.1 1341.7 161.9 1342.0 162.7 1342.4 161.6 1342.8 163.5 1343.2 163.3 1343.5 162.0 1343.9 161.4 1344.3 158.4 1344.6 164.8 1345.0 165.2 1345.4 159.2 1345.7 160.2 1346.1 162.6 1346.5 165.9 1346.8 158.3 1347.2 165.7 1347.6 158.1 1348.0 161.2 1348.3 162.5 1348.7 162.6 1349.1 159.2 1349.4 162.0 1349.8 168.1 1350.2 164.5 1350.5 169.5 1350.9 160.7 1351.3 159.0 1351.6 158.6 1352.0 166.8 1352.4 154.9 1352.7 155.9 1353.1 162.6 1353.5 169.1 1353.9 165.2 1354.2 158.7 1354.6 155.2 1355.0 164.1 1355.3 168.6 1355.7 165.6 1356.1 155.7 1356.4 162.3 1356.8 167.2 1357.2 169.6 1357.5 160.2 1357.9 159.6 1358.3 164.0 1358.7 163.1 1359.0 162.2 1359.4 163.6 1359.8 164.3 1360.1 164.4 1360.5 164.5 1360.9 158.3 1361.2 161.1 1361.6 159.0 1362.0 156.2 1362.3 170.4 1362.7 162.8 1363.1 159.3 1363.5 163.3 1363.8 164.7 1364.2 161.2" fill="none" stroke="none" marker-start="url(#bg)" marker-mid="url(#bg)" marker-end="url(#bg)"/>
<path d="M1087.5 180.2 L1088.1 180.4 L1088.7 180.6 L1089.3 180.8 L1090.0 181.1 L1090.6 181.3 L1091.2 181.5 L1091.8 181.7 L1092.4 181.9 L1093.0 182.1 L1093.7 182.3 L1094.3 182.5 L1094.9 182.6 L1095.5 182.8 L1096.1 183.0 L1096.7 183.2 L1097.3 183.4 L1098.0 183.6 L1098.6 183.8 L1099.2 184.0 L1099.8 184.1 L1100.4 184.3 L1101.0 184.5 L1101.6 184.7 L1102.3 184.9 L1102.9 185.0 L1103.5 185.2 L1104.1 185.4 L1104.7 185.5 L1105.3 185.7 L1106.0 185.9 L1106.6 186.0 L1107.2 186.2 L1107.8 186.4 L1108.4 186.5 L1109.0 186.7 L1109.6 186.9 L1110.3 187.0 L1110.9 187.2 L1111.5 187.3 L1112.1 187.5 L1112.7 187.6 L1113.3 187.8 L1113.9 187.9 L1114.6 188.1 L1115.2 188.2 L1115.8 188.4 L1116.4 188.5 L1117.0 188.7 L1117.6 188.8 L1118.2 189.0 L1118.9 189.1 L1119.5 189.2 L1120.1 189.4 L1120.7 189.5 L1121.3 189.7 L1121.9 189.8 L1122.6 189.9 L1123.2 190.1 L1123.8 190.2 L1124.4 190.3 L1125.0 190.5 L1125.6 190.6 L1126.2 190.7 L1126.9 190.8 L1127.5 191.0 L1128.1 191.1 L1128.7 191.2 L1129.3 191.3 L1129.9 191.5 L1130.5 191.6 L1131.2 191.7 L1131.8 191.8 L1132.4 192.0 L1133.0 192.1 L1133.6 192.2 L1134.2 192.3 L1134.9 192.4 L1135.5 192.5 L1136.1 192.6 L1136.7 192.8 L1137.3 192.9 L1137.9 193.0 L1138.5 193.1 L1139.2 193.2 L1139.8 193.3 L1140.4 193.4 L1141.0 193.5 L1141.6 193.6 L1142.2 193.7 L1142.8 193.8 L1143.5 193.9 L1144.1 194.0 L1144.7 194.1 L1145.3 194.2 L1145.9 194.3 L1146.5 194.4 L1147.2 194.5 L1147.8 194.6 L1148.4 194.7 L1149.0 194.8 L1149.6 194.9 L1150.2 195.0 L1150.8 195.1 L1151.5 195.2 L1152.1 195.3 L1152.7 195.4 L1153.3 195.5 L1153.9 195.6 L1154.5 195.7 L1155.2 195.7 L1155.8 195.8 L1156.4 195.9 L1157.0 196.0 L1157.6 196.1 L1158.2 196.2 L1158.8 196.3 L1159.5 196.3 L1160.1 196.4 L1160.7 196.5 L1161.3 196.6 L1161.9 196.7 L1162.5 196.7 L1163.1 196.8 L1163.8 196.9 L1164.4 197.0 L1165.0 197.1 L1165.6 197.1 L1166.2 197.2 L1166.8 197.3 L1167.5 197.4 L1168.1 197.4 L1168.7 197.5 L1169.3 197.6 L1169.9 197.7 L1170.5 197.7 L1171.1 197.8 L1171.8 197.9 L1172.4 197.9 L1173.0 198.0 L1173.6 198.1 L1174.2 198.2 L1174.8 198.2 L1175.4 198.3 L1176.1 198.4 L1176.7 198.4 L1177.3 198.5 L1177.9 198.6 L1178.5 198.6 L1179.1 198.7 L1179.8 198.8 L1180.4 198.8 L1181.0 198.9 L1181.6 198.9 L1182.2 199.0 L1182.8 199.1 L1183.4 199.1 L1184.1 199.2 L1184.7 199.2 L1185.3 199.3 L1185.9 199.4 L1186.5 199.4 L1187.1 199.5 L1187.7 199.5 L1188.4 199.6 L1189.0 199.7 L1189.6 199.7 L1190.2 199.8 L1190.8 199.8 L1191.4 199.9 L1192.0 199.9 L1192.7 200.0 L1193.3 200.0 L1193.9 200.1 L1194.5 200.1 L1195.1 200.2 L1195.7 200.3 L1196.4 200.3 L1197.0 200.4 L1197.6 200.4 L1198.2 200.5 L1198.8 200.5 L1199.4 200.6 L1200.0 200.6 L1200.7 200.7 L1201.3 200.7 L1201.9 200.8 L1202.5 200.8 L1203.1 200.8 L1203.7 200.9 L1204.3 200.9 L1205.0 201.0 L1205.6 201.0 L1206.2 201.1 L1206.8 201.1 L1207.4 201.2 L1208.0 201.2 L1208.7 201.3 L1209.3 201.3 L1209.9 201.3 L1210.5 201.4 L1211.1 201.4 L1211.7 201.5 L1212.3 201.5 L1213.0 201.6 L1213.6 201.6 L1214.2 201.6 L1214.8 201.7 L1215.4 201.7 L1216.0 201.8 L1216.7 201.8 L1217.3 201.8 L1217.9 201.9 L1218.5 201.9 L1219.1 202.0 L1219.7 202.0 L1220.3 202.0 L1221.0 202.1 L1221.6 202.1 L1222.2 202.1 L1222.8 202.2 L1223.4 202.2 L1224.0 202.2 L1224.6 202.3 L1225.3 202.3 L1225.9 202.4 L1226.5 202.4 L1227.1 202.4 L1227.7 202.5 L1228.3 202.5 L1229.0 202.5 L1229.6 202.6 L1230.2 202.6 L1230.8 202.6 L1231.4 202.7 L1232.0 202.7 L1232.6 202.7 L1233.3 202.8 L1233.9 202.8 L1234.5 202.8 L1235.1 202.9 L1235.7 202.9 L1236.3 202.9 L1236.9 202.9 L1237.6 203.0 L1238.2 203.0 L1238.8 203.0 L1239.4 203.1 L1240.0 203.1 L1240.6 203.1 L1241.2 203.2 L1241.9 203.2 L1242.5 203.2 L1243.1 203.2 L1243.7 203.3 L1244.3 203.3 L1244.9 203.3 L1245.6 203.3 L1246.2 203.4 L1246.8 203.4 L1247.4 203.4 L1248.0 203.5 L1248.6 203.5 L1249.2 203.5 L1249.9 203.5 L1250.5 203.6 L1251.1 203.6 L1251.7 203.6 L1252.3 203.6 L1252.9 203.7 L1253.5 203.7 L1254.2 203.7 L1254.8 203.7 L1255.4 203.8 L1256.0 203.8 L1256.6 203.8 L1257.2 203.8 L1257.9 203.8 L1258.5 203.9 L1259.1 203.9 L1259.7 203.9 L1260.3 203.9 L1260.9 204.0 L1261.5 204.0 L1262.2 204.0 L1262.8 204.0 L1263.4 204.0 L1264.0 204.1 L1264.6 204.1 L1265.2 204.1 L1265.8 204.1 L1266.5 204.2 L1267.1 204.2 L1267.7 204.2 L1268.3 204.2 L1268.9 204.2 L1269.5 204.3 L1270.2 204.3 L1270.8 204.3 L1271.4 204.3 L1272.0 204.3 L1272.6 204.4 L1273.2 204.4 L1273.8 204.4 L1274.5 204.4 L1275.1 204.4 L1275.7 204.4 L1276.3 204.5 L1276.9 204.5 L1277.5 204.5 L1278.2 204.5 L1278.8 204.5 L1279.4 204.6 L1280.0 204.6 L1280.6 204.6 L1281.2 204.6 L1281.8 204.6 L1282.5 204.6 L1283.1 204.7 L1283.7 204.7 L1284.3 204.7 L1284.9 204.7 L1285.5 204.7 L1286.1 204.7 L1286.8 204.8 L1287.4 204.8 L1288.0 204.8 L1288.6 204.8 L1289.2 204.8 L1289.8 204.8 L1290.5 204.8 L1291.1 204.9 L1291.7 204.9 L1292.3 204.9 L1292.9 204.9 L1293.5 204.9 L1294.1 204.9 L1294.8 205.0 L1295.4 205.0 L1296.0 205.0 L1296.6 205.0 L1297.2 205.0 L1297.8 205.0 L1298.4 205.0 L1299.1 205.0 L1299.7 205.1 L1300.3 205.1 L1300.9 205.1 L1301.5 205.1 L1302.1 205.1 L1302.8 205.1 L1303.4 205.1 L1304.0 205.2 L1304.6 205.2 L1305.2 205.2 L1305.8 205.2 L1306.4 205.2 L1307.1 205.2 L1307.7 205.2 L1308.3 205.2 L1308.9 205.3 L1309.5 205.3 L1310.1 205.3 L1310.7 205.3 L1311.4 205.3 L1312.0 205.3 L1312.6 205.3 L1313.2 205.3 L1313.8 205.3 L1314.4 205.4 L1315.0 205.4 L1315.7 205.4 L1316.3 205.4 L1316.9 205.4 L1317.5 205.4 L1318.1 205.4 L1318.7 205.4 L1319.4 205.4 L1320.0 205.5 L1320.6 205.5 L1321.2 205.5 L1321.8 205.5 L1322.4 205.5 L1323.0 205.5 L1323.7 205.5 L1324.3 205.5 L1324.9 205.5 L1325.5 205.5 L1326.1 205.6 L1326.7 205.6 L1327.3 205.6 L1328.0 205.6 L1328.6 205.6 L1329.2 205.6 L1329.8 205.6 L1330.4 205.6 L1331.0 205.6 L1331.7 205.6 L1332.3 205.6 L1332.9 205.7 L1333.5 205.7 L1334.1 205.7 L1334.7 205.7 L1335.3 205.7 L1336.0 205.7 L1336.6 205.7 L1337.2 205.7 L1337.8 205.7 L1338.4 205.7 L1339.0 205.7 L1339.7 205.7 L1340.3 205.8 L1340.9 205.8 L1341.5 205.8 L1342.1 205.8 L1342.7 205.8 L1343.3 205.8 L1344.0 205.8 L1344.6 205.8 L1345.2 205.8 L1345.8 205.8 L1346.4 205.8 L1347.0 205.8 L1347.6 205.8 L1348.3 205.8 L1348.9 205.9 L1349.5 205.9 L1350.1 205.9 L1350.7 205.9 L1351.3 205.9 L1352.0 205.9 L1352.6 205.9 L1353.2 205.9 L1353.8 205.9 L1354.4 205.9 L1355.0 205.9 L1355.6 205.9 L1356.3 205.9 L1356.9 205.9 L1357.5 205.9 L1358.1 206.0 L1358.7 206.0 L1359.3 206.0 L1359.9 206.0 L1360.6 206.0 L1361.2 206.0 L1361.8 206.0 L1362.4 206.0 L1363.0 206.0 L1363.6 206.0 L1364.2 206.0" fill="none" stroke="#000" stroke-width="2.4"/>
<path d="M1088.3 71.6" fill="none" stroke="none" marker-start="url(#bm)" marker-mid="url(#bm)" marker-end="url(#bm)"/>
<path d="M1088.3 126.2" fill="none" stroke="none" marker-start="url(#bb)" marker-mid="url(#bb)" marker-end="url(#bb)"/>
<path d="M1087.5 277.5" fill="none" stroke="none" marker-start="url(#bb)" marker-mid="url(#bb)" marker-end="url(#bb)"/>
<path d="M1057.1 524.4 L1058.0 525.8 L1058.9 523.3 L1059.8 521.6 L1060.7 521.8 L1061.7 517.6 L1062.6 521.7 L1063.5 524.1 L1064.4 507.4 L1065.4 522.9 L1066.3 523.1 L1067.2 522.5 L1068.1 525.2 L1069.0 529.3 L1070.0 520.9 L1070.9 514.9 L1071.8 530.5 L1072.7 525.4 L1073.7 519.8 L1074.6 525.1 L1075.5 519.3 L1076.4 522.1 L1077.4 527.1 L1078.3 522.9 L1079.2 524.3 L1080.1 519.3 L1081.0 533.9 L1082.0 519.9 L1082.9 515.5 L1083.8 521.1 L1084.7 520.7 L1085.7 524.4 L1086.6 520.3" fill="none" stroke="#0000ff" stroke-width="1.2" stroke-linejoin="round"/>
<path d="M1057.1 524.4 1058.0 525.8 1058.9 523.3 1059.8 521.6 1060.7 521.8 1061.7 517.6 1062.6 521.7 1063.5 524.1 1064.4 507.4 1065.4 522.9 1066.3 523.1 1067.2 522.5 1068.1 525.2 1069.0 529.3 1070.0 520.9 1070.9 514.9 1071.8 530.5 1072.7 525.4 1073.7 519.8 1074.6 525.1 1075.5 519.3 1076.4 522.1 1077.4 527.1 1078.3 522.9 1079.2 524.3 1080.1 519.3 1081.0 533.9 1082.0 519.9 1082.9 515.5 1083.8 521.1 1084.7 520.7 1085.7 524.4 1086.6 520.3" fill="none" stroke="none" marker-start="url(#cb)" marker-mid="url(#cb)" marker-end="url(#cb)"/>
<path d="M1057.1 522.9 L1057.5 530.7 L1057.9 530.1 L1058.3 537.9 L1058.8 518.9 L1059.2 520.7 L1059.6 514.3 L1060.1 520.1 L1060.5 517.1 L1060.9 531.1 L1061.4 534.8 L1061.8 525.8 L1062.2 524.1 L1062.7 519.4 L1063.1 522.8 L1063.5 523.0 L1063.9 521.6 L1064.4 520.1 L1064.8 520.5 L1065.2 519.7 L1065.7 525.3 L1066.1 522.5 L1066.5 532.0 L1067.0 529.6 L1067.4 523.8 L1067.8 518.9 L1068.3 527.1 L1068.7 531.6 L1069.1 515.3 L1069.5 527.6 L1070.0 533.8 L1070.4 528.6 L1070.8 530.1 L1071.3 538.6 L1071.7 524.5 L1072.1 510.2 L1072.6 527.0 L1073.0 527.6 L1073.4 514.0 L1073.8 521.3 L1074.3 522.6 L1074.7 512.5 L1075.1 530.0 L1075.6 522.3 L1076.0 518.4 L1076.4 520.5 L1076.9 530.0 L1077.3 528.3 L1077.7 509.6 L1078.2 522.5 L1078.6 523.7 L1079.0 514.4 L1079.4 534.3 L1079.9 522.2 L1080.3 534.0 L1080.7 512.2 L1081.2 528.7 L1081.6 521.1 L1082.0 528.2 L1082.5 521.0 L1082.9 519.7 L1083.3 521.8 L1083.7 524.1 L1084.2 520.1 L1084.6 523.5 L1085.0 525.3 L1085.5 517.5 L1085.9 516.0 L1086.3 531.2 L1086.8 528.8 L1087.2 527.2" fill="none" stroke="#ff00ff" stroke-width="1.2" stroke-linejoin="round"/>
<path d="M1057.1 522.9 1057.5 530.7 1057.9 530.1 1058.3 537.9 1058.8 518.9 1059.2 520.7 1059.6 514.3 1060.1 520.1 1060.5 517.1 1060.9 531.1 1061.4 534.8 1061.8 525.8 1062.2 524.1 1062.7 519.4 1063.1 522.8 1063.5 523.0 1063.9 521.6 1064.4 520.1 1064.8 520.5 1065.2 519.7 1065.7 525.3 1066.1 522.5 1066.5 532.0 1067.0 529.6 1067.4 523.8 1067.8 518.9 1068.3 527.1 1068.7 531.6 1069.1 515.3 1069.5 527.6 1070.0 533.8 1070.4 528.6 1070.8 530.1 1071.3 538.6 1071.7 524.5 1072.1 510.2 1072.6 527.0 1073.0 527.6 1073.4 514.0 1073.8 521.3 1074.3 522.6 1074.7 512.5 1075.1 530.0 1075.6 522.3 1076.0 518.4 1076.4 520.5 1076.9 530.0 1077.3 528.3 1077.7 509.6 1078.2 522.5 1078.6 523.7 1079.0 514.4 1079.4 534.3 1079.9 522.2 1080.3 534.0 1080.7 512.2 1081.2 528.7 1081.6 521.1 1082.0 528.2 1082.5 521.0 1082.9 519.7 1083.3 521.8 1083.7 524.1 1084.2 520.1 1084.6 523.5 1085.0 525.3 1085.5 517.5 1085.9 516.0 1086.3 531.2 1086.8 528.8 1087.2 527.2" fill="none" stroke="none" marker-start="url(#cm)" marker-mid="url(#cm)" marker-end="url(#cm)"/>
<path d="M1057.1 520.5 L1057.7 528.5 L1058.3 514.5 L1058.9 521.6 L1059.5 521.1 L1060.1 517.7 L1060.7 525.4 L1061.4 520.1 L1062.0 519.9 L1062.6 515.7 L1063.2 526.8 L1063.8 515.3 L1064.4 519.0 L1065.1 520.6 L1065.7 516.8 L1066.3 523.0 L1066.9 522.7 L1067.5 517.9 L1068.1 523.5 L1068.7 516.7 L1069.4 515.3 L1070.0 520.8 L1070.6 521.0 L1071.2 524.9 L1071.8 526.1 L1072.4 515.0 L1073.0 526.7 L1073.7 521.4 L1074.3 520.4 L1074.9 526.0 L1075.5 525.0 L1076.1 525.1 L1076.7 511.8 L1077.4 520.1 L1078.0 515.2 L1078.6 512.2 L1079.2 517.0 L1079.8 515.6 L1080.4 523.9 L1081.0 525.0 L1081.7 515.0 L1082.3 514.9 L1082.9 526.6 L1083.5 516.4 L1084.1 520.4 L1084.7 518.0 L1085.3 517.2 L1086.0 512.8 L1086.6 524.7 L1087.2 521.8" fill="none" stroke="#000000" stroke-width="1.2" stroke-linejoin="round"/>
<path d="M1057.1 520.5 1057.7 528.5 1058.3 514.5 1058.9 521.6 1059.5 521.1 1060.1 517.7 1060.7 525.4 1061.4 520.1 1062.0 519.9 1062.6 515.7 1063.2 526.8 1063.8 515.3 1064.4 519.0 1065.1 520.6 1065.7 516.8 1066.3 523.0 1066.9 522.7 1067.5 517.9 1068.1 523.5 1068.7 516.7 1069.4 515.3 1070.0 520.8 1070.6 521.0 1071.2 524.9 1071.8 526.1 1072.4 515.0 1073.0 526.7 1073.7 521.4 1074.3 520.4 1074.9 526.0 1075.5 525.0 1076.1 525.1 1076.7 511.8 1077.4 520.1 1078.0 515.2 1078.6 512.2 1079.2 517.0 1079.8 515.6 1080.4 523.9 1081.0 525.0 1081.7 515.0 1082.3 514.9 1082.9 526.6 1083.5 516.4 1084.1 520.4 1084.7 518.0 1085.3 517.2 1086.0 512.8 1086.6 524.7 1087.2 521.8" fill="none" stroke="none" marker-start="url(#ck)" marker-mid="url(#ck)" marker-end="url(#ck)"/>
<line x1="1088" y1="307" x2="1088" y2="470" stroke="#c040c0" stroke-width="1.4"/>
<line x1="1088" y1="470" x2="1088" y2="547" stroke="#000" stroke-width="1.3"/>
<path d="M1087.8 327.7 1088.2 339.2 1088.5 335.5 1088.9 341.1 1089.3 353.2 1089.7 347.3 1090.0 339.4 1090.4 350.2 1090.8 358.2 1091.1 352.9 1091.5 350.4 1091.9 349.3 1092.2 351.8 1092.6 351.9 1093.0 363.6 1093.3 362.1 1093.7 364.6 1094.1 363.8 1094.4 359.4 1094.8 354.9 1095.2 366.5 1095.6 359.4 1095.9 360.4 1096.3 376.4 1096.7 375.6 1097.0 370.6 1097.4 381.8 1097.8 361.9 1098.1 387.6 1098.5 384.6 1098.9 372.8 1099.2 384.0 1099.6 375.7 1100.0 387.9 1100.4 375.8 1100.7 387.7 1101.1 380.4 1101.5 379.7 1101.8 397.2 1102.2 394.4 1102.6 401.1 1102.9 398.1 1103.3 386.0 1103.7 393.3 1104.0 388.7 1104.4 386.0 1104.8 389.7 1105.2 392.8 1105.5 401.4 1105.9 402.2 1106.3 398.6 1106.6 396.1 1107.0 395.7 1107.4 401.9 1107.7 406.7 1108.1 406.3 1108.5 396.0 1108.8 406.0 1109.2 395.8 1109.6 414.5 1109.9 405.1 1110.3 410.3 1110.7 407.8 1111.1 418.6 1111.4 412.4 1111.8 416.0 1112.2 418.3 1112.5 425.2 1112.9 427.6 1113.3 421.4 1113.6 416.6 1114.0 419.3 1114.4 420.3 1114.7 420.7 1115.1 432.5 1115.5 417.6 1115.9 424.9 1116.2 431.1 1116.6 430.7 1117.0 421.5 1117.3 427.5 1117.7 440.4 1118.1 416.7 1118.4 440.9 1118.8 420.8 1119.2 427.3 1119.5 440.2 1119.9 426.3 1120.3 427.0 1120.6 429.2 1121.0 432.5 1121.4 435.4 1121.8 436.8 1122.1 442.5 1122.5 437.9 1122.9 432.1 1123.2 441.9 1123.6 429.1 1124.0 452.8 1124.3 443.1 1124.7 453.7 1125.1 456.2 1125.4 443.8 1125.8 448.3 1126.2 450.5 1126.6 454.4 1126.9 449.7 1127.3 459.4 1127.7 450.8 1128.0 453.6 1128.4 459.0 1128.8 448.8 1129.1 464.3 1129.5 450.0 1129.9 451.7 1130.2 450.6 1130.6 453.8 1131.0 450.1 1131.3 457.6 1131.7 463.6 1132.1 454.7 1132.5 462.9 1132.8 460.7 1133.2 458.1 1133.6 465.5 1133.9 453.7 1134.3 470.7 1134.7 453.3 1135.0 462.0 1135.4 451.3 1135.8 455.7 1136.1 459.1 1136.5 462.1 1136.9 463.8 1137.3 474.1 1137.6 469.3 1138.0 472.3 1138.4 471.3 1138.7 468.1 1139.1 472.9 1139.5 467.3 1139.8 470.4 1140.2 472.3 1140.6 467.2 1140.9 467.2 1141.3 479.5 1141.7 473.3 1142.1 452.7 1142.4 472.1 1142.8 469.7 1143.2 479.0 1143.5 467.3 1143.9 464.1 1144.3 470.8 1144.6 475.9 1145.0 475.3 1145.4 488.3 1145.7 472.6 1146.1 478.9 1146.5 474.7 1146.8 475.3 1147.2 476.8 1147.6 464.9 1148.0 473.1 1148.3 483.7 1148.7 475.9 1149.1 476.2 1149.4 480.5 1149.8 472.0 1150.2 483.9 1150.5 493.3 1150.9 489.3 1151.3 480.2 1151.6 489.6 1152.0 482.5 1152.4 493.7 1152.8 481.8 1153.1 486.4 1153.5 491.0 1153.9 489.1 1154.2 487.6 1154.6 480.3 1155.0 485.0 1155.3 488.3 1155.7 486.3 1156.1 481.9 1156.4 485.0 1156.8 477.0 1157.2 493.4 1157.5 483.7 1157.9 488.6 1158.3 493.9 1158.7 486.2 1159.0 485.0 1159.4 484.4 1159.8 488.0 1160.1 497.1 1160.5 490.6 1160.9 489.6 1161.2 481.6 1161.6 491.9 1162.0 492.0 1162.3 483.2 1162.7 493.2 1163.1 496.9 1163.5 492.4 1163.8 489.6 1164.2 493.9 1164.6 506.1 1164.9 498.1 1165.3 489.3 1165.7 500.9 1166.0 490.8 1166.4 495.5 1166.8 502.1 1167.1 492.0 1167.5 511.4 1167.9 511.4 1168.2 508.1 1168.6 494.9 1169.0 500.4 1169.4 494.8 1169.7 499.6 1170.1 498.5 1170.5 503.1 1170.8 502.5 1171.2 493.8 1171.6 495.5 1171.9 509.3 1172.3 497.2 1172.7 488.1 1173.0 496.5 1173.4 507.8 1173.8 497.1 1174.2 500.8 1174.5 504.5 1174.9 496.4 1175.3 494.9 1175.6 506.5 1176.0 502.6 1176.4 506.1 1176.7 503.8 1177.1 493.7 1177.5 507.1 1177.8 500.8 1178.2 503.0 1178.6 504.4 1179.0 512.4 1179.3 501.3 1179.7 512.7 1180.1 501.1 1180.4 506.6 1180.8 505.3 1181.2 509.4 1181.5 512.2 1181.9 513.5 1182.3 507.0 1182.6 507.8 1183.0 505.6 1183.4 509.5 1183.7 502.9 1184.1 507.1 1184.5 507.5 1184.9 510.0 1185.2 508.7 1185.6 504.6 1186.0 513.5 1186.3 517.0 1186.7 506.9 1187.1 506.8 1187.4 509.6 1187.8 508.4 1188.2 518.5 1188.5 516.6 1188.9 510.5 1189.3 510.8 1189.7 518.8 1190.0 508.0 1190.4 523.4 1190.8 503.3 1191.1 518.3 1191.5 515.3 1191.9 518.6 1192.2 520.7 1192.6 514.2 1193.0 524.5 1193.3 514.7 1193.7 511.6 1194.1 514.7 1194.4 513.1 1194.8 522.4 1195.2 525.2 1195.6 522.0 1195.9 506.8 1196.3 511.7 1196.7 525.4 1197.0 503.0 1197.4 510.1 1197.8 507.3 1198.1 508.0 1198.5 506.2 1198.9 525.6 1199.2 514.4 1199.6 520.0 1200.0 502.7 1200.4 510.9 1200.7 515.5 1201.1 517.2 1201.5 529.3 1201.8 515.2 1202.2 521.4 1202.6 507.4 1202.9 511.5 1203.3 516.9 1203.7 519.0 1204.0 509.5 1204.4 520.2 1204.8 509.8 1205.1 515.7 1205.5 519.0 1205.9 514.9 1206.3 506.1 1206.6 527.8 1207.0 512.8 1207.4 513.0 1207.7 519.5 1208.1 508.5 1208.5 513.8 1208.8 514.7 1209.2 524.8 1209.6 514.7 1209.9 526.9 1210.3 515.4 1210.7 504.9 1211.1 524.7 1211.4 508.9 1211.8 526.1 1212.2 518.8 1212.5 514.7 1212.9 528.7 1213.3 517.4 1213.6 524.6 1214.0 523.7 1214.4 514.4 1214.7 520.4 1215.1 517.4 1215.5 520.0 1215.9 517.8 1216.2 510.3 1216.6 519.6 1217.0 522.3 1217.3 520.4 1217.7 516.1 1218.1 517.8 1218.4 534.7 1218.8 521.5 1219.2 518.3 1219.5 504.3 1219.9 525.1 1220.3 523.1 1220.6 528.9 1221.0 522.0 1221.4 533.0 1221.8 527.1 1222.1 522.3 1222.5 531.6 1222.9 523.7 1223.2 526.5 1223.6 514.0 1224.0 511.9 1224.3 508.7 1224.7 521.5 1225.1 518.1 1225.4 507.2 1225.8 526.8 1226.2 511.7 1226.6 528.7 1226.9 516.0 1227.3 533.0 1227.7 525.6 1228.0 524.3 1228.4 524.8 1228.8 535.8 1229.1 522.5 1229.5 525.2 1229.9 513.8 1230.2 519.8 1230.6 537.6 1231.0 522.8 1231.3 516.8 1231.7 524.4 1232.1 528.4 1232.5 532.8 1232.8 526.4 1233.2 530.2 1233.6 525.9 1233.9 526.3 1234.3 516.0 1234.7 530.7 1235.0 522.3 1235.4 531.6 1235.8 522.8 1236.1 517.9 1236.5 528.4 1236.9 532.4 1237.3 524.6 1237.6 524.7 1238.0 529.0 1238.4 522.2 1238.7 524.6 1239.1 520.7 1239.5 534.1 1239.8 520.3 1240.2 517.1 1240.6 530.6 1240.9 512.5 1241.3 523.9 1241.7 533.9 1242.0 532.5 1242.4 530.4 1242.8 529.9 1243.2 527.3 1243.5 523.8 1243.9 527.1 1244.3 528.0 1244.6 532.2 1245.0 539.2 1245.4 530.6 1245.7 534.1 1246.1 520.4 1246.5 541.9 1246.8 518.8 1247.2 544.8 1247.6 527.6 1248.0 526.3 1248.3 533.7 1248.7 532.8 1249.1 520.9 1249.4 533.6 1249.8 527.2 1250.2 526.4 1250.5 522.5 1250.9 535.0 1251.3 518.3 1251.6 527.9 1252.0 520.3 1252.4 536.1 1252.8 519.9 1253.1 527.7 1253.5 522.0 1253.9 531.3 1254.2 521.6 1254.6 527.0 1255.0 539.6 1255.3 511.1 1255.7 531.7 1256.1 524.4 1256.4 528.7 1256.8 530.4 1257.2 529.9 1257.5 521.6 1257.9 521.5 1258.3 521.6 1258.7 538.3 1259.0 522.4 1259.4 537.5 1259.8 512.7 1260.1 525.3 1260.5 520.5 1260.9 527.9 1261.2 527.0 1261.6 532.6 1262.0 515.0 1262.3 530.2 1262.7 520.9 1263.1 533.4 1263.5 529.1 1263.8 530.7 1264.2 528.9 1264.6 531.6 1264.9 524.1 1265.3 524.0 1265.7 538.8 1266.0 531.2 1266.4 537.0 1266.8 521.5 1267.1 536.7 1267.5 525.5 1267.9 527.6 1268.2 528.9 1268.6 541.3 1269.0 517.6 1269.4 529.6 1269.7 524.3 1270.1 521.8 1270.5 535.3 1270.8 535.3 1271.2 517.6 1271.6 516.2 1271.9 534.2 1272.3 529.4 1272.7 522.7 1273.0 529.9 1273.4 520.4 1273.8 525.1 1274.2 529.5 1274.5 524.7 1274.9 532.2 1275.3 520.9 1275.6 533.5 1276.0 520.6 1276.4 512.8 1276.7 540.7 1277.1 518.1 1277.5 539.0 1277.8 529.7 1278.2 517.3 1278.6 522.3 1278.9 525.0 1279.3 526.9 1279.7 528.3 1280.1 526.4 1280.4 530.8 1280.8 531.3 1281.2 537.6 1281.5 518.1 1281.9 529.7 1282.3 517.1 1282.6 524.7 1283.0 526.6 1283.4 536.8 1283.7 531.4 1284.1 529.4 1284.5 530.5 1284.9 531.7 1285.2 544.7 1285.6 532.4 1286.0 531.4 1286.3 533.0 1286.7 531.9 1287.1 540.1 1287.4 535.5 1287.8 520.3 1288.2 536.1 1288.5 533.4 1288.9 535.4 1289.3 531.1 1289.7 533.4 1290.0 516.9 1290.4 536.8 1290.8 521.2 1291.1 533.1 1291.5 527.2 1291.9 513.5 1292.2 530.2 1292.6 530.2 1293.0 548.9 1293.3 532.4 1293.7 531.7 1294.1 529.4 1294.4 528.7 1294.8 537.4 1295.2 536.4 1295.6 525.3 1295.9 532.1 1296.3 530.1 1296.7 526.0 1297.0 529.6 1297.4 529.4 1297.8 537.4 1298.1 530.4 1298.5 541.5 1298.9 518.8 1299.2 535.5 1299.6 519.4 1300.0 533.7 1300.4 531.4 1300.7 521.9 1301.1 529.1 1301.5 529.3 1301.8 532.3 1302.2 532.2 1302.6 535.4 1302.9 535.6 1303.3 542.3 1303.7 531.6 1304.0 535.7 1304.4 521.4 1304.8 516.7 1305.1 518.1 1305.5 538.4 1305.9 533.0 1306.3 531.5 1306.6 540.7 1307.0 520.5 1307.4 526.0 1307.7 528.8 1308.1 518.0 1308.5 527.5 1308.8 532.7 1309.2 528.9 1309.6 533.8 1309.9 527.6 1310.3 539.4 1310.7 527.5 1311.1 532.8 1311.4 533.6 1311.8 533.3 1312.2 531.7 1312.5 542.3 1312.9 526.9 1313.3 532.2 1313.6 519.1 1314.0 531.0 1314.4 524.7 1314.7 531.1 1315.1 531.8 1315.5 538.9 1315.8 534.0 1316.2 534.8 1316.6 546.8 1317.0 532.9 1317.3 535.7 1317.7 529.0 1318.1 524.2 1318.4 533.0 1318.8 523.2 1319.2 522.9 1319.5 526.0 1319.9 533.2 1320.3 530.4 1320.6 520.3 1321.0 520.9 1321.4 523.6 1321.8 542.4 1322.1 546.0 1322.5 519.4 1322.9 526.4 1323.2 522.3 1323.6 527.3 1324.0 533.1 1324.3 528.1 1324.7 531.5 1325.1 521.3 1325.4 525.6 1325.8 537.4 1326.2 536.2 1326.6 524.5 1326.9 525.4 1327.3 529.3 1327.7 529.0 1328.0 539.4 1328.4 536.9 1328.8 527.8 1329.1 543.3 1329.5 528.0 1329.9 527.4 1330.2 527.0 1330.6 525.7 1331.0 518.7 1331.3 529.4 1331.7 536.7 1332.1 542.5 1332.5 546.1 1332.8 530.7 1333.2 525.5 1333.6 542.3 1333.9 530.2 1334.3 536.0 1334.7 533.0 1335.0 529.9 1335.4 531.1 1335.8 539.2 1336.1 526.4 1336.5 532.3 1336.9 543.7 1337.3 526.3 1337.6 521.0 1338.0 534.0 1338.4 520.9 1338.7 541.8 1339.1 533.1 1339.5 522.9 1339.8 522.8 1340.2 528.1 1340.6 524.5 1340.9 534.2 1341.3 526.7 1341.7 525.2 1342.0 525.2 1342.4 529.0 1342.8 526.0 1343.2 528.6 1343.5 527.5 1343.9 541.7 1344.3 527.6 1344.6 537.7 1345.0 534.0 1345.4 531.2 1345.7 529.9 1346.1 540.2 1346.5 535.0 1346.8 530.0 1347.2 534.3 1347.6 531.4 1348.0 530.1 1348.3 530.2 1348.7 535.2 1349.1 530.4 1349.4 527.8 1349.8 540.0 1350.2 526.5 1350.5 538.2 1350.9 529.2 1351.3 527.6 1351.6 527.4 1352.0 539.4 1352.4 537.7 1352.7 539.4 1353.1 527.9 1353.5 530.8 1353.9 543.5 1354.2 526.8 1354.6 523.9 1355.0 535.1 1355.3 532.2 1355.7 530.1 1356.1 538.4 1356.4 534.5 1356.8 528.1 1357.2 534.0 1357.5 531.8 1357.9 531.0 1358.3 520.5 1358.7 530.0 1359.0 529.5 1359.4 534.9 1359.8 523.6 1360.1 531.3 1360.5 532.0 1360.9 523.1 1361.2 523.0 1361.6 537.9 1362.0 533.9 1362.3 523.4 1362.7 534.9 1363.1 521.5 1363.5 532.9 1363.8 519.0 1364.2 538.2" fill="none" stroke="none" marker-start="url(#cb)" marker-mid="url(#cb)" marker-end="url(#cb)"/>
<path d="M1087.5 314.0 L1088.1 316.2 L1088.7 318.4 L1089.3 320.6 L1090.0 322.7 L1090.6 324.8 L1091.2 327.0 L1091.8 329.0 L1092.4 331.1 L1093.0 333.2 L1093.7 335.2 L1094.3 337.2 L1094.9 339.2 L1095.5 341.2 L1096.1 343.2 L1096.7 345.1 L1097.3 347.0 L1098.0 349.0 L1098.6 350.8 L1099.2 352.7 L1099.8 354.6 L1100.4 356.4 L1101.0 358.2 L1101.6 360.1 L1102.3 361.8 L1102.9 363.6 L1103.5 365.4 L1104.1 367.1 L1104.7 368.9 L1105.3 370.6 L1106.0 372.3 L1106.6 373.9 L1107.2 375.6 L1107.8 377.3 L1108.4 378.9 L1109.0 380.5 L1109.6 382.1 L1110.3 383.7 L1110.9 385.3 L1111.5 386.9 L1112.1 388.4 L1112.7 390.0 L1113.3 391.5 L1113.9 393.0 L1114.6 394.5 L1115.2 396.0 L1115.8 397.4 L1116.4 398.9 L1117.0 400.3 L1117.6 401.8 L1118.2 403.2 L1118.9 404.6 L1119.5 406.0 L1120.1 407.3 L1120.7 408.7 L1121.3 410.1 L1121.9 411.4 L1122.6 412.7 L1123.2 414.0 L1123.8 415.3 L1124.4 416.6 L1125.0 417.9 L1125.6 419.2 L1126.2 420.4 L1126.9 421.7 L1127.5 422.9 L1128.1 424.1 L1128.7 425.4 L1129.3 426.6 L1129.9 427.7 L1130.5 428.9 L1131.2 430.1 L1131.8 431.3 L1132.4 432.4 L1133.0 433.5 L1133.6 434.7 L1134.2 435.8 L1134.9 436.9 L1135.5 438.0 L1136.1 439.1 L1136.7 440.2 L1137.3 441.2 L1137.9 442.3 L1138.5 443.3 L1139.2 444.4 L1139.8 445.4 L1140.4 446.4 L1141.0 447.4 L1141.6 448.4 L1142.2 449.4 L1142.8 450.4 L1143.5 451.4 L1144.1 452.3 L1144.7 453.3 L1145.3 454.3 L1145.9 455.2 L1146.5 456.1 L1147.2 457.0 L1147.8 458.0 L1148.4 458.9 L1149.0 459.8 L1149.6 460.7 L1150.2 461.5 L1150.8 462.4 L1151.5 463.3 L1152.1 464.1 L1152.7 465.0 L1153.3 465.8 L1153.9 466.7 L1154.5 467.5 L1155.2 468.3 L1155.8 469.1 L1156.4 469.9 L1157.0 470.7 L1157.6 471.5 L1158.2 472.3 L1158.8 473.1 L1159.5 473.9 L1160.1 474.6 L1160.7 475.4 L1161.3 476.1 L1161.9 476.9 L1162.5 477.6 L1163.1 478.3 L1163.8 479.1 L1164.4 479.8 L1165.0 480.5 L1165.6 481.2 L1166.2 481.9 L1166.8 482.6 L1167.5 483.2 L1168.1 483.9 L1168.7 484.6 L1169.3 485.3 L1169.9 485.9 L1170.5 486.6 L1171.1 487.2 L1171.8 487.9 L1172.4 488.5 L1173.0 489.1 L1173.6 489.8 L1174.2 490.4 L1174.8 491.0 L1175.4 491.6 L1176.1 492.2 L1176.7 492.8 L1177.3 493.4 L1177.9 494.0 L1178.5 494.6 L1179.1 495.1 L1179.8 495.7 L1180.4 496.3 L1181.0 496.8 L1181.6 497.4 L1182.2 497.9 L1182.8 498.5 L1183.4 499.0 L1184.1 499.5 L1184.7 500.1 L1185.3 500.6 L1185.9 501.1 L1186.5 501.6 L1187.1 502.1 L1187.7 502.7 L1188.4 503.2 L1189.0 503.7 L1189.6 504.1 L1190.2 504.6 L1190.8 505.1 L1191.4 505.6 L1192.0 506.1 L1192.7 506.5 L1193.3 507.0 L1193.9 507.5 L1194.5 507.9 L1195.1 508.4 L1195.7 508.8 L1196.4 509.3 L1197.0 509.7 L1197.6 510.2 L1198.2 510.6 L1198.8 511.0 L1199.4 511.5 L1200.0 511.9 L1200.7 512.3 L1201.3 512.7 L1201.9 513.1 L1202.5 513.5 L1203.1 513.9 L1203.7 514.3 L1204.3 514.7 L1205.0 515.1 L1205.6 515.5 L1206.2 515.9 L1206.8 516.3 L1207.4 516.7 L1208.0 517.0 L1208.7 517.4 L1209.3 517.8 L1209.9 518.1 L1210.5 518.5 L1211.1 518.9 L1211.7 519.2 L1212.3 519.6 L1213.0 519.9 L1213.6 520.3 L1214.2 520.6 L1214.8 520.9 L1215.4 521.3 L1216.0 521.6 L1216.7 521.9 L1217.3 522.3 L1217.9 522.6 L1218.5 522.9 L1219.1 523.2 L1219.7 523.6 L1220.3 523.9 L1221.0 524.2 L1221.6 524.5 L1222.2 524.8 L1222.8 525.1 L1223.4 525.4 L1224.0 525.7 L1224.6 526.0 L1225.3 526.3 L1225.9 526.6 L1226.5 526.8 L1227.1 527.1 L1227.7 527.4 L1228.3 527.7 L1229.0 528.0 L1229.6 528.2 L1230.2 528.5 L1230.8 528.8 L1231.4 529.0 L1232.0 529.3 L1232.6 529.6 L1233.3 529.8 L1233.9 530.1 L1234.5 530.3 L1235.1 530.6 L1235.7 530.8 L1236.3 531.1 L1236.9 531.3 L1237.6 531.6 L1238.2 531.8 L1238.8 532.0 L1239.4 532.3 L1240.0 532.5 L1240.6 532.7 L1241.2 533.0 L1241.9 533.2 L1242.5 533.4 L1243.1 533.7 L1243.7 533.9 L1244.3 534.1 L1244.9 534.3 L1245.6 534.5 L1246.2 534.7 L1246.8 535.0 L1247.4 535.2 L1248.0 535.4 L1248.6 535.6 L1249.2 535.8 L1249.9 536.0 L1250.5 536.2 L1251.1 536.4 L1251.7 536.6 L1252.3 536.8 L1252.9 537.0 L1253.5 537.2 L1254.2 537.3 L1254.8 537.5 L1255.4 537.7 L1256.0 537.9 L1256.6 538.1 L1257.2 538.3 L1257.9 538.5 L1258.5 538.6 L1259.1 538.8 L1259.7 539.0 L1260.3 539.2 L1260.9 539.3 L1261.5 539.5 L1262.2 539.7 L1262.8 539.8 L1263.4 540.0 L1264.0 540.2 L1264.6 540.3 L1265.2 540.5 L1265.8 540.6 L1266.5 540.8 L1267.1 541.0 L1267.7 541.1 L1268.3 541.3 L1268.9 541.4 L1269.5 541.6 L1270.2 541.7 L1270.8 541.9 L1271.4 542.0 L1272.0 542.2 L1272.6 542.3 L1273.2 542.5 L1273.8 542.6 L1274.5 542.7 L1275.1 542.9 L1275.7 543.0 L1276.3 543.1 L1276.9 543.3 L1277.5 543.4 L1278.2 543.6 L1278.8 543.7 L1279.4 543.8 L1280.0 543.9 L1280.6 544.1 L1281.2 544.2 L1281.8 544.3 L1282.5 544.5 L1283.1 544.6 L1283.7 544.7 L1284.3 544.8 L1284.9 544.9 L1285.5 545.1 L1286.1 545.2 L1286.8 545.3 L1287.4 545.4 L1288.0 545.5 L1288.6 545.6 L1289.2 545.8 L1289.8 545.9 L1290.5 546.0 L1291.1 546.1 L1291.7 546.2 L1292.3 546.3 L1292.9 546.4 L1293.5 546.5 L1294.1 546.6 L1294.8 546.7 L1295.4 546.8 L1296.0 546.9 L1296.6 547.0 L1297.2 547.1 L1297.8 547.2 L1298.4 547.3 L1299.1 547.4 L1299.7 547.5 L1300.3 547.6 L1300.9 547.7 L1301.5 547.8 L1302.1 547.9 L1302.8 548.0 L1303.4 548.1 L1304.0 548.2 L1304.6 548.3 L1305.2 548.4 L1305.8 548.4 L1306.4 548.5 L1307.1 548.6 L1307.7 548.7 L1308.3 548.8 L1308.9 548.9 L1309.5 549.0 L1310.1 549.0 L1310.7 549.1 L1311.4 549.2 L1312.0 549.3 L1312.6 549.4 L1313.2 549.4 L1313.8 549.5 L1314.4 549.6 L1315.0 549.7 L1315.7 549.8 L1316.3 549.8 L1316.9 549.9 L1317.5 550.0 L1318.1 550.1 L1318.7 550.1 L1319.4 550.2 L1320.0 550.3 L1320.6 550.3 L1321.2 550.4 L1321.8 550.5 L1322.4 550.6 L1323.0 550.6 L1323.7 550.7 L1324.3 550.8 L1324.9 550.8 L1325.5 550.9 L1326.1 551.0 L1326.7 551.0 L1327.3 551.1 L1328.0 551.1 L1328.6 551.2 L1329.2 551.3 L1329.8 551.3 L1330.4 551.4 L1331.0 551.5 L1331.7 551.5 L1332.3 551.6 L1332.9 551.6 L1333.5 551.7 L1334.1 551.8 L1334.7 551.8 L1335.3 551.9 L1336.0 551.9 L1336.6 552.0 L1337.2 552.0 L1337.8 552.1 L1338.4 552.1 L1339.0 552.2 L1339.7 552.3 L1340.3 552.3 L1340.9 552.4 L1341.5 552.4 L1342.1 552.5 L1342.7 552.5 L1343.3 552.6 L1344.0 552.6 L1344.6 552.7 L1345.2 552.7 L1345.8 552.8 L1346.4 552.8 L1347.0 552.9 L1347.6 552.9 L1348.3 553.0 L1348.9 553.0 L1349.5 553.1 L1350.1 553.1 L1350.7 553.1 L1351.3 553.2 L1352.0 553.2 L1352.6 553.3 L1353.2 553.3 L1353.8 553.4 L1354.4 553.4 L1355.0 553.5 L1355.6 553.5 L1356.3 553.5 L1356.9 553.6 L1357.5 553.6 L1358.1 553.7 L1358.7 553.7 L1359.3 553.7 L1359.9 553.8 L1360.6 553.8 L1361.2 553.9 L1361.8 553.9 L1362.4 553.9 L1363.0 554.0 L1363.6 554.0 L1364.2 554.0" fill="none" stroke="#ff00ff" stroke-width="1.8"/>
<path d="M1087.8 325.4 1088.2 324.1 1088.5 306.6 1088.9 322.7 1089.3 322.4 1089.7 324.5 1090.0 326.7 1090.4 323.0 1090.8 324.5 1091.1 329.9 1091.5 330.6 1091.9 321.6 1092.2 324.9 1092.6 326.0 1093.0 325.9 1093.3 334.9 1093.7 330.3 1094.1 327.3 1094.4 342.0 1094.8 331.3 1095.2 353.4 1095.6 351.5 1095.9 350.3 1096.3 348.9 1096.7 349.9 1097.0 348.5 1097.4 342.5 1097.8 352.1 1098.1 351.3 1098.5 357.5 1098.9 360.3 1099.2 353.6 1099.6 357.8 1100.0 350.0 1100.4 355.3 1100.7 367.0 1101.1 354.2 1101.5 365.8 1101.8 362.5 1102.2 367.1 1102.6 367.0 1102.9 366.8 1103.3 371.1 1103.7 369.7 1104.0 368.3 1104.4 363.8 1104.8 364.9 1105.2 360.1 1105.5 379.7 1105.9 374.0 1106.3 366.2 1106.6 380.1 1107.0 375.8 1107.4 371.9 1107.7 368.4 1108.1 374.7 1108.5 377.1 1108.8 380.7 1109.2 377.4 1109.6 381.2 1109.9 380.8 1110.3 387.2 1110.7 385.3 1111.1 390.4 1111.4 392.5 1111.8 392.1 1112.2 393.0 1112.5 393.0 1112.9 393.4 1113.3 399.4 1113.6 390.4 1114.0 391.2 1114.4 385.4 1114.7 407.6 1115.1 403.4 1115.5 401.8 1115.9 402.2 1116.2 397.9 1116.6 403.8 1117.0 404.2 1117.3 396.9 1117.7 402.7 1118.1 411.4 1118.4 398.2 1118.8 392.0 1119.2 398.9 1119.5 406.8 1119.9 399.3 1120.3 408.0 1120.6 410.3 1121.0 407.8 1121.4 402.9 1121.8 410.2 1122.1 413.3 1122.5 420.0 1122.9 412.2 1123.2 419.9 1123.6 415.3 1124.0 423.1 1124.3 421.1 1124.7 422.4 1125.1 421.5 1125.4 424.9 1125.8 412.7 1126.2 415.9 1126.6 422.7 1126.9 427.3 1127.3 416.4 1127.7 424.5 1128.0 420.8 1128.4 419.1 1128.8 427.5 1129.1 423.6 1129.5 424.3 1129.9 429.8 1130.2 429.1 1130.6 432.3 1131.0 448.1 1131.3 432.4 1131.7 422.0 1132.1 426.1 1132.5 417.5 1132.8 432.6 1133.2 428.9 1133.6 437.8 1133.9 439.2 1134.3 440.5 1134.7 433.9 1135.0 432.8 1135.4 448.1 1135.8 434.6 1136.1 434.1 1136.5 435.4 1136.9 447.3 1137.3 439.9 1137.6 439.8 1138.0 449.5 1138.4 449.0 1138.7 431.5 1139.1 447.8 1139.5 447.4 1139.8 456.0 1140.2 449.3 1140.6 439.2 1140.9 445.1 1141.3 452.4 1141.7 448.2 1142.1 447.0 1142.4 446.4 1142.8 455.6 1143.2 448.7 1143.5 455.0 1143.9 454.6 1144.3 457.1 1144.6 457.4 1145.0 451.0 1145.4 463.8 1145.7 453.7 1146.1 440.6 1146.5 460.7 1146.8 458.0 1147.2 457.4 1147.6 449.1 1148.0 465.9 1148.3 455.6 1148.7 459.7 1149.1 449.1 1149.4 461.4 1149.8 450.0 1150.2 466.6 1150.5 459.9 1150.9 468.4 1151.3 466.1 1151.6 470.2 1152.0 466.1 1152.4 456.0 1152.8 467.9 1153.1 452.0 1153.5 457.2 1153.9 464.8 1154.2 466.9 1154.6 465.8 1155.0 472.0 1155.3 465.2 1155.7 468.4 1156.1 480.0 1156.4 469.7 1156.8 467.2 1157.2 470.6 1157.5 469.6 1157.9 471.8 1158.3 474.9 1158.7 467.0 1159.0 465.6 1159.4 475.3 1159.8 469.8 1160.1 480.5 1160.5 468.3 1160.9 479.9 1161.2 475.7 1161.6 471.2 1162.0 479.5 1162.3 477.0 1162.7 472.3 1163.1 481.1 1163.5 476.7 1163.8 473.1 1164.2 478.1 1164.6 484.1 1164.9 482.4 1165.3 482.1 1165.7 481.1 1166.0 478.2 1166.4 490.4 1166.8 482.8 1167.1 481.7 1167.5 475.1 1167.9 491.5 1168.2 488.8 1168.6 479.6 1169.0 485.1 1169.4 479.3 1169.7 485.9 1170.1 489.5 1170.5 486.7 1170.8 480.1 1171.2 483.3 1171.6 486.5 1171.9 487.2 1172.3 482.6 1172.7 485.4 1173.0 487.8 1173.4 485.6 1173.8 489.3 1174.2 496.2 1174.5 485.7 1174.9 484.5 1175.3 483.8 1175.6 492.0 1176.0 498.5 1176.4 490.2 1176.7 495.9 1177.1 503.2 1177.5 492.6 1177.8 497.9 1178.2 493.8 1178.6 497.1 1179.0 490.5 1179.3 490.6 1179.7 492.8 1180.1 489.6 1180.4 499.1 1180.8 483.9 1181.2 506.1 1181.5 493.2 1181.9 492.0 1182.3 500.0 1182.6 497.6 1183.0 504.9 1183.4 501.2 1183.7 497.6 1184.1 506.3 1184.5 510.2 1184.9 502.0 1185.2 504.9 1185.6 505.9 1186.0 502.0 1186.3 508.8 1186.7 495.9 1187.1 495.9 1187.4 502.1 1187.8 505.8 1188.2 503.2 1188.5 503.8 1188.9 507.7 1189.3 507.3 1189.7 501.9 1190.0 509.2 1190.4 508.1 1190.8 507.4 1191.1 510.6 1191.5 504.2 1191.9 512.7 1192.2 501.2 1192.6 502.6 1193.0 506.9 1193.3 502.5 1193.7 501.4 1194.1 509.6 1194.4 508.1 1194.8 511.3 1195.2 510.3 1195.6 510.7 1195.9 508.5 1196.3 506.4 1196.7 497.8 1197.0 507.9 1197.4 504.9 1197.8 511.4 1198.1 501.7 1198.5 510.1 1198.9 511.9 1199.2 512.7 1199.6 511.4 1200.0 513.9 1200.4 511.1 1200.7 502.9 1201.1 512.2 1201.5 516.8 1201.8 522.9 1202.2 513.8 1202.6 518.9 1202.9 517.8 1203.3 513.2 1203.7 512.4 1204.0 512.0 1204.4 508.6 1204.8 520.0 1205.1 518.7 1205.5 520.1 1205.9 521.0 1206.3 519.4 1206.6 520.6 1207.0 512.7 1207.4 522.2 1207.7 505.2 1208.1 527.9 1208.5 512.9 1208.8 525.8 1209.2 520.3 1209.6 524.4 1209.9 518.1 1210.3 515.9 1210.7 520.8 1211.1 522.3 1211.4 524.3 1211.8 523.7 1212.2 524.0 1212.5 523.3 1212.9 519.6 1213.3 515.5 1213.6 524.0 1214.0 531.2 1214.4 522.7 1214.7 516.6 1215.1 526.6 1215.5 519.5 1215.9 527.7 1216.2 528.5 1216.6 520.8 1217.0 532.0 1217.3 524.5 1217.7 536.9 1218.1 528.3 1218.4 521.0 1218.8 525.8 1219.2 527.1 1219.5 520.7 1219.9 528.6 1220.3 530.0 1220.6 526.3 1221.0 524.7 1221.4 523.8 1221.8 525.7 1222.1 518.7 1222.5 522.1 1222.9 526.0 1223.2 513.3 1223.6 533.9 1224.0 524.5 1224.3 530.1 1224.7 514.9 1225.1 524.8 1225.4 522.2 1225.8 524.6 1226.2 519.1 1226.6 529.9 1226.9 522.4 1227.3 536.4 1227.7 524.6 1228.0 521.7 1228.4 523.3 1228.8 524.9 1229.1 538.1 1229.5 527.9 1229.9 530.3 1230.2 520.7 1230.6 526.0 1231.0 525.6 1231.3 522.3 1231.7 526.6 1232.1 536.7 1232.5 533.9 1232.8 540.9 1233.2 523.6 1233.6 531.2 1233.9 537.1 1234.3 527.9 1234.7 532.9 1235.0 532.4 1235.4 524.0 1235.8 541.9 1236.1 539.0 1236.5 531.9 1236.9 532.8 1237.3 525.7 1237.6 533.7 1238.0 529.2 1238.4 523.0 1238.7 539.4 1239.1 539.9 1239.5 536.3 1239.8 533.8 1240.2 538.6 1240.6 531.6 1240.9 537.2 1241.3 527.2 1241.7 530.7 1242.0 529.9 1242.4 532.5 1242.8 532.7 1243.2 542.5 1243.5 535.2 1243.9 543.6 1244.3 527.3 1244.6 540.4 1245.0 539.4 1245.4 537.1 1245.7 523.2 1246.1 540.8 1246.5 526.3 1246.8 534.5 1247.2 521.7 1247.6 536.6 1248.0 538.5 1248.3 535.8 1248.7 538.7 1249.1 539.7 1249.4 532.3 1249.8 538.6 1250.2 531.6 1250.5 533.3 1250.9 531.7 1251.3 528.4 1251.6 531.2 1252.0 541.9 1252.4 530.0 1252.8 550.2 1253.1 530.6 1253.5 530.9 1253.9 543.1 1254.2 530.8 1254.6 547.6 1255.0 532.5 1255.3 540.1 1255.7 539.5 1256.1 539.1 1256.4 541.2 1256.8 534.5 1257.2 538.7 1257.5 538.8 1257.9 538.4 1258.3 540.7 1258.7 544.2 1259.0 535.9 1259.4 534.7 1259.8 545.5 1260.1 534.3 1260.5 532.7 1260.9 538.6 1261.2 531.9 1261.6 551.2 1262.0 532.6 1262.3 543.8 1262.7 538.4 1263.1 545.0 1263.5 527.3 1263.8 542.5 1264.2 536.9 1264.6 548.2 1264.9 542.2 1265.3 538.4 1265.7 541.4 1266.0 544.9 1266.4 533.1 1266.8 549.2 1267.1 540.7 1267.5 542.2 1267.9 543.3 1268.2 538.0 1268.6 540.3 1269.0 542.6 1269.4 538.3 1269.7 542.2 1270.1 539.1 1270.5 535.2 1270.8 540.8 1271.2 541.8 1271.6 545.3 1271.9 534.8 1272.3 537.3 1272.7 539.7 1273.0 541.0 1273.4 547.1 1273.8 542.3 1274.2 541.3 1274.5 549.1 1274.9 548.1 1275.3 543.7 1275.6 533.0 1276.0 541.3 1276.4 551.0 1276.7 536.7 1277.1 538.8 1277.5 539.8 1277.8 546.5 1278.2 544.3 1278.6 532.2 1278.9 538.0 1279.3 519.7 1279.7 553.7 1280.1 552.5 1280.4 546.5 1280.8 549.1 1281.2 547.9 1281.5 540.6 1281.9 537.5 1282.3 552.1 1282.6 541.6 1283.0 540.2 1283.4 543.4 1283.7 537.7 1284.1 538.8 1284.5 549.3 1284.9 544.3 1285.2 543.7 1285.6 551.5 1286.0 546.5 1286.3 539.9 1286.7 543.4 1287.1 545.3 1287.4 531.9 1287.8 542.3 1288.2 540.6 1288.5 550.4 1288.9 539.4 1289.3 548.2 1289.7 546.9 1290.0 548.2 1290.4 552.9 1290.8 543.1 1291.1 552.8 1291.5 541.9 1291.9 550.6 1292.2 539.7 1292.6 544.7 1293.0 540.3 1293.3 552.5 1293.7 543.6 1294.1 542.8 1294.4 545.3 1294.8 547.4 1295.2 550.0 1295.6 564.2 1295.9 544.3 1296.3 553.8 1296.7 552.7 1297.0 545.2 1297.4 561.4 1297.8 551.4 1298.1 543.7 1298.5 547.3 1298.9 548.6 1299.2 551.7 1299.6 546.7 1300.0 555.9 1300.4 550.7 1300.7 543.5 1301.1 552.7 1301.5 548.6 1301.8 549.9 1302.2 554.7 1302.6 558.6 1302.9 552.8 1303.3 552.3 1303.7 553.7 1304.0 548.6 1304.4 546.7 1304.8 545.0 1305.1 546.5 1305.5 554.7 1305.9 541.1 1306.3 546.7 1306.6 544.7 1307.0 555.5 1307.4 543.0 1307.7 536.6 1308.1 546.1 1308.5 542.9 1308.8 552.0 1309.2 548.1 1309.6 549.3 1309.9 545.5 1310.3 548.3 1310.7 547.7 1311.1 554.1 1311.4 555.6 1311.8 549.4 1312.2 535.9 1312.5 554.7 1312.9 546.6 1313.3 542.4 1313.6 553.0 1314.0 558.4 1314.4 547.7 1314.7 549.9 1315.1 554.4 1315.5 541.7 1315.8 546.0 1316.2 549.9 1316.6 557.3 1317.0 543.2 1317.3 543.9 1317.7 545.6 1318.1 541.4 1318.4 555.7 1318.8 555.5 1319.2 545.6 1319.5 547.9 1319.9 550.5 1320.3 552.9 1320.6 544.9 1321.0 549.0 1321.4 545.8 1321.8 556.6 1322.1 550.2 1322.5 548.3 1322.9 545.2 1323.2 559.6 1323.6 551.8 1324.0 554.3 1324.3 550.8 1324.7 551.6 1325.1 548.6 1325.4 546.7 1325.8 549.5 1326.2 551.4 1326.6 546.3 1326.9 543.5 1327.3 550.7 1327.7 555.4 1328.0 541.7 1328.4 546.3 1328.8 539.5 1329.1 553.5 1329.5 553.4 1329.9 552.3 1330.2 551.9 1330.6 559.3 1331.0 546.9 1331.3 559.5 1331.7 566.5 1332.1 551.8 1332.5 557.4 1332.8 550.2 1333.2 557.9 1333.6 559.0 1333.9 562.8 1334.3 558.6 1334.7 553.4 1335.0 540.3 1335.4 548.3 1335.8 555.4 1336.1 544.7 1336.5 550.7 1336.9 562.1 1337.3 561.5 1337.6 560.2 1338.0 555.2 1338.4 551.9 1338.7 555.5 1339.1 555.1 1339.5 557.3 1339.8 551.4 1340.2 548.0 1340.6 558.1 1340.9 545.6 1341.3 556.9 1341.7 554.0 1342.0 543.4 1342.4 549.2 1342.8 552.3 1343.2 562.9 1343.5 552.1 1343.9 554.5 1344.3 553.8 1344.6 546.7 1345.0 555.7 1345.4 543.0 1345.7 552.5 1346.1 551.9 1346.5 554.5 1346.8 552.3 1347.2 545.6 1347.6 551.6 1348.0 558.3 1348.3 557.1 1348.7 546.7 1349.1 550.0 1349.4 557.6 1349.8 553.7 1350.2 552.6 1350.5 550.0 1350.9 558.3 1351.3 552.6 1351.6 560.2 1352.0 557.4 1352.4 554.5 1352.7 545.9 1353.1 553.8 1353.5 544.3 1353.9 551.3 1354.2 546.4 1354.6 554.3 1355.0 563.2 1355.3 565.3 1355.7 555.8 1356.1 543.9 1356.4 554.4 1356.8 556.3 1357.2 550.3 1357.5 555.6 1357.9 555.7 1358.3 552.6 1358.7 551.5 1359.0 556.9 1359.4 558.1 1359.8 545.1 1360.1 558.5 1360.5 558.7 1360.9 554.8 1361.2 554.6 1361.6 552.3 1362.0 545.4 1362.3 546.8 1362.7 554.2 1363.1 553.3 1363.5 548.7 1363.8 554.7 1364.2 553.1" fill="none" stroke="none" marker-start="url(#cm)" marker-mid="url(#cm)" marker-end="url(#cm)"/>
<path d="M1087.5 372.8 L1088.1 374.0 L1088.7 375.1 L1089.3 376.1 L1090.0 377.1 L1090.6 378.1 L1091.2 379.0 L1091.8 379.8 L1092.4 380.7 L1093.0 381.5 L1093.7 382.2 L1094.3 383.0 L1094.9 383.7 L1095.5 384.3 L1096.1 385.0 L1096.7 385.6 L1097.3 386.2 L1098.0 386.8 L1098.6 387.3 L1099.2 387.9 L1099.8 388.4 L1100.4 388.9 L1101.0 389.4 L1101.6 389.9 L1102.3 390.3 L1102.9 390.8 L1103.5 391.2 L1104.1 391.6 L1104.7 392.1 L1105.3 392.5 L1106.0 392.8 L1106.6 393.2 L1107.2 393.6 L1107.8 394.0 L1108.4 394.3 L1109.0 394.7 L1109.6 395.0 L1110.3 395.4 L1110.9 395.7 L1111.5 396.0 L1112.1 396.3 L1112.7 396.6 L1113.3 397.0 L1113.9 397.3 L1114.6 397.6 L1115.2 397.8 L1115.8 398.1 L1116.4 398.4 L1117.0 398.7 L1117.6 399.0 L1118.2 399.2 L1118.9 399.5 L1119.5 399.8 L1120.1 400.0 L1120.7 400.3 L1121.3 400.6 L1121.9 400.8 L1122.6 401.1 L1123.2 401.3 L1123.8 401.6 L1124.4 401.8 L1125.0 402.0 L1125.6 402.3 L1126.2 402.5 L1126.9 402.8 L1127.5 403.0 L1128.1 403.2 L1128.7 403.4 L1129.3 403.7 L1129.9 403.9 L1130.5 404.1 L1131.2 404.3 L1131.8 404.5 L1132.4 404.8 L1133.0 405.0 L1133.6 405.2 L1134.2 405.4 L1134.9 405.6 L1135.5 405.8 L1136.1 406.0 L1136.7 406.2 L1137.3 406.4 L1137.9 406.6 L1138.5 406.8 L1139.2 407.0 L1139.8 407.2 L1140.4 407.4 L1141.0 407.6 L1141.6 407.8 L1142.2 408.0 L1142.8 408.2 L1143.5 408.4 L1144.1 408.6 L1144.7 408.8 L1145.3 408.9 L1145.9 409.1 L1146.5 409.3 L1147.2 409.5 L1147.8 409.7 L1148.4 409.9 L1149.0 410.0 L1149.6 410.2 L1150.2 410.4 L1150.8 410.6 L1151.5 410.7 L1152.1 410.9 L1152.7 411.1 L1153.3 411.2 L1153.9 411.4 L1154.5 411.6 L1155.2 411.7 L1155.8 411.9 L1156.4 412.1 L1157.0 412.2 L1157.6 412.4 L1158.2 412.6 L1158.8 412.7 L1159.5 412.9 L1160.1 413.0 L1160.7 413.2 L1161.3 413.4 L1161.9 413.5 L1162.5 413.7 L1163.1 413.8 L1163.8 414.0 L1164.4 414.1 L1165.0 414.3 L1165.6 414.4 L1166.2 414.6 L1166.8 414.7 L1167.5 414.9 L1168.1 415.0 L1168.7 415.2 L1169.3 415.3 L1169.9 415.4 L1170.5 415.6 L1171.1 415.7 L1171.8 415.9 L1172.4 416.0 L1173.0 416.1 L1173.6 416.3 L1174.2 416.4 L1174.8 416.6 L1175.4 416.7 L1176.1 416.8 L1176.7 417.0 L1177.3 417.1 L1177.9 417.2 L1178.5 417.4 L1179.1 417.5 L1179.8 417.6 L1180.4 417.7 L1181.0 417.9 L1181.6 418.0 L1182.2 418.1 L1182.8 418.2 L1183.4 418.4 L1184.1 418.5 L1184.7 418.6 L1185.3 418.7 L1185.9 418.9 L1186.5 419.0 L1187.1 419.1 L1187.7 419.2 L1188.4 419.3 L1189.0 419.5 L1189.6 419.6 L1190.2 419.7 L1190.8 419.8 L1191.4 419.9 L1192.0 420.0 L1192.7 420.1 L1193.3 420.3 L1193.9 420.4 L1194.5 420.5 L1195.1 420.6 L1195.7 420.7 L1196.4 420.8 L1197.0 420.9 L1197.6 421.0 L1198.2 421.1 L1198.8 421.2 L1199.4 421.4 L1200.0 421.5 L1200.7 421.6 L1201.3 421.7 L1201.9 421.8 L1202.5 421.9 L1203.1 422.0 L1203.7 422.1 L1204.3 422.2 L1205.0 422.3 L1205.6 422.4 L1206.2 422.5 L1206.8 422.6 L1207.4 422.7 L1208.0 422.8 L1208.7 422.9 L1209.3 423.0 L1209.9 423.1 L1210.5 423.1 L1211.1 423.2 L1211.7 423.3 L1212.3 423.4 L1213.0 423.5 L1213.6 423.6 L1214.2 423.7 L1214.8 423.8 L1215.4 423.9 L1216.0 424.0 L1216.7 424.1 L1217.3 424.2 L1217.9 424.2 L1218.5 424.3 L1219.1 424.4 L1219.7 424.5 L1220.3 424.6 L1221.0 424.7 L1221.6 424.8 L1222.2 424.8 L1222.8 424.9 L1223.4 425.0 L1224.0 425.1 L1224.6 425.2 L1225.3 425.3 L1225.9 425.3 L1226.5 425.4 L1227.1 425.5 L1227.7 425.6 L1228.3 425.7 L1229.0 425.7 L1229.6 425.8 L1230.2 425.9 L1230.8 426.0 L1231.4 426.0 L1232.0 426.1 L1232.6 426.2 L1233.3 426.3 L1233.9 426.3 L1234.5 426.4 L1235.1 426.5 L1235.7 426.6 L1236.3 426.6 L1236.9 426.7 L1237.6 426.8 L1238.2 426.8 L1238.8 426.9 L1239.4 427.0 L1240.0 427.1 L1240.6 427.1 L1241.2 427.2 L1241.9 427.3 L1242.5 427.3 L1243.1 427.4 L1243.7 427.5 L1244.3 427.5 L1244.9 427.6 L1245.6 427.7 L1246.2 427.7 L1246.8 427.8 L1247.4 427.9 L1248.0 427.9 L1248.6 428.0 L1249.2 428.1 L1249.9 428.1 L1250.5 428.2 L1251.1 428.2 L1251.7 428.3 L1252.3 428.4 L1252.9 428.4 L1253.5 428.5 L1254.2 428.6 L1254.8 428.6 L1255.4 428.7 L1256.0 428.7 L1256.6 428.8 L1257.2 428.9 L1257.9 428.9 L1258.5 429.0 L1259.1 429.0 L1259.7 429.1 L1260.3 429.1 L1260.9 429.2 L1261.5 429.3 L1262.2 429.3 L1262.8 429.4 L1263.4 429.4 L1264.0 429.5 L1264.6 429.5 L1265.2 429.6 L1265.8 429.6 L1266.5 429.7 L1267.1 429.7 L1267.7 429.8 L1268.3 429.9 L1268.9 429.9 L1269.5 430.0 L1270.2 430.0 L1270.8 430.1 L1271.4 430.1 L1272.0 430.2 L1272.6 430.2 L1273.2 430.3 L1273.8 430.3 L1274.5 430.4 L1275.1 430.4 L1275.7 430.5 L1276.3 430.5 L1276.9 430.6 L1277.5 430.6 L1278.2 430.7 L1278.8 430.7 L1279.4 430.7 L1280.0 430.8 L1280.6 430.8 L1281.2 430.9 L1281.8 430.9 L1282.5 431.0 L1283.1 431.0 L1283.7 431.1 L1284.3 431.1 L1284.9 431.2 L1285.5 431.2 L1286.1 431.2 L1286.8 431.3 L1287.4 431.3 L1288.0 431.4 L1288.6 431.4 L1289.2 431.5 L1289.8 431.5 L1290.5 431.5 L1291.1 431.6 L1291.7 431.6 L1292.3 431.7 L1292.9 431.7 L1293.5 431.7 L1294.1 431.8 L1294.8 431.8 L1295.4 431.9 L1296.0 431.9 L1296.6 431.9 L1297.2 432.0 L1297.8 432.0 L1298.4 432.1 L1299.1 432.1 L1299.7 432.1 L1300.3 432.2 L1300.9 432.2 L1301.5 432.3 L1302.1 432.3 L1302.8 432.3 L1303.4 432.4 L1304.0 432.4 L1304.6 432.4 L1305.2 432.5 L1305.8 432.5 L1306.4 432.5 L1307.1 432.6 L1307.7 432.6 L1308.3 432.7 L1308.9 432.7 L1309.5 432.7 L1310.1 432.8 L1310.7 432.8 L1311.4 432.8 L1312.0 432.9 L1312.6 432.9 L1313.2 432.9 L1313.8 433.0 L1314.4 433.0 L1315.0 433.0 L1315.7 433.1 L1316.3 433.1 L1316.9 433.1 L1317.5 433.2 L1318.1 433.2 L1318.7 433.2 L1319.4 433.2 L1320.0 433.3 L1320.6 433.3 L1321.2 433.3 L1321.8 433.4 L1322.4 433.4 L1323.0 433.4 L1323.7 433.5 L1324.3 433.5 L1324.9 433.5 L1325.5 433.6 L1326.1 433.6 L1326.7 433.6 L1327.3 433.6 L1328.0 433.7 L1328.6 433.7 L1329.2 433.7 L1329.8 433.8 L1330.4 433.8 L1331.0 433.8 L1331.7 433.8 L1332.3 433.9 L1332.9 433.9 L1333.5 433.9 L1334.1 433.9 L1334.7 434.0 L1335.3 434.0 L1336.0 434.0 L1336.6 434.0 L1337.2 434.1 L1337.8 434.1 L1338.4 434.1 L1339.0 434.2 L1339.7 434.2 L1340.3 434.2 L1340.9 434.2 L1341.5 434.3 L1342.1 434.3 L1342.7 434.3 L1343.3 434.3 L1344.0 434.4 L1344.6 434.4 L1345.2 434.4 L1345.8 434.4 L1346.4 434.4 L1347.0 434.5 L1347.6 434.5 L1348.3 434.5 L1348.9 434.5 L1349.5 434.6 L1350.1 434.6 L1350.7 434.6 L1351.3 434.6 L1352.0 434.7 L1352.6 434.7 L1353.2 434.7 L1353.8 434.7 L1354.4 434.7 L1355.0 434.8 L1355.6 434.8 L1356.3 434.8 L1356.9 434.8 L1357.5 434.9 L1358.1 434.9 L1358.7 434.9 L1359.3 434.9 L1359.9 434.9 L1360.6 435.0 L1361.2 435.0 L1361.8 435.0 L1362.4 435.0 L1363.0 435.0 L1363.6 435.1 L1364.2 435.1" fill="none" stroke="#008000" stroke-width="1.8"/>
<path d="M1087.8 380.1 1088.2 371.7 1088.7 375.5 1089.1 384.5 1089.5 374.9 1090.0 363.5 1090.4 375.7 1090.8 383.3 1091.3 371.2 1091.7 377.5 1092.1 379.1 1092.5 371.5 1093.0 375.8 1093.4 369.1 1093.8 387.3 1094.3 385.6 1094.7 384.0 1095.1 382.7 1095.6 391.6 1096.0 383.1 1096.4 393.9 1096.8 389.2 1097.3 387.7 1097.7 385.0 1098.1 385.0 1098.6 392.0 1099.0 385.6 1099.4 386.2 1099.9 389.0 1100.3 388.6 1100.7 392.3 1101.2 378.4 1101.6 381.4 1102.0 388.6 1102.4 382.3 1102.9 396.2 1103.3 394.3 1103.7 393.4 1104.2 388.9 1104.6 394.0 1105.0 397.9 1105.5 401.7 1105.9 399.6 1106.3 387.3 1106.7 390.4 1107.2 402.2 1107.6 382.4 1108.0 397.1 1108.5 397.2 1108.9 395.6 1109.3 394.6 1109.8 397.4 1110.2 395.5 1110.6 390.8 1111.1 390.2 1111.5 400.2 1111.9 397.2 1112.3 401.1 1112.8 399.3 1113.2 397.5 1113.6 399.0 1114.1 393.7 1114.5 403.2 1114.9 395.3 1115.4 393.4 1115.8 400.0 1116.2 400.3 1116.7 394.8 1117.1 401.0 1117.5 400.9 1117.9 397.8 1118.4 414.5 1118.8 395.2 1119.2 398.2 1119.7 396.3 1120.1 408.5 1120.5 402.8 1121.0 397.7 1121.4 397.2 1121.8 404.4 1122.2 403.7 1122.7 391.7 1123.1 399.6 1123.5 393.9 1124.0 409.9 1124.4 399.2 1124.8 405.3 1125.3 405.2 1125.7 394.5 1126.1 408.9 1126.6 408.4 1127.0 407.1 1127.4 404.4 1127.8 402.9 1128.3 400.7 1128.7 395.8 1129.1 400.7 1129.6 392.9 1130.0 397.4 1130.4 400.7 1130.9 405.1 1131.3 395.9 1131.7 406.4 1132.1 398.6 1132.6 404.6 1133.0 408.4 1133.4 401.1 1133.9 401.1 1134.3 403.5 1134.7 398.9 1135.2 405.0 1135.6 410.3 1136.0 405.5 1136.5 394.7 1136.9 412.2 1137.3 417.5 1137.7 406.5 1138.2 413.0 1138.6 398.6 1139.0 406.0 1139.5 412.8 1139.9 407.6 1140.3 413.1 1140.8 404.6 1141.2 402.0 1141.6 400.4 1142.1 401.5 1142.5 408.2 1142.9 401.0 1143.3 405.3 1143.8 416.3 1144.2 400.3 1144.6 414.1 1145.1 412.5 1145.5 418.5 1145.9 414.2 1146.4 422.1 1146.8 416.9 1147.2 414.6 1147.6 416.9 1148.1 412.1 1148.5 405.0 1148.9 411.9 1149.4 407.5 1149.8 403.5 1150.2 414.1 1150.7 401.5 1151.1 410.9 1151.5 411.0 1152.0 408.7 1152.4 402.7 1152.8 418.5 1153.2 405.6 1153.7 414.3 1154.1 410.9 1154.5 417.7 1155.0 427.2 1155.4 404.6 1155.8 407.3 1156.3 418.5 1156.7 417.7 1157.1 419.6 1157.5 412.6 1158.0 400.0 1158.4 413.4 1158.8 423.1 1159.3 408.3 1159.7 418.5 1160.1 422.8 1160.6 410.8 1161.0 413.3 1161.4 412.3 1161.9 409.1 1162.3 407.7 1162.7 426.5 1163.1 412.8 1163.6 406.9 1164.0 406.4 1164.4 420.5 1164.9 425.4 1165.3 421.1 1165.7 412.1 1166.2 415.8 1166.6 409.6 1167.0 415.9 1167.4 422.6 1167.9 421.8 1168.3 416.5 1168.7 410.1 1169.2 406.2 1169.6 421.5 1170.0 412.8 1170.5 416.0 1170.9 422.8 1171.3 423.0 1171.8 406.3 1172.2 418.6 1172.6 416.6 1173.0 413.4 1173.5 414.0 1173.9 412.1 1174.3 421.4 1174.8 418.9 1175.2 415.1 1175.6 414.6 1176.1 421.3 1176.5 427.3 1176.9 411.7 1177.4 411.9 1177.8 411.4 1178.2 418.0 1178.6 428.4 1179.1 419.9 1179.5 405.2 1179.9 415.8 1180.4 416.2 1180.8 427.8 1181.2 421.9 1181.7 412.0 1182.1 416.0 1182.5 419.0 1182.9 410.6 1183.4 414.0 1183.8 415.1 1184.2 419.6 1184.7 416.0 1185.1 412.4 1185.5 416.9 1186.0 426.6 1186.4 420.0 1186.8 420.7 1187.3 416.6 1187.7 411.4 1188.1 419.7 1188.5 422.0 1189.0 414.9 1189.4 416.6 1189.8 424.4 1190.3 416.9 1190.7 418.6 1191.1 417.7 1191.6 429.3 1192.0 432.1 1192.4 429.3 1192.8 430.5 1193.3 414.3 1193.7 414.2 1194.1 428.3 1194.6 411.5 1195.0 427.5 1195.4 425.6 1195.9 407.5 1196.3 428.7 1196.7 416.6 1197.2 415.9 1197.6 414.2 1198.0 417.1 1198.4 419.6 1198.9 411.8 1199.3 421.8 1199.7 420.8 1200.2 419.0 1200.6 423.6 1201.0 422.5 1201.5 414.3 1201.9 411.8 1202.3 418.1 1202.8 422.6 1203.2 425.0 1203.6 424.4 1204.0 424.4 1204.5 424.9 1204.9 422.8 1205.3 423.7 1205.8 415.8 1206.2 431.1 1206.6 425.0 1207.1 417.6 1207.5 425.2 1207.9 425.2 1208.3 419.4 1208.8 423.3 1209.2 428.8 1209.6 422.1 1210.1 419.2 1210.5 433.5 1210.9 417.6 1211.4 433.8 1211.8 419.0 1212.2 431.4 1212.7 422.0 1213.1 423.8 1213.5 417.3 1213.9 424.1 1214.4 426.3 1214.8 428.3 1215.2 422.5 1215.7 425.3 1216.1 418.6 1216.5 421.5 1217.0 416.4 1217.4 419.8 1217.8 423.1 1218.2 424.6 1218.7 420.5 1219.1 419.7 1219.5 432.6 1220.0 422.0 1220.4 426.7 1220.8 422.6 1221.3 419.8 1221.7 436.5 1222.1 425.5 1222.6 418.7 1223.0 435.5 1223.4 423.6 1223.8 424.9 1224.3 428.5 1224.7 419.6 1225.1 419.5 1225.6 425.1 1226.0 416.6 1226.4 416.4 1226.9 424.1 1227.3 420.3 1227.7 420.1 1228.2 414.9 1228.6 420.6 1229.0 421.4 1229.4 424.9 1229.9 421.3 1230.3 416.1 1230.7 426.3 1231.2 426.5 1231.6 431.8 1232.0 410.3 1232.5 428.4 1232.9 429.1 1233.3 429.6 1233.7 418.9 1234.2 424.0 1234.6 438.7 1235.0 425.4 1235.5 415.2 1235.9 426.7 1236.3 425.8 1236.8 408.9 1237.2 428.0 1237.6 427.9 1238.1 422.8 1238.5 411.8 1238.9 424.1 1239.3 436.7 1239.8 427.7 1240.2 428.2 1240.6 422.3 1241.1 429.2 1241.5 426.2 1241.9 434.9 1242.4 434.9 1242.8 426.8 1243.2 417.2 1243.6 433.2 1244.1 437.0 1244.5 420.1 1244.9 425.0 1245.4 422.5 1245.8 428.5 1246.2 426.0 1246.7 428.1 1247.1 427.6 1247.5 416.7 1248.0 430.2 1248.4 430.2 1248.8 427.7 1249.2 428.9 1249.7 417.5 1250.1 428.9 1250.5 425.5 1251.0 435.5 1251.4 424.7 1251.8 424.1 1252.3 424.1 1252.7 438.0 1253.1 432.0 1253.5 444.4 1254.0 418.1 1254.4 429.0 1254.8 418.3 1255.3 416.6 1255.7 422.2 1256.1 432.4 1256.6 429.9 1257.0 423.8 1257.4 440.6 1257.9 420.2 1258.3 419.6 1258.7 423.4 1259.1 430.5 1259.6 426.6 1260.0 438.7 1260.4 434.7 1260.9 431.7 1261.3 433.6 1261.7 418.8 1262.2 426.3 1262.6 443.9 1263.0 422.1 1263.5 426.1 1263.9 430.7 1264.3 433.7 1264.7 416.6 1265.2 427.9 1265.6 427.7 1266.0 439.2 1266.5 433.0 1266.9 424.0 1267.3 428.7 1267.8 432.3 1268.2 431.5 1268.6 439.4 1269.0 444.8 1269.5 426.4 1269.9 438.7 1270.3 439.5 1270.8 427.9 1271.2 424.2 1271.6 432.0 1272.1 423.2 1272.5 429.7 1272.9 449.3 1273.4 420.1 1273.8 436.8 1274.2 420.4 1274.6 431.9 1275.1 430.6 1275.5 433.1 1275.9 436.5 1276.4 426.6 1276.8 420.1 1277.2 422.4 1277.7 433.8 1278.1 427.3 1278.5 424.0 1278.9 426.9 1279.4 438.5 1279.8 417.9 1280.2 435.2 1280.7 435.7 1281.1 429.8 1281.5 429.3 1282.0 434.2 1282.4 438.8 1282.8 438.3 1283.3 430.8 1283.7 442.4 1284.1 423.9 1284.5 426.9 1285.0 429.6 1285.4 429.7 1285.8 436.4 1286.3 434.5 1286.7 425.6 1287.1 434.3 1287.6 421.4 1288.0 424.9 1288.4 427.0 1288.9 432.7 1289.3 437.0 1289.7 432.2 1290.1 437.3 1290.6 433.6 1291.0 433.6 1291.4 434.9 1291.9 424.4 1292.3 436.9 1292.7 436.1 1293.2 424.2 1293.6 430.0 1294.0 428.5 1294.4 435.5 1294.9 429.6 1295.3 423.6 1295.7 431.6 1296.2 429.1 1296.6 424.2 1297.0 428.1 1297.5 424.2 1297.9 439.2 1298.3 442.7 1298.8 438.8 1299.2 429.3 1299.6 436.1 1300.0 444.4 1300.5 420.9 1300.9 424.0 1301.3 435.4 1301.8 436.1 1302.2 436.4 1302.6 427.7 1303.1 429.4 1303.5 431.3 1303.9 423.7 1304.3 437.3 1304.8 439.7 1305.2 432.3 1305.6 432.6 1306.1 431.8 1306.5 429.8 1306.9 441.9 1307.4 422.6 1307.8 443.5 1308.2 430.4 1308.7 430.3 1309.1 427.4 1309.5 431.2 1309.9 437.7 1310.4 433.8 1310.8 441.1 1311.2 433.7 1311.7 434.1 1312.1 444.3 1312.5 419.2 1313.0 436.4 1313.4 429.4 1313.8 424.7 1314.3 433.0 1314.7 435.4 1315.1 439.7 1315.5 437.4 1316.0 437.4 1316.4 433.9 1316.8 428.1 1317.3 431.8 1317.7 423.8 1318.1 430.6 1318.6 431.6 1319.0 451.9 1319.4 434.1 1319.8 431.5 1320.3 442.3 1320.7 433.5 1321.1 437.5 1321.6 434.5 1322.0 433.5 1322.4 435.0 1322.9 433.6 1323.3 431.1 1323.7 431.4 1324.2 437.4 1324.6 427.7 1325.0 433.0 1325.4 431.1 1325.9 422.7 1326.3 423.1 1326.7 420.0 1327.2 434.9 1327.6 430.9 1328.0 430.5 1328.5 432.9 1328.9 434.5 1329.3 428.4 1329.7 426.6 1330.2 420.0 1330.6 436.9 1331.0 430.8 1331.5 438.3 1331.9 435.3 1332.3 448.3 1332.8 420.6 1333.2 443.6 1333.6 433.1 1334.1 444.8 1334.5 435.9 1334.9 440.2 1335.3 446.8 1335.8 440.3 1336.2 435.3 1336.6 434.7 1337.1 445.9 1337.5 430.0 1337.9 435.9 1338.4 441.0 1338.8 424.6 1339.2 438.3 1339.7 432.6 1340.1 424.7 1340.5 433.7 1340.9 434.8 1341.4 428.2 1341.8 436.8 1342.2 433.7 1342.7 435.1 1343.1 436.6 1343.5 429.6 1344.0 432.5 1344.4 425.5 1344.8 431.8 1345.2 443.0 1345.7 431.9 1346.1 436.1 1346.5 435.9 1347.0 428.4 1347.4 431.8 1347.8 444.3 1348.3 422.0 1348.7 435.3 1349.1 444.5 1349.6 436.5 1350.0 431.5 1350.4 441.4 1350.8 439.8 1351.3 445.6 1351.7 432.9 1352.1 437.8 1352.6 425.2 1353.0 432.9 1353.4 433.1 1353.9 438.4 1354.3 428.6 1354.7 443.1 1355.1 432.9 1355.6 431.7 1356.0 439.5 1356.4 442.0 1356.9 427.6 1357.3 423.5 1357.7 432.3 1358.2 423.5 1358.6 431.9 1359.0 436.0 1359.5 437.3 1359.9 442.4 1360.3 429.2 1360.7 438.4 1361.2 438.8 1361.6 432.6 1362.0 431.9 1362.5 439.5 1362.9 433.6 1363.3 435.9 1363.8 434.1 1364.2 435.9" fill="none" stroke="none" marker-start="url(#cg)" marker-mid="url(#cg)" marker-end="url(#cg)"/>
<path d="M1087.8 394.9 1088.3 405.1 1088.8 395.8 1089.3 386.7 1089.8 394.4 1090.3 391.9 1090.8 389.7 1091.3 397.9 1091.7 392.4 1092.2 394.1 1092.7 390.9 1093.2 389.7 1093.7 392.4 1094.2 393.8 1094.7 387.9 1095.2 392.1 1095.7 400.3 1096.2 386.4 1096.7 390.5 1097.2 395.7 1097.6 393.1 1098.1 397.6 1098.6 392.1 1099.1 400.3 1099.6 387.6 1100.1 390.4 1100.6 397.8 1101.1 390.2 1101.6 400.2 1102.1 395.5 1102.6 397.9 1103.1 389.3 1103.6 389.2 1104.0 399.6 1104.5 391.9 1105.0 390.2 1105.5 394.5 1106.0 380.4 1106.5 400.8 1107.0 386.0 1107.5 385.1 1108.0 394.6 1108.5 398.5 1109.0 386.7 1109.5 405.4 1109.9 393.0 1110.4 400.1 1110.9 392.9 1111.4 395.7 1111.9 399.4 1112.4 390.0 1112.9 386.9 1113.4 399.7 1113.9 389.5 1114.4 392.3 1114.9 396.2 1115.4 395.5 1115.9 390.0 1116.3 387.1 1116.8 394.2 1117.3 405.3 1117.8 388.8 1118.3 390.8 1118.8 402.7 1119.3 395.5 1119.8 392.9 1120.3 394.3 1120.8 391.3 1121.3 397.3 1121.8 389.6 1122.2 406.8 1122.7 391.0 1123.2 395.8 1123.7 393.5 1124.2 389.5 1124.7 385.9 1125.2 398.0 1125.7 393.3 1126.2 398.0 1126.7 392.6 1127.2 395.8 1127.7 399.0 1128.2 387.2 1128.6 391.0 1129.1 392.8 1129.6 386.1 1130.1 401.2 1130.6 390.8 1131.1 384.7 1131.6 394.7 1132.1 397.3 1132.6 396.9 1133.1 386.6 1133.6 387.5 1134.1 391.2 1134.5 388.1 1135.0 396.3 1135.5 394.8 1136.0 388.7 1136.5 397.7 1137.0 391.8 1137.5 393.0 1138.0 397.2 1138.5 391.8 1139.0 399.4 1139.5 396.2 1140.0 403.0 1140.5 399.3 1140.9 397.4 1141.4 391.1 1141.9 392.8 1142.4 399.3 1142.9 394.2 1143.4 381.4 1143.9 392.5 1144.4 390.8 1144.9 403.7 1145.4 395.5 1145.9 387.1 1146.4 400.2 1146.8 397.5 1147.3 396.7 1147.8 393.6 1148.3 389.9 1148.8 401.8 1149.3 389.5 1149.8 406.4 1150.3 397.6 1150.8 390.9 1151.3 398.9 1151.8 397.3 1152.3 395.7 1152.8 384.8 1153.2 398.1 1153.7 388.1 1154.2 383.0 1154.7 395.0 1155.2 397.1 1155.7 393.0 1156.2 398.1 1156.7 394.9 1157.2 398.5 1157.7 400.6 1158.2 401.2 1158.7 388.3 1159.1 396.5 1159.6 398.9 1160.1 387.6 1160.6 394.0 1161.1 394.8 1161.6 396.9 1162.1 393.1 1162.6 394.7 1163.1 395.3 1163.6 394.0 1164.1 389.1 1164.6 394.1 1165.1 386.4 1165.5 388.1 1166.0 398.3 1166.5 398.0 1167.0 399.7 1167.5 397.0 1168.0 389.4 1168.5 394.8 1169.0 395.6 1169.5 392.6 1170.0 404.3 1170.5 391.5 1171.0 394.1 1171.4 389.7 1171.9 394.7 1172.4 388.0 1172.9 387.7 1173.4 394.7 1173.9 390.2 1174.4 397.7 1174.9 396.8 1175.4 398.8 1175.9 394.2 1176.4 399.4 1176.9 398.7 1177.4 394.3 1177.8 400.7 1178.3 390.1 1178.8 397.9 1179.3 394.4 1179.8 394.7 1180.3 388.0 1180.8 390.1 1181.3 394.4 1181.8 396.2 1182.3 388.8 1182.8 393.9 1183.3 398.5 1183.7 392.5 1184.2 389.9 1184.7 393.4 1185.2 392.9 1185.7 385.6 1186.2 395.9 1186.7 389.3 1187.2 385.1 1187.7 384.5 1188.2 399.1 1188.7 390.5 1189.2 392.5 1189.7 380.9 1190.1 386.6 1190.6 388.0 1191.1 387.1 1191.6 390.3 1192.1 398.5 1192.6 381.7 1193.1 401.8 1193.6 389.2 1194.1 389.2 1194.6 392.1 1195.1 388.0 1195.6 393.2 1196.0 389.0 1196.5 391.9 1197.0 396.9 1197.5 388.1 1198.0 396.0 1198.5 389.9 1199.0 398.5 1199.5 391.9 1200.0 390.3 1200.5 387.2 1201.0 398.7 1201.5 395.9 1202.0 393.2 1202.4 398.4 1202.9 390.0 1203.4 381.0 1203.9 389.6 1204.4 389.9 1204.9 397.4 1205.4 390.2 1205.9 390.4 1206.4 383.0 1206.9 394.9 1207.4 386.8 1207.9 394.9 1208.3 394.5 1208.8 395.3 1209.3 391.7 1209.8 400.8 1210.3 395.0 1210.8 385.5 1211.3 402.4 1211.8 388.6 1212.3 389.1 1212.8 395.3 1213.3 397.1 1213.8 387.2 1214.3 394.9 1214.7 391.5 1215.2 394.2 1215.7 398.8 1216.2 387.8 1216.7 389.7 1217.2 397.9 1217.7 387.4 1218.2 399.5 1218.7 399.7 1219.2 388.7 1219.7 395.3 1220.2 393.1 1220.6 384.9 1221.1 398.6 1221.6 389.9 1222.1 395.2 1222.6 392.6 1223.1 394.2 1223.6 397.1 1224.1 392.8 1224.6 397.8 1225.1 393.0 1225.6 398.0 1226.1 394.5 1226.6 392.4 1227.0 400.3 1227.5 393.4 1228.0 389.5 1228.5 392.5 1229.0 388.3 1229.5 398.2 1230.0 390.1 1230.5 391.5 1231.0 407.2 1231.5 393.1 1232.0 388.6 1232.5 393.4 1232.9 392.9 1233.4 393.8 1233.9 393.9 1234.4 398.4 1234.9 396.6 1235.4 404.3 1235.9 382.4 1236.4 393.2 1236.9 392.0 1237.4 389.9 1237.9 390.5 1238.4 393.5 1238.9 401.1 1239.3 399.2 1239.8 384.5 1240.3 390.9 1240.8 389.7 1241.3 398.5 1241.8 395.5 1242.3 391.7 1242.8 397.1 1243.3 387.0 1243.8 397.0 1244.3 395.3 1244.8 399.0 1245.2 391.3 1245.7 386.5 1246.2 392.0 1246.7 393.1 1247.2 394.9 1247.7 389.0 1248.2 393.1 1248.7 384.1 1249.2 394.5 1249.7 395.0 1250.2 395.8 1250.7 402.8 1251.2 391.9 1251.6 392.4 1252.1 401.3 1252.6 399.1 1253.1 398.6 1253.6 394.7 1254.1 398.3 1254.6 389.2 1255.1 387.0 1255.6 396.4 1256.1 393.0 1256.6 398.5 1257.1 386.3 1257.5 398.6 1258.0 397.1 1258.5 393.1 1259.0 397.2 1259.5 379.4 1260.0 394.1 1260.5 394.3 1261.0 398.2 1261.5 393.5 1262.0 396.2 1262.5 395.2 1263.0 388.0 1263.5 396.1 1263.9 391.0 1264.4 396.3 1264.9 388.0 1265.4 397.0 1265.9 398.0 1266.4 394.4 1266.9 386.7 1267.4 395.2 1267.9 397.5 1268.4 393.9 1268.9 396.7 1269.4 391.8 1269.8 396.6 1270.3 391.5 1270.8 388.5 1271.3 390.6 1271.8 385.4 1272.3 391.5 1272.8 383.7 1273.3 386.6 1273.8 394.5 1274.3 389.1 1274.8 396.8 1275.3 394.1 1275.8 393.5 1276.2 397.1 1276.7 391.5 1277.2 393.5 1277.7 383.0 1278.2 389.2 1278.7 394.3 1279.2 396.5 1279.7 395.8 1280.2 396.6 1280.7 396.9 1281.2 393.0 1281.7 400.0 1282.1 394.7 1282.6 390.6 1283.1 396.0 1283.6 398.8 1284.1 395.6 1284.6 388.7 1285.1 397.0 1285.6 385.2 1286.1 401.5 1286.6 397.2 1287.1 390.0 1287.6 386.3 1288.1 394.1 1288.5 401.5 1289.0 394.5 1289.5 397.7 1290.0 396.6 1290.5 395.0 1291.0 396.1 1291.5 393.3 1292.0 392.4 1292.5 394.6 1293.0 402.1 1293.5 394.0 1294.0 406.3 1294.4 392.7 1294.9 395.2 1295.4 397.8 1295.9 382.5 1296.4 384.7 1296.9 386.3 1297.4 392.0 1297.9 395.6 1298.4 390.8 1298.9 384.8 1299.4 393.5 1299.9 393.9 1300.4 396.1 1300.8 393.4 1301.3 388.9 1301.8 397.7 1302.3 387.7 1302.8 392.4 1303.3 381.8 1303.8 392.1 1304.3 386.7 1304.8 398.1 1305.3 380.8 1305.8 392.7 1306.3 393.5 1306.7 385.5 1307.2 392.3 1307.7 399.3 1308.2 390.0 1308.7 390.3 1309.2 393.1 1309.7 395.4 1310.2 401.2 1310.7 384.6 1311.2 395.3 1311.7 391.2 1312.2 395.6 1312.7 396.6 1313.1 391.6 1313.6 397.5 1314.1 388.3 1314.6 401.2 1315.1 390.0 1315.6 387.1 1316.1 395.3 1316.6 392.0 1317.1 388.9 1317.6 395.3 1318.1 394.2 1318.6 394.0 1319.0 379.2 1319.5 397.2 1320.0 393.9 1320.5 395.3 1321.0 395.8 1321.5 397.7 1322.0 396.3 1322.5 392.2 1323.0 387.1 1323.5 384.8 1324.0 399.5 1324.5 398.0 1325.0 393.2 1325.4 398.0 1325.9 396.9 1326.4 394.2 1326.9 395.9 1327.4 397.3 1327.9 391.9 1328.4 397.0 1328.9 394.4 1329.4 391.4 1329.9 389.4 1330.4 392.0 1330.9 387.5 1331.3 392.3 1331.8 400.5 1332.3 385.6 1332.8 378.6 1333.3 388.9 1333.8 384.9 1334.3 387.4 1334.8 395.2 1335.3 389.9 1335.8 396.5 1336.3 395.9 1336.8 390.2 1337.3 392.6 1337.7 396.3 1338.2 400.1 1338.7 388.9 1339.2 393.0 1339.7 392.3 1340.2 397.5 1340.7 396.9 1341.2 393.2 1341.7 402.4 1342.2 386.9 1342.7 392.9 1343.2 387.5 1343.6 388.1 1344.1 395.9 1344.6 390.4 1345.1 398.6 1345.6 397.6 1346.1 386.3 1346.6 395.7 1347.1 396.9 1347.6 390.6 1348.1 392.9 1348.6 388.1 1349.1 399.4 1349.6 394.3 1350.0 398.4 1350.5 392.8 1351.0 394.4 1351.5 397.7 1352.0 401.8 1352.5 399.8 1353.0 388.3 1353.5 394.8 1354.0 398.5 1354.5 392.1 1355.0 398.6 1355.5 388.3 1355.9 388.6 1356.4 392.8 1356.9 395.9 1357.4 402.2 1357.9 390.5 1358.4 382.7 1358.9 392.0 1359.4 395.7 1359.9 388.9 1360.4 394.9 1360.9 399.1 1361.4 393.5 1361.9 390.0 1362.3 402.2 1362.8 387.7 1363.3 384.7 1363.8 393.1" fill="none" stroke="none" marker-start="url(#ck)" marker-mid="url(#ck)" marker-end="url(#ck)"/>
<path d="M1089.0 341.2 L1089.7 343.7 L1090.3 346.2 L1090.9 348.7 L1091.5 351.1 L1092.1 353.5 L1092.7 355.9 L1093.3 358.3 L1094.0 360.6 L1094.6 362.8 L1095.2 365.1 L1095.8 367.3 L1096.4 369.5 L1097.0 371.7 L1097.6 373.8 L1098.3 375.9 L1098.9 378.0 L1099.5 380.0 L1100.1 382.1 L1100.7 384.0 L1101.3 386.0 L1102.0 388.0 L1102.6 389.9 L1103.2 391.8 L1103.8 393.6 L1104.4 395.5 L1105.0 397.3 L1105.6 399.1 L1106.3 400.9 L1106.9 402.6 L1107.5 404.3 L1108.1 406.0 L1108.7 407.7 L1109.3 409.4 L1109.9 411.0 L1110.6 412.6 L1111.2 414.2 L1111.8 415.8 L1112.4 417.3 L1113.0 418.8 L1113.6 420.4 L1114.3 421.8 L1114.9 423.3 L1115.5 424.8 L1116.1 426.2 L1116.7 427.6 L1117.3 429.0 L1117.9 430.4 L1118.6 431.7 L1119.2 433.1 L1119.8 434.4 L1120.4 435.7 L1121.0 437.0 L1121.6 438.2 L1122.2 439.5 L1122.9 440.7 L1123.5 441.9 L1124.1 443.1 L1124.7 444.3 L1125.3 445.5 L1125.9 446.6 L1126.6 447.8 L1127.2 448.9 L1127.8 450.0 L1128.4 451.1 L1129.0 452.2 L1129.6 453.3 L1130.2 454.3 L1130.9 455.4 L1131.5 456.4 L1132.1 457.4 L1132.7 458.4 L1133.3 459.4 L1133.9 460.3 L1134.5 461.3 L1135.2 462.2 L1135.8 463.2 L1136.4 464.1 L1137.0 465.0 L1137.6 465.9 L1138.2 466.8 L1138.9 467.7 L1139.5 468.5 L1140.1 469.4 L1140.7 470.2 L1141.3 471.0 L1141.9 471.9 L1142.5 472.7 L1143.2 473.5 L1143.8 474.2 L1144.4 475.0 L1145.0 475.8 L1145.6 476.5 L1146.2 477.3 L1146.8 478.0 L1147.5 478.7 L1148.1 479.5 L1148.7 480.2 L1149.3 480.9 L1149.9 481.5 L1150.5 482.2 L1151.2 482.9 L1151.8 483.5 L1152.4 484.2 L1153.0 484.8 L1153.6 485.5 L1154.2 486.1 L1154.8 486.7 L1155.5 487.3 L1156.1 487.9 L1156.7 488.5 L1157.3 489.1 L1157.9 489.7 L1158.5 490.3 L1159.1 490.8 L1159.8 491.4 L1160.4 491.9 L1161.0 492.5 L1161.6 493.0 L1162.2 493.5 L1162.8 494.0 L1163.5 494.5 L1164.1 495.1 L1164.7 495.6 L1165.3 496.0 L1165.9 496.5 L1166.5 497.0 L1167.1 497.5 L1167.8 497.9 L1168.4 498.4 L1169.0 498.9 L1169.6 499.3 L1170.2 499.8 L1170.8 500.2 L1171.4 500.6 L1172.1 501.0 L1172.7 501.5 L1173.3 501.9 L1173.9 502.3 L1174.5 502.7 L1175.1 503.1 L1175.8 503.5 L1176.4 503.9 L1177.0 504.2 L1177.6 504.6 L1178.2 505.0 L1178.8 505.4 L1179.4 505.7 L1180.1 506.1 L1180.7 506.4 L1181.3 506.8 L1181.9 507.1 L1182.5 507.5 L1183.1 507.8 L1183.7 508.1 L1184.4 508.5 L1185.0 508.8 L1185.6 509.1 L1186.2 509.4 L1186.8 509.7 L1187.4 510.0 L1188.1 510.3 L1188.7 510.6 L1189.3 510.9 L1189.9 511.2 L1190.5 511.5 L1191.1 511.8 L1191.7 512.0 L1192.4 512.3 L1193.0 512.6 L1193.6 512.8 L1194.2 513.1 L1194.8 513.4 L1195.4 513.6 L1196.0 513.9 L1196.7 514.1 L1197.3 514.4 L1197.9 514.6 L1198.5 514.9 L1199.1 515.1 L1199.7 515.3 L1200.4 515.6 L1201.0 515.8 L1201.6 516.0 L1202.2 516.2 L1202.8 516.4 L1203.4 516.7 L1204.0 516.9 L1204.7 517.1 L1205.3 517.3 L1205.9 517.5 L1206.5 517.7 L1207.1 517.9 L1207.7 518.1 L1208.3 518.3 L1209.0 518.5 L1209.6 518.7 L1210.2 518.8 L1210.8 519.0 L1211.4 519.2 L1212.0 519.4 L1212.7 519.6 L1213.3 519.7 L1213.9 519.9 L1214.5 520.1 L1215.1 520.3 L1215.7 520.4 L1216.3 520.6 L1217.0 520.7 L1217.6 520.9 L1218.2 521.1 L1218.8 521.2 L1219.4 521.4 L1220.0 521.5 L1220.6 521.7 L1221.3 521.8 L1221.9 521.9 L1222.5 522.1 L1223.1 522.2 L1223.7 522.4 L1224.3 522.5 L1225.0 522.6 L1225.6 522.8 L1226.2 522.9 L1226.8 523.0 L1227.4 523.2 L1228.0 523.3 L1228.6 523.4 L1229.3 523.5 L1229.9 523.7 L1230.5 523.8 L1231.1 523.9 L1231.7 524.0 L1232.3 524.1 L1232.9 524.2 L1233.6 524.4 L1234.2 524.5 L1234.8 524.6 L1235.4 524.7 L1236.0 524.8 L1236.6 524.9 L1237.3 525.0 L1237.9 525.1 L1238.5 525.2 L1239.1 525.3 L1239.7 525.4 L1240.3 525.5 L1240.9 525.6 L1241.6 525.7 L1242.2 525.8 L1242.8 525.9 L1243.4 526.0 L1244.0 526.0 L1244.6 526.1 L1245.2 526.2 L1245.9 526.3 L1246.5 526.4 L1247.1 526.5 L1247.7 526.6 L1248.3 526.6 L1248.9 526.7 L1249.6 526.8 L1250.2 526.9 L1250.8 527.0 L1251.4 527.0 L1252.0 527.1 L1252.6 527.2 L1253.2 527.3 L1253.9 527.3 L1254.5 527.4 L1255.1 527.5 L1255.7 527.5 L1256.3 527.6 L1256.9 527.7 L1257.5 527.7 L1258.2 527.8 L1258.8 527.9 L1259.4 527.9 L1260.0 528.0 L1260.6 528.1 L1261.2 528.1 L1261.9 528.2 L1262.5 528.2 L1263.1 528.3 L1263.7 528.4 L1264.3 528.4 L1264.9 528.5 L1265.5 528.5 L1266.2 528.6 L1266.8 528.6 L1267.4 528.7 L1268.0 528.7 L1268.6 528.8 L1269.2 528.8 L1269.8 528.9 L1270.5 528.9 L1271.1 529.0 L1271.7 529.0 L1272.3 529.1 L1272.9 529.1 L1273.5 529.2 L1274.2 529.2 L1274.8 529.3 L1275.4 529.3 L1276.0 529.4 L1276.6 529.4 L1277.2 529.5 L1277.8 529.5 L1278.5 529.5 L1279.1 529.6 L1279.7 529.6 L1280.3 529.7 L1280.9 529.7 L1281.5 529.7 L1282.1 529.8 L1282.8 529.8 L1283.4 529.9 L1284.0 529.9 L1284.6 529.9 L1285.2 530.0 L1285.8 530.0 L1286.5 530.0 L1287.1 530.1 L1287.7 530.1 L1288.3 530.2 L1288.9 530.2 L1289.5 530.2 L1290.1 530.3 L1290.8 530.3 L1291.4 530.3 L1292.0 530.3 L1292.6 530.4 L1293.2 530.4 L1293.8 530.4 L1294.4 530.5 L1295.1 530.5 L1295.7 530.5 L1296.3 530.6 L1296.9 530.6 L1297.5 530.6 L1298.1 530.6 L1298.8 530.7 L1299.4 530.7 L1300.0 530.7 L1300.6 530.7 L1301.2 530.8 L1301.8 530.8 L1302.4 530.8 L1303.1 530.8 L1303.7 530.9 L1304.3 530.9 L1304.9 530.9 L1305.5 530.9 L1306.1 531.0 L1306.7 531.0 L1307.4 531.0 L1308.0 531.0 L1308.6 531.1 L1309.2 531.1 L1309.8 531.1 L1310.4 531.1 L1311.1 531.1 L1311.7 531.2 L1312.3 531.2 L1312.9 531.2 L1313.5 531.2 L1314.1 531.2 L1314.7 531.3 L1315.4 531.3 L1316.0 531.3 L1316.6 531.3 L1317.2 531.3 L1317.8 531.4 L1318.4 531.4 L1319.0 531.4 L1319.7 531.4 L1320.3 531.4 L1320.9 531.4 L1321.5 531.5 L1322.1 531.5 L1322.7 531.5 L1323.4 531.5 L1324.0 531.5 L1324.6 531.5 L1325.2 531.6 L1325.8 531.6 L1326.4 531.6 L1327.0 531.6 L1327.7 531.6 L1328.3 531.6 L1328.9 531.6 L1329.5 531.7 L1330.1 531.7 L1330.7 531.7 L1331.3 531.7 L1332.0 531.7 L1332.6 531.7 L1333.2 531.7 L1333.8 531.7 L1334.4 531.8 L1335.0 531.8 L1335.7 531.8 L1336.3 531.8 L1336.9 531.8 L1337.5 531.8 L1338.1 531.8 L1338.7 531.8 L1339.3 531.9 L1340.0 531.9 L1340.6 531.9 L1341.2 531.9 L1341.8 531.9 L1342.4 531.9 L1343.0 531.9 L1343.6 531.9 L1344.3 531.9 L1344.9 532.0 L1345.5 532.0 L1346.1 532.0 L1346.7 532.0 L1347.3 532.0 L1348.0 532.0 L1348.6 532.0 L1349.2 532.0 L1349.8 532.0 L1350.4 532.0 L1351.0 532.0 L1351.6 532.1 L1352.3 532.1 L1352.9 532.1 L1353.5 532.1 L1354.1 532.1 L1354.7 532.1 L1355.3 532.1 L1355.9 532.1 L1356.6 532.1 L1357.2 532.1 L1357.8 532.1 L1358.4 532.1 L1359.0 532.1 L1359.6 532.2 L1360.3 532.2 L1360.9 532.2 L1361.5 532.2 L1362.1 532.2 L1362.7 532.2 L1363.3 532.2 L1363.9 532.2" fill="none" stroke="#0000ff" stroke-width="2.6"/>
<path d="M1089.0 392.8 L1089.7 392.8 L1090.3 392.8 L1090.9 392.8 L1091.5 392.8 L1092.1 392.8 L1092.7 392.8 L1093.3 392.8 L1094.0 392.8 L1094.6 392.8 L1095.2 392.8 L1095.8 392.8 L1096.4 392.8 L1097.0 392.8 L1097.6 392.8 L1098.3 392.8 L1098.9 392.8 L1099.5 392.8 L1100.1 392.8 L1100.7 392.8 L1101.3 392.8 L1102.0 392.8 L1102.6 392.8 L1103.2 392.8 L1103.8 392.8 L1104.4 392.8 L1105.0 392.8 L1105.6 392.8 L1106.3 392.8 L1106.9 392.8 L1107.5 392.8 L1108.1 392.8 L1108.7 392.8 L1109.3 392.8 L1109.9 392.8 L1110.6 392.8 L1111.2 392.8 L1111.8 392.8 L1112.4 392.8 L1113.0 392.8 L1113.6 392.8 L1114.3 392.8 L1114.9 392.8 L1115.5 392.8 L1116.1 392.8 L1116.7 392.8 L1117.3 392.8 L1117.9 392.8 L1118.6 392.8 L1119.2 392.8 L1119.8 392.8 L1120.4 392.8 L1121.0 392.8 L1121.6 392.8 L1122.2 392.8 L1122.9 392.8 L1123.5 392.8 L1124.1 392.8 L1124.7 392.8 L1125.3 392.8 L1125.9 392.8 L1126.6 392.8 L1127.2 392.8 L1127.8 392.8 L1128.4 392.8 L1129.0 392.8 L1129.6 392.8 L1130.2 392.8 L1130.9 392.8 L1131.5 392.8 L1132.1 392.8 L1132.7 392.8 L1133.3 392.8 L1133.9 392.8 L1134.5 392.8 L1135.2 392.8 L1135.8 392.8 L1136.4 392.8 L1137.0 392.8 L1137.6 392.8 L1138.2 392.8 L1138.9 392.8 L1139.5 392.8 L1140.1 392.8 L1140.7 392.8 L1141.3 392.8 L1141.9 392.8 L1142.5 392.8 L1143.2 392.8 L1143.8 392.8 L1144.4 392.8 L1145.0 392.8 L1145.6 392.8 L1146.2 392.8 L1146.8 392.8 L1147.5 392.8 L1148.1 392.8 L1148.7 392.8 L1149.3 392.8 L1149.9 392.8 L1150.5 392.8 L1151.2 392.8 L1151.8 392.8 L1152.4 392.8 L1153.0 392.8 L1153.6 392.8 L1154.2 392.8 L1154.8 392.8 L1155.5 392.8 L1156.1 392.8 L1156.7 392.8 L1157.3 392.8 L1157.9 392.8 L1158.5 392.8 L1159.1 392.8 L1159.8 392.8 L1160.4 392.8 L1161.0 392.8 L1161.6 392.8 L1162.2 392.8 L1162.8 392.8 L1163.5 392.8 L1164.1 392.8 L1164.7 392.8 L1165.3 392.8 L1165.9 392.8 L1166.5 392.8 L1167.1 392.8 L1167.8 392.8 L1168.4 392.8 L1169.0 392.8 L1169.6 392.8 L1170.2 392.8 L1170.8 392.8 L1171.4 392.8 L1172.1 392.8 L1172.7 392.8 L1173.3 392.8 L1173.9 392.8 L1174.5 392.8 L1175.1 392.8 L1175.8 392.8 L1176.4 392.8 L1177.0 392.8 L1177.6 392.8 L1178.2 392.8 L1178.8 392.8 L1179.4 392.8 L1180.1 392.8 L1180.7 392.8 L1181.3 392.8 L1181.9 392.8 L1182.5 392.8 L1183.1 392.8 L1183.7 392.8 L1184.4 392.8 L1185.0 392.8 L1185.6 392.8 L1186.2 392.8 L1186.8 392.8 L1187.4 392.8 L1188.1 392.8 L1188.7 392.8 L1189.3 392.8 L1189.9 392.8 L1190.5 392.8 L1191.1 392.8 L1191.7 392.8 L1192.4 392.8 L1193.0 392.8 L1193.6 392.8 L1194.2 392.8 L1194.8 392.8 L1195.4 392.8 L1196.0 392.8 L1196.7 392.8 L1197.3 392.8 L1197.9 392.8 L1198.5 392.8 L1199.1 392.8 L1199.7 392.8 L1200.4 392.8 L1201.0 392.8 L1201.6 392.8 L1202.2 392.8 L1202.8 392.8 L1203.4 392.8 L1204.0 392.8 L1204.7 392.8 L1205.3 392.8 L1205.9 392.8 L1206.5 392.8 L1207.1 392.8 L1207.7 392.8 L1208.3 392.8 L1209.0 392.8 L1209.6 392.8 L1210.2 392.8 L1210.8 392.8 L1211.4 392.8 L1212.0 392.8 L1212.7 392.8 L1213.3 392.8 L1213.9 392.8 L1214.5 392.8 L1215.1 392.8 L1215.7 392.8 L1216.3 392.8 L1217.0 392.8 L1217.6 392.8 L1218.2 392.8 L1218.8 392.8 L1219.4 392.8 L1220.0 392.8 L1220.6 392.8 L1221.3 392.8 L1221.9 392.8 L1222.5 392.8 L1223.1 392.8 L1223.7 392.8 L1224.3 392.8 L1225.0 392.8 L1225.6 392.8 L1226.2 392.8 L1226.8 392.8 L1227.4 392.8 L1228.0 392.8 L1228.6 392.8 L1229.3 392.8 L1229.9 392.8 L1230.5 392.8 L1231.1 392.8 L1231.7 392.8 L1232.3 392.8 L1232.9 392.8 L1233.6 392.8 L1234.2 392.8 L1234.8 392.8 L1235.4 392.8 L1236.0 392.8 L1236.6 392.8 L1237.3 392.8 L1237.9 392.8 L1238.5 392.8 L1239.1 392.8 L1239.7 392.8 L1240.3 392.8 L1240.9 392.8 L1241.6 392.8 L1242.2 392.8 L1242.8 392.8 L1243.4 392.8 L1244.0 392.8 L1244.6 392.8 L1245.2 392.8 L1245.9 392.8 L1246.5 392.8 L1247.1 392.8 L1247.7 392.8 L1248.3 392.8 L1248.9 392.8 L1249.6 392.8 L1250.2 392.8 L1250.8 392.8 L1251.4 392.8 L1252.0 392.8 L1252.6 392.8 L1253.2 392.8 L1253.9 392.8 L1254.5 392.8 L1255.1 392.8 L1255.7 392.8 L1256.3 392.8 L1256.9 392.8 L1257.5 392.8 L1258.2 392.8 L1258.8 392.8 L1259.4 392.8 L1260.0 392.8 L1260.6 392.8 L1261.2 392.8 L1261.9 392.8 L1262.5 392.8 L1263.1 392.8 L1263.7 392.8 L1264.3 392.8 L1264.9 392.8 L1265.5 392.8 L1266.2 392.8 L1266.8 392.8 L1267.4 392.8 L1268.0 392.8 L1268.6 392.8 L1269.2 392.8 L1269.8 392.8 L1270.5 392.8 L1271.1 392.8 L1271.7 392.8 L1272.3 392.8 L1272.9 392.8 L1273.5 392.8 L1274.2 392.8 L1274.8 392.8 L1275.4 392.8 L1276.0 392.8 L1276.6 392.8 L1277.2 392.8 L1277.8 392.8 L1278.5 392.8 L1279.1 392.8 L1279.7 392.8 L1280.3 392.8 L1280.9 392.8 L1281.5 392.8 L1282.1 392.8 L1282.8 392.8 L1283.4 392.8 L1284.0 392.8 L1284.6 392.8 L1285.2 392.8 L1285.8 392.8 L1286.5 392.8 L1287.1 392.8 L1287.7 392.8 L1288.3 392.8 L1288.9 392.8 L1289.5 392.8 L1290.1 392.8 L1290.8 392.8 L1291.4 392.8 L1292.0 392.8 L1292.6 392.8 L1293.2 392.8 L1293.8 392.8 L1294.4 392.8 L1295.1 392.8 L1295.7 392.8 L1296.3 392.8 L1296.9 392.8 L1297.5 392.8 L1298.1 392.8 L1298.8 392.8 L1299.4 392.8 L1300.0 392.8 L1300.6 392.8 L1301.2 392.8 L1301.8 392.8 L1302.4 392.8 L1303.1 392.8 L1303.7 392.8 L1304.3 392.8 L1304.9 392.8 L1305.5 392.8 L1306.1 392.8 L1306.7 392.8 L1307.4 392.8 L1308.0 392.8 L1308.6 392.8 L1309.2 392.8 L1309.8 392.8 L1310.4 392.8 L1311.1 392.8 L1311.7 392.8 L1312.3 392.8 L1312.9 392.8 L1313.5 392.8 L1314.1 392.8 L1314.7 392.8 L1315.4 392.8 L1316.0 392.8 L1316.6 392.8 L1317.2 392.8 L1317.8 392.8 L1318.4 392.8 L1319.0 392.8 L1319.7 392.8 L1320.3 392.8 L1320.9 392.8 L1321.5 392.8 L1322.1 392.8 L1322.7 392.8 L1323.4 392.8 L1324.0 392.8 L1324.6 392.8 L1325.2 392.8 L1325.8 392.8 L1326.4 392.8 L1327.0 392.8 L1327.7 392.8 L1328.3 392.8 L1328.9 392.8 L1329.5 392.8 L1330.1 392.8 L1330.7 392.8 L1331.3 392.8 L1332.0 392.8 L1332.6 392.8 L1333.2 392.8 L1333.8 392.8 L1334.4 392.8 L1335.0 392.8 L1335.7 392.8 L1336.3 392.8 L1336.9 392.8 L1337.5 392.8 L1338.1 392.8 L1338.7 392.8 L1339.3 392.8 L1340.0 392.8 L1340.6 392.8 L1341.2 392.8 L1341.8 392.8 L1342.4 392.8 L1343.0 392.8 L1343.6 392.8 L1344.3 392.8 L1344.9 392.8 L1345.5 392.8 L1346.1 392.8 L1346.7 392.8 L1347.3 392.8 L1348.0 392.8 L1348.6 392.8 L1349.2 392.8 L1349.8 392.8 L1350.4 392.8 L1351.0 392.8 L1351.6 392.8 L1352.3 392.8 L1352.9 392.8 L1353.5 392.8 L1354.1 392.8 L1354.7 392.8 L1355.3 392.8 L1355.9 392.8 L1356.6 392.8 L1357.2 392.8 L1357.8 392.8 L1358.4 392.8 L1359.0 392.8 L1359.6 392.8 L1360.3 392.8 L1360.9 392.8 L1361.5 392.8 L1362.1 392.8 L1362.7 392.8 L1363.3 392.8 L1363.9 392.8" fill="none" stroke="#000" stroke-width="2.2"/>
<path d="M1088.1 311.1 1091.8 308.2" fill="none" stroke="none" marker-start="url(#cm)" marker-mid="url(#cm)" marker-end="url(#cm)"/>
<path d="M1088.6 338.3 1089.4 351.0 1090.5 365.6" fill="none" stroke="none" marker-start="url(#ck)" marker-mid="url(#ck)" marker-end="url(#ck)"/>
<path d="M1087.6 494.2" fill="none" stroke="none" marker-start="url(#dotk)" marker-mid="url(#dotk)" marker-end="url(#dotk)"/>
<path d="M1088.1 547.0" fill="none" stroke="none" marker-start="url(#dotg)" marker-mid="url(#dotg)" marker-end="url(#dotg)"/>
</svg></body></html>
